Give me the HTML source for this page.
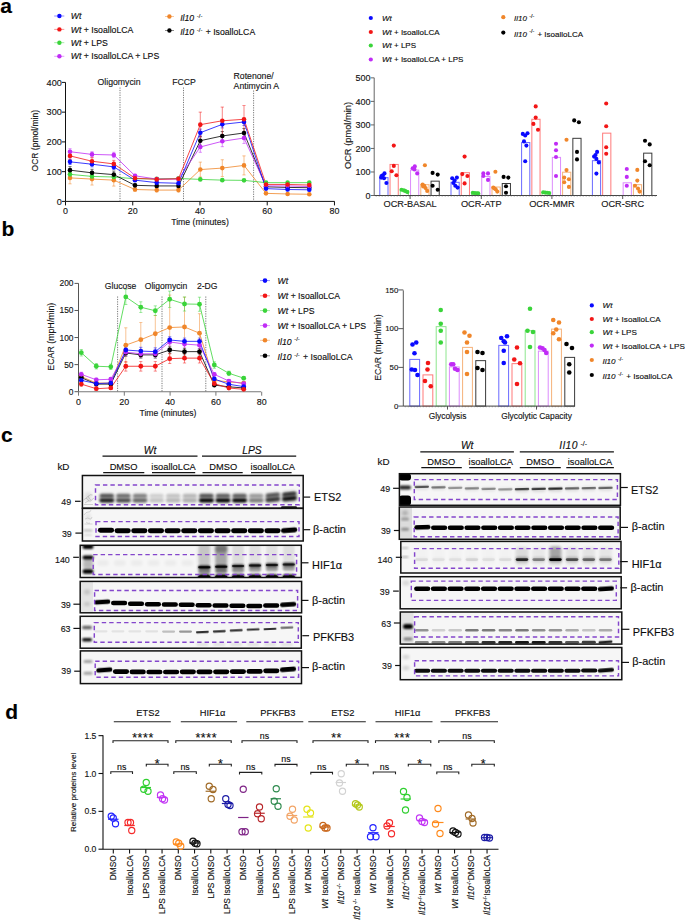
<!DOCTYPE html><html><head><meta charset="utf-8"><style>html,body{margin:0;padding:0;background:#fff;}svg{display:block;}text{font-family:"Liberation Sans",sans-serif;stroke:currentColor;stroke-width:0.13px;}</style></head><body>
<svg width="685" height="921" viewBox="0 0 685 921" font-family="Liberation Sans, sans-serif" fill="#111">
<defs><filter id="b1" x="-20%" y="-50%" width="140%" height="200%"><feGaussianBlur stdDeviation="0.9"/></filter><filter id="b2" x="-20%" y="-50%" width="140%" height="200%"><feGaussianBlur stdDeviation="1.4"/></filter><filter id="b3" x="-20%" y="-50%" width="140%" height="200%"><feGaussianBlur stdDeviation="0.6"/></filter><filter id="b5" x="-20%" y="-50%" width="140%" height="200%"><feGaussianBlur stdDeviation="0.75"/></filter><filter id="b4" x="-30%" y="-30%" width="160%" height="160%"><feGaussianBlur stdDeviation="2.2"/></filter></defs>
<rect x="0" y="0" width="685" height="921" fill="#fff" stroke="none" stroke-width="0"/>
<text x="0.2" y="12.6" font-size="21" font-weight="bold" fill="#000">a</text>
<text x="1.6" y="236.3" font-size="21" font-weight="bold" fill="#000">b</text>
<text x="1" y="442.2" font-size="21" font-weight="bold" fill="#000">c</text>
<text x="5.2" y="718.9" font-size="21" font-weight="bold" fill="#000">d</text>
<line x1="54.2" y1="16" x2="64.3" y2="16" stroke="#0a0aff" stroke-width="1" opacity="0.45"/>
<circle cx="59.4" cy="16" r="2.2" fill="#0a0aff" stroke="none" stroke-width="0"/>
<text x="70.8" y="19.1" font-size="8.7"><tspan font-style="italic">Wt</tspan></text>
<line x1="54.2" y1="29.4" x2="64.3" y2="29.4" stroke="#f21616" stroke-width="1" opacity="0.45"/>
<circle cx="59.4" cy="29.4" r="2.2" fill="#f21616" stroke="none" stroke-width="0"/>
<text x="70.8" y="32.5" font-size="8.7"><tspan font-style="italic">Wt</tspan> + IsoalloLCA</text>
<line x1="54.2" y1="42.7" x2="64.3" y2="42.7" stroke="#3ad43a" stroke-width="1" opacity="0.45"/>
<circle cx="59.4" cy="42.7" r="2.2" fill="#3ad43a" stroke="none" stroke-width="0"/>
<text x="70.8" y="45.8" font-size="8.7"><tspan font-style="italic">Wt</tspan> + LPS</text>
<line x1="54.2" y1="56.3" x2="64.3" y2="56.3" stroke="#c02cf6" stroke-width="1" opacity="0.45"/>
<circle cx="59.4" cy="56.3" r="2.2" fill="#c02cf6" stroke="none" stroke-width="0"/>
<text x="70.8" y="59.4" font-size="8.7"><tspan font-style="italic">Wt</tspan> + IsoalloLCA + LPS</text>
<line x1="165" y1="16.5" x2="174" y2="16.5" stroke="#f0862a" stroke-width="1" opacity="0.45"/>
<circle cx="169.4" cy="16.5" r="2.2" fill="#f0862a" stroke="none" stroke-width="0"/>
<text x="180.2" y="20.9" font-size="8.7"><tspan font-style="italic">Il10</tspan><tspan dx="2.61" dy="-3.3" font-size="5.92">-/-</tspan><tspan dx="0.87" dy="3.3"></tspan></text>
<line x1="165" y1="30.5" x2="174" y2="30.5" stroke="#000000" stroke-width="1" opacity="0.45"/>
<circle cx="169.4" cy="30.5" r="2.2" fill="#000000" stroke="none" stroke-width="0"/>
<text x="180.2" y="34.9" font-size="8.7"><tspan font-style="italic">Il10</tspan><tspan dx="2.61" dy="-3.3" font-size="5.92">-/-</tspan><tspan dx="0.87" dy="3.3"> + IsoalloLCA</tspan></text>
<line x1="65.5" y1="82.4" x2="65.5" y2="201.4" stroke="#111" stroke-width="1"/>
<line x1="65.5" y1="201.4" x2="334.6" y2="201.4" stroke="#111" stroke-width="1"/>
<line x1="61.9" y1="201.4" x2="65.5" y2="201.4" stroke="#111" stroke-width="1"/>
<text x="61.8" y="204.6" font-size="9.1" fill="#222" text-anchor="end">0</text>
<line x1="61.9" y1="171.65" x2="65.5" y2="171.65" stroke="#111" stroke-width="1"/>
<text x="61.8" y="174.85" font-size="9.1" fill="#222" text-anchor="end">100</text>
<line x1="61.9" y1="141.9" x2="65.5" y2="141.9" stroke="#111" stroke-width="1"/>
<text x="61.8" y="145.1" font-size="9.1" fill="#222" text-anchor="end">200</text>
<line x1="61.9" y1="112.15" x2="65.5" y2="112.15" stroke="#111" stroke-width="1"/>
<text x="61.8" y="115.35" font-size="9.1" fill="#222" text-anchor="end">300</text>
<line x1="61.9" y1="82.4" x2="65.5" y2="82.4" stroke="#111" stroke-width="1"/>
<text x="61.8" y="85.6" font-size="9.1" fill="#222" text-anchor="end">400</text>
<line x1="65.5" y1="201.4" x2="65.5" y2="205.4" stroke="#111" stroke-width="1"/>
<text x="65.5" y="213.7" font-size="8.9" fill="#222" text-anchor="middle">0</text>
<line x1="132.74" y1="201.4" x2="132.74" y2="205.4" stroke="#111" stroke-width="1"/>
<text x="132.74" y="213.7" font-size="8.9" fill="#222" text-anchor="middle">20</text>
<line x1="199.98" y1="201.4" x2="199.98" y2="205.4" stroke="#111" stroke-width="1"/>
<text x="199.98" y="213.7" font-size="8.9" fill="#222" text-anchor="middle">40</text>
<line x1="267.22" y1="201.4" x2="267.22" y2="205.4" stroke="#111" stroke-width="1"/>
<text x="267.22" y="213.7" font-size="8.9" fill="#222" text-anchor="middle">60</text>
<line x1="334.46" y1="201.4" x2="334.46" y2="205.4" stroke="#111" stroke-width="1"/>
<text x="334.46" y="213.7" font-size="8.9" fill="#222" text-anchor="middle">80</text>
<text x="200" y="225.1" font-size="8.7" fill="#222" text-anchor="middle">Time (minutes)</text>
<text x="38.4" y="140.7" font-size="8.5" fill="#222" text-anchor="middle" transform="rotate(-90 38.4 140.7)">OCR (pmol/min)</text>
<line x1="120" y1="87.5" x2="120" y2="201.4" stroke="#555" stroke-width="0.8" stroke-dasharray="1.2,1.2"/>
<line x1="183.5" y1="87.5" x2="183.5" y2="201.4" stroke="#555" stroke-width="0.8" stroke-dasharray="1.2,1.2"/>
<line x1="253.6" y1="90.5" x2="253.6" y2="201.4" stroke="#555" stroke-width="0.8" stroke-dasharray="1.2,1.2"/>
<text x="119" y="85.1" font-size="8.7" fill="#222" text-anchor="middle">Oligomycin</text>
<text x="184" y="85.1" font-size="8.7" fill="#222" text-anchor="middle">FCCP</text>
<text x="233.6" y="79.3" font-size="8.7" fill="#222">Rotenone/</text>
<text x="233.6" y="88.8" font-size="8.7" fill="#222">Antimycin A</text>
<line x1="70" y1="183.85" x2="70" y2="171.95" stroke="#f0862a" stroke-width="0.7" opacity="0.75"/>
<line x1="68.4" y1="171.95" x2="71.6" y2="171.95" stroke="#f0862a" stroke-width="0.7" opacity="0.75"/>
<line x1="68.4" y1="183.85" x2="71.6" y2="183.85" stroke="#f0862a" stroke-width="0.7" opacity="0.75"/>
<line x1="92" y1="185.04" x2="92" y2="173.14" stroke="#f0862a" stroke-width="0.7" opacity="0.75"/>
<line x1="90.4" y1="173.14" x2="93.6" y2="173.14" stroke="#f0862a" stroke-width="0.7" opacity="0.75"/>
<line x1="90.4" y1="185.04" x2="93.6" y2="185.04" stroke="#f0862a" stroke-width="0.7" opacity="0.75"/>
<line x1="113.8" y1="186.08" x2="113.8" y2="174.18" stroke="#f0862a" stroke-width="0.7" opacity="0.75"/>
<line x1="112.2" y1="174.18" x2="115.4" y2="174.18" stroke="#f0862a" stroke-width="0.7" opacity="0.75"/>
<line x1="112.2" y1="186.08" x2="115.4" y2="186.08" stroke="#f0862a" stroke-width="0.7" opacity="0.75"/>
<line x1="135" y1="191.28" x2="135" y2="187.72" stroke="#f0862a" stroke-width="0.7" opacity="0.75"/>
<line x1="133.4" y1="187.72" x2="136.6" y2="187.72" stroke="#f0862a" stroke-width="0.7" opacity="0.75"/>
<line x1="133.4" y1="191.28" x2="136.6" y2="191.28" stroke="#f0862a" stroke-width="0.7" opacity="0.75"/>
<line x1="156.7" y1="191.88" x2="156.7" y2="188.31" stroke="#f0862a" stroke-width="0.7" opacity="0.75"/>
<line x1="155.1" y1="188.31" x2="158.3" y2="188.31" stroke="#f0862a" stroke-width="0.7" opacity="0.75"/>
<line x1="155.1" y1="191.88" x2="158.3" y2="191.88" stroke="#f0862a" stroke-width="0.7" opacity="0.75"/>
<line x1="178.5" y1="191.88" x2="178.5" y2="188.31" stroke="#f0862a" stroke-width="0.7" opacity="0.75"/>
<line x1="176.9" y1="188.31" x2="180.1" y2="188.31" stroke="#f0862a" stroke-width="0.7" opacity="0.75"/>
<line x1="176.9" y1="191.88" x2="180.1" y2="191.88" stroke="#f0862a" stroke-width="0.7" opacity="0.75"/>
<line x1="200.3" y1="177" x2="200.3" y2="162.13" stroke="#f0862a" stroke-width="0.7" opacity="0.75"/>
<line x1="198.7" y1="162.13" x2="201.9" y2="162.13" stroke="#f0862a" stroke-width="0.7" opacity="0.75"/>
<line x1="198.7" y1="177" x2="201.9" y2="177" stroke="#f0862a" stroke-width="0.7" opacity="0.75"/>
<line x1="222.3" y1="176.41" x2="222.3" y2="159.75" stroke="#f0862a" stroke-width="0.7" opacity="0.75"/>
<line x1="220.7" y1="159.75" x2="223.9" y2="159.75" stroke="#f0862a" stroke-width="0.7" opacity="0.75"/>
<line x1="220.7" y1="176.41" x2="223.9" y2="176.41" stroke="#f0862a" stroke-width="0.7" opacity="0.75"/>
<line x1="244" y1="174.92" x2="244" y2="155.88" stroke="#f0862a" stroke-width="0.7" opacity="0.75"/>
<line x1="242.4" y1="155.88" x2="245.6" y2="155.88" stroke="#f0862a" stroke-width="0.7" opacity="0.75"/>
<line x1="242.4" y1="174.92" x2="245.6" y2="174.92" stroke="#f0862a" stroke-width="0.7" opacity="0.75"/>
<line x1="266" y1="194.26" x2="266" y2="192.47" stroke="#f0862a" stroke-width="0.7" opacity="0.75"/>
<line x1="264.4" y1="192.47" x2="267.6" y2="192.47" stroke="#f0862a" stroke-width="0.7" opacity="0.75"/>
<line x1="264.4" y1="194.26" x2="267.6" y2="194.26" stroke="#f0862a" stroke-width="0.7" opacity="0.75"/>
<line x1="287.6" y1="194.86" x2="287.6" y2="193.07" stroke="#f0862a" stroke-width="0.7" opacity="0.75"/>
<line x1="286" y1="193.07" x2="289.2" y2="193.07" stroke="#f0862a" stroke-width="0.7" opacity="0.75"/>
<line x1="286" y1="194.86" x2="289.2" y2="194.86" stroke="#f0862a" stroke-width="0.7" opacity="0.75"/>
<line x1="309.3" y1="195.15" x2="309.3" y2="193.37" stroke="#f0862a" stroke-width="0.7" opacity="0.75"/>
<line x1="307.7" y1="193.37" x2="310.9" y2="193.37" stroke="#f0862a" stroke-width="0.7" opacity="0.75"/>
<line x1="307.7" y1="195.15" x2="310.9" y2="195.15" stroke="#f0862a" stroke-width="0.7" opacity="0.75"/>
<line x1="70" y1="176.41" x2="70" y2="172.25" stroke="#3ad43a" stroke-width="0.7" opacity="0.75"/>
<line x1="68.4" y1="172.25" x2="71.6" y2="172.25" stroke="#3ad43a" stroke-width="0.7" opacity="0.75"/>
<line x1="68.4" y1="176.41" x2="71.6" y2="176.41" stroke="#3ad43a" stroke-width="0.7" opacity="0.75"/>
<line x1="92" y1="178.19" x2="92" y2="174.62" stroke="#3ad43a" stroke-width="0.7" opacity="0.75"/>
<line x1="90.4" y1="174.62" x2="93.6" y2="174.62" stroke="#3ad43a" stroke-width="0.7" opacity="0.75"/>
<line x1="90.4" y1="178.19" x2="93.6" y2="178.19" stroke="#3ad43a" stroke-width="0.7" opacity="0.75"/>
<line x1="113.8" y1="178.79" x2="113.8" y2="175.22" stroke="#3ad43a" stroke-width="0.7" opacity="0.75"/>
<line x1="112.2" y1="175.22" x2="115.4" y2="175.22" stroke="#3ad43a" stroke-width="0.7" opacity="0.75"/>
<line x1="112.2" y1="178.79" x2="115.4" y2="178.79" stroke="#3ad43a" stroke-width="0.7" opacity="0.75"/>
<line x1="135" y1="179.68" x2="135" y2="177.9" stroke="#3ad43a" stroke-width="0.7" opacity="0.75"/>
<line x1="133.4" y1="177.9" x2="136.6" y2="177.9" stroke="#3ad43a" stroke-width="0.7" opacity="0.75"/>
<line x1="133.4" y1="179.68" x2="136.6" y2="179.68" stroke="#3ad43a" stroke-width="0.7" opacity="0.75"/>
<line x1="156.7" y1="179.68" x2="156.7" y2="177.9" stroke="#3ad43a" stroke-width="0.7" opacity="0.75"/>
<line x1="155.1" y1="177.9" x2="158.3" y2="177.9" stroke="#3ad43a" stroke-width="0.7" opacity="0.75"/>
<line x1="155.1" y1="179.68" x2="158.3" y2="179.68" stroke="#3ad43a" stroke-width="0.7" opacity="0.75"/>
<line x1="178.5" y1="179.38" x2="178.5" y2="177.6" stroke="#3ad43a" stroke-width="0.7" opacity="0.75"/>
<line x1="176.9" y1="177.6" x2="180.1" y2="177.6" stroke="#3ad43a" stroke-width="0.7" opacity="0.75"/>
<line x1="176.9" y1="179.38" x2="180.1" y2="179.38" stroke="#3ad43a" stroke-width="0.7" opacity="0.75"/>
<line x1="200.3" y1="180.28" x2="200.3" y2="178.49" stroke="#3ad43a" stroke-width="0.7" opacity="0.75"/>
<line x1="198.7" y1="178.49" x2="201.9" y2="178.49" stroke="#3ad43a" stroke-width="0.7" opacity="0.75"/>
<line x1="198.7" y1="180.28" x2="201.9" y2="180.28" stroke="#3ad43a" stroke-width="0.7" opacity="0.75"/>
<line x1="222.3" y1="181.02" x2="222.3" y2="179.24" stroke="#3ad43a" stroke-width="0.7" opacity="0.75"/>
<line x1="220.7" y1="179.24" x2="223.9" y2="179.24" stroke="#3ad43a" stroke-width="0.7" opacity="0.75"/>
<line x1="220.7" y1="181.02" x2="223.9" y2="181.02" stroke="#3ad43a" stroke-width="0.7" opacity="0.75"/>
<line x1="244" y1="181.26" x2="244" y2="179.47" stroke="#3ad43a" stroke-width="0.7" opacity="0.75"/>
<line x1="242.4" y1="179.47" x2="245.6" y2="179.47" stroke="#3ad43a" stroke-width="0.7" opacity="0.75"/>
<line x1="242.4" y1="181.26" x2="245.6" y2="181.26" stroke="#3ad43a" stroke-width="0.7" opacity="0.75"/>
<line x1="266" y1="183.55" x2="266" y2="181.77" stroke="#3ad43a" stroke-width="0.7" opacity="0.75"/>
<line x1="264.4" y1="181.77" x2="267.6" y2="181.77" stroke="#3ad43a" stroke-width="0.7" opacity="0.75"/>
<line x1="264.4" y1="183.55" x2="267.6" y2="183.55" stroke="#3ad43a" stroke-width="0.7" opacity="0.75"/>
<line x1="287.6" y1="183.55" x2="287.6" y2="181.77" stroke="#3ad43a" stroke-width="0.7" opacity="0.75"/>
<line x1="286" y1="181.77" x2="289.2" y2="181.77" stroke="#3ad43a" stroke-width="0.7" opacity="0.75"/>
<line x1="286" y1="183.55" x2="289.2" y2="183.55" stroke="#3ad43a" stroke-width="0.7" opacity="0.75"/>
<line x1="309.3" y1="183.55" x2="309.3" y2="181.77" stroke="#3ad43a" stroke-width="0.7" opacity="0.75"/>
<line x1="307.7" y1="181.77" x2="310.9" y2="181.77" stroke="#3ad43a" stroke-width="0.7" opacity="0.75"/>
<line x1="307.7" y1="183.55" x2="310.9" y2="183.55" stroke="#3ad43a" stroke-width="0.7" opacity="0.75"/>
<line x1="70" y1="173.73" x2="70" y2="166.59" stroke="#000000" stroke-width="0.7" opacity="0.75"/>
<line x1="68.4" y1="166.59" x2="71.6" y2="166.59" stroke="#000000" stroke-width="0.7" opacity="0.75"/>
<line x1="68.4" y1="173.73" x2="71.6" y2="173.73" stroke="#000000" stroke-width="0.7" opacity="0.75"/>
<line x1="92" y1="176.41" x2="92" y2="169.27" stroke="#000000" stroke-width="0.7" opacity="0.75"/>
<line x1="90.4" y1="169.27" x2="93.6" y2="169.27" stroke="#000000" stroke-width="0.7" opacity="0.75"/>
<line x1="90.4" y1="176.41" x2="93.6" y2="176.41" stroke="#000000" stroke-width="0.7" opacity="0.75"/>
<line x1="113.8" y1="178.19" x2="113.8" y2="171.06" stroke="#000000" stroke-width="0.7" opacity="0.75"/>
<line x1="112.2" y1="171.06" x2="115.4" y2="171.06" stroke="#000000" stroke-width="0.7" opacity="0.75"/>
<line x1="112.2" y1="178.19" x2="115.4" y2="178.19" stroke="#000000" stroke-width="0.7" opacity="0.75"/>
<line x1="135" y1="186.82" x2="135" y2="183.85" stroke="#000000" stroke-width="0.7" opacity="0.75"/>
<line x1="133.4" y1="183.85" x2="136.6" y2="183.85" stroke="#000000" stroke-width="0.7" opacity="0.75"/>
<line x1="133.4" y1="186.82" x2="136.6" y2="186.82" stroke="#000000" stroke-width="0.7" opacity="0.75"/>
<line x1="156.7" y1="187.42" x2="156.7" y2="184.44" stroke="#000000" stroke-width="0.7" opacity="0.75"/>
<line x1="155.1" y1="184.44" x2="158.3" y2="184.44" stroke="#000000" stroke-width="0.7" opacity="0.75"/>
<line x1="155.1" y1="187.42" x2="158.3" y2="187.42" stroke="#000000" stroke-width="0.7" opacity="0.75"/>
<line x1="178.5" y1="187.42" x2="178.5" y2="184.44" stroke="#000000" stroke-width="0.7" opacity="0.75"/>
<line x1="176.9" y1="184.44" x2="180.1" y2="184.44" stroke="#000000" stroke-width="0.7" opacity="0.75"/>
<line x1="176.9" y1="187.42" x2="180.1" y2="187.42" stroke="#000000" stroke-width="0.7" opacity="0.75"/>
<line x1="200.3" y1="145.17" x2="200.3" y2="136.25" stroke="#000000" stroke-width="0.7" opacity="0.75"/>
<line x1="198.7" y1="136.25" x2="201.9" y2="136.25" stroke="#000000" stroke-width="0.7" opacity="0.75"/>
<line x1="198.7" y1="145.17" x2="201.9" y2="145.17" stroke="#000000" stroke-width="0.7" opacity="0.75"/>
<line x1="222.3" y1="140.41" x2="222.3" y2="131.49" stroke="#000000" stroke-width="0.7" opacity="0.75"/>
<line x1="220.7" y1="131.49" x2="223.9" y2="131.49" stroke="#000000" stroke-width="0.7" opacity="0.75"/>
<line x1="220.7" y1="140.41" x2="223.9" y2="140.41" stroke="#000000" stroke-width="0.7" opacity="0.75"/>
<line x1="244" y1="137.44" x2="244" y2="128.51" stroke="#000000" stroke-width="0.7" opacity="0.75"/>
<line x1="242.4" y1="128.51" x2="245.6" y2="128.51" stroke="#000000" stroke-width="0.7" opacity="0.75"/>
<line x1="242.4" y1="137.44" x2="245.6" y2="137.44" stroke="#000000" stroke-width="0.7" opacity="0.75"/>
<line x1="266" y1="188.01" x2="266" y2="185.63" stroke="#000000" stroke-width="0.7" opacity="0.75"/>
<line x1="264.4" y1="185.63" x2="267.6" y2="185.63" stroke="#000000" stroke-width="0.7" opacity="0.75"/>
<line x1="264.4" y1="188.01" x2="267.6" y2="188.01" stroke="#000000" stroke-width="0.7" opacity="0.75"/>
<line x1="287.6" y1="188.61" x2="287.6" y2="186.23" stroke="#000000" stroke-width="0.7" opacity="0.75"/>
<line x1="286" y1="186.23" x2="289.2" y2="186.23" stroke="#000000" stroke-width="0.7" opacity="0.75"/>
<line x1="286" y1="188.61" x2="289.2" y2="188.61" stroke="#000000" stroke-width="0.7" opacity="0.75"/>
<line x1="309.3" y1="188.91" x2="309.3" y2="186.53" stroke="#000000" stroke-width="0.7" opacity="0.75"/>
<line x1="307.7" y1="186.53" x2="310.9" y2="186.53" stroke="#000000" stroke-width="0.7" opacity="0.75"/>
<line x1="307.7" y1="188.91" x2="310.9" y2="188.91" stroke="#000000" stroke-width="0.7" opacity="0.75"/>
<line x1="70" y1="154.69" x2="70" y2="148.74" stroke="#c02cf6" stroke-width="0.7" opacity="0.75"/>
<line x1="68.4" y1="148.74" x2="71.6" y2="148.74" stroke="#c02cf6" stroke-width="0.7" opacity="0.75"/>
<line x1="68.4" y1="154.69" x2="71.6" y2="154.69" stroke="#c02cf6" stroke-width="0.7" opacity="0.75"/>
<line x1="92" y1="157.07" x2="92" y2="151.72" stroke="#c02cf6" stroke-width="0.7" opacity="0.75"/>
<line x1="90.4" y1="151.72" x2="93.6" y2="151.72" stroke="#c02cf6" stroke-width="0.7" opacity="0.75"/>
<line x1="90.4" y1="157.07" x2="93.6" y2="157.07" stroke="#c02cf6" stroke-width="0.7" opacity="0.75"/>
<line x1="113.8" y1="157.67" x2="113.8" y2="152.31" stroke="#c02cf6" stroke-width="0.7" opacity="0.75"/>
<line x1="112.2" y1="152.31" x2="115.4" y2="152.31" stroke="#c02cf6" stroke-width="0.7" opacity="0.75"/>
<line x1="112.2" y1="157.67" x2="115.4" y2="157.67" stroke="#c02cf6" stroke-width="0.7" opacity="0.75"/>
<line x1="135" y1="177.3" x2="135" y2="174.33" stroke="#c02cf6" stroke-width="0.7" opacity="0.75"/>
<line x1="133.4" y1="174.33" x2="136.6" y2="174.33" stroke="#c02cf6" stroke-width="0.7" opacity="0.75"/>
<line x1="133.4" y1="177.3" x2="136.6" y2="177.3" stroke="#c02cf6" stroke-width="0.7" opacity="0.75"/>
<line x1="156.7" y1="180.58" x2="156.7" y2="177.6" stroke="#c02cf6" stroke-width="0.7" opacity="0.75"/>
<line x1="155.1" y1="177.6" x2="158.3" y2="177.6" stroke="#c02cf6" stroke-width="0.7" opacity="0.75"/>
<line x1="155.1" y1="180.58" x2="158.3" y2="180.58" stroke="#c02cf6" stroke-width="0.7" opacity="0.75"/>
<line x1="178.5" y1="180.58" x2="178.5" y2="177.6" stroke="#c02cf6" stroke-width="0.7" opacity="0.75"/>
<line x1="176.9" y1="177.6" x2="180.1" y2="177.6" stroke="#c02cf6" stroke-width="0.7" opacity="0.75"/>
<line x1="176.9" y1="180.58" x2="180.1" y2="180.58" stroke="#c02cf6" stroke-width="0.7" opacity="0.75"/>
<line x1="200.3" y1="152.31" x2="200.3" y2="141.6" stroke="#c02cf6" stroke-width="0.7" opacity="0.75"/>
<line x1="198.7" y1="141.6" x2="201.9" y2="141.6" stroke="#c02cf6" stroke-width="0.7" opacity="0.75"/>
<line x1="198.7" y1="152.31" x2="201.9" y2="152.31" stroke="#c02cf6" stroke-width="0.7" opacity="0.75"/>
<line x1="222.3" y1="146.66" x2="222.3" y2="135.95" stroke="#c02cf6" stroke-width="0.7" opacity="0.75"/>
<line x1="220.7" y1="135.95" x2="223.9" y2="135.95" stroke="#c02cf6" stroke-width="0.7" opacity="0.75"/>
<line x1="220.7" y1="146.66" x2="223.9" y2="146.66" stroke="#c02cf6" stroke-width="0.7" opacity="0.75"/>
<line x1="244" y1="143.39" x2="244" y2="132.68" stroke="#c02cf6" stroke-width="0.7" opacity="0.75"/>
<line x1="242.4" y1="132.68" x2="245.6" y2="132.68" stroke="#c02cf6" stroke-width="0.7" opacity="0.75"/>
<line x1="242.4" y1="143.39" x2="245.6" y2="143.39" stroke="#c02cf6" stroke-width="0.7" opacity="0.75"/>
<line x1="266" y1="187.12" x2="266" y2="184.74" stroke="#c02cf6" stroke-width="0.7" opacity="0.75"/>
<line x1="264.4" y1="184.74" x2="267.6" y2="184.74" stroke="#c02cf6" stroke-width="0.7" opacity="0.75"/>
<line x1="264.4" y1="187.12" x2="267.6" y2="187.12" stroke="#c02cf6" stroke-width="0.7" opacity="0.75"/>
<line x1="287.6" y1="187.12" x2="287.6" y2="184.74" stroke="#c02cf6" stroke-width="0.7" opacity="0.75"/>
<line x1="286" y1="184.74" x2="289.2" y2="184.74" stroke="#c02cf6" stroke-width="0.7" opacity="0.75"/>
<line x1="286" y1="187.12" x2="289.2" y2="187.12" stroke="#c02cf6" stroke-width="0.7" opacity="0.75"/>
<line x1="309.3" y1="187.72" x2="309.3" y2="185.34" stroke="#c02cf6" stroke-width="0.7" opacity="0.75"/>
<line x1="307.7" y1="185.34" x2="310.9" y2="185.34" stroke="#c02cf6" stroke-width="0.7" opacity="0.75"/>
<line x1="307.7" y1="187.72" x2="310.9" y2="187.72" stroke="#c02cf6" stroke-width="0.7" opacity="0.75"/>
<line x1="70" y1="164.51" x2="70" y2="159.16" stroke="#0a0aff" stroke-width="0.7" opacity="0.75"/>
<line x1="68.4" y1="159.16" x2="71.6" y2="159.16" stroke="#0a0aff" stroke-width="0.7" opacity="0.75"/>
<line x1="68.4" y1="164.51" x2="71.6" y2="164.51" stroke="#0a0aff" stroke-width="0.7" opacity="0.75"/>
<line x1="92" y1="166.89" x2="92" y2="161.54" stroke="#0a0aff" stroke-width="0.7" opacity="0.75"/>
<line x1="90.4" y1="161.54" x2="93.6" y2="161.54" stroke="#0a0aff" stroke-width="0.7" opacity="0.75"/>
<line x1="90.4" y1="166.89" x2="93.6" y2="166.89" stroke="#0a0aff" stroke-width="0.7" opacity="0.75"/>
<line x1="113.8" y1="169.57" x2="113.8" y2="164.21" stroke="#0a0aff" stroke-width="0.7" opacity="0.75"/>
<line x1="112.2" y1="164.21" x2="115.4" y2="164.21" stroke="#0a0aff" stroke-width="0.7" opacity="0.75"/>
<line x1="112.2" y1="169.57" x2="115.4" y2="169.57" stroke="#0a0aff" stroke-width="0.7" opacity="0.75"/>
<line x1="135" y1="181.62" x2="135" y2="178.64" stroke="#0a0aff" stroke-width="0.7" opacity="0.75"/>
<line x1="133.4" y1="178.64" x2="136.6" y2="178.64" stroke="#0a0aff" stroke-width="0.7" opacity="0.75"/>
<line x1="133.4" y1="181.62" x2="136.6" y2="181.62" stroke="#0a0aff" stroke-width="0.7" opacity="0.75"/>
<line x1="156.7" y1="184.15" x2="156.7" y2="181.17" stroke="#0a0aff" stroke-width="0.7" opacity="0.75"/>
<line x1="155.1" y1="181.17" x2="158.3" y2="181.17" stroke="#0a0aff" stroke-width="0.7" opacity="0.75"/>
<line x1="155.1" y1="184.15" x2="158.3" y2="184.15" stroke="#0a0aff" stroke-width="0.7" opacity="0.75"/>
<line x1="178.5" y1="184.74" x2="178.5" y2="181.77" stroke="#0a0aff" stroke-width="0.7" opacity="0.75"/>
<line x1="176.9" y1="181.77" x2="180.1" y2="181.77" stroke="#0a0aff" stroke-width="0.7" opacity="0.75"/>
<line x1="176.9" y1="184.74" x2="180.1" y2="184.74" stroke="#0a0aff" stroke-width="0.7" opacity="0.75"/>
<line x1="200.3" y1="136.25" x2="200.3" y2="129.11" stroke="#0a0aff" stroke-width="0.7" opacity="0.75"/>
<line x1="198.7" y1="129.11" x2="201.9" y2="129.11" stroke="#0a0aff" stroke-width="0.7" opacity="0.75"/>
<line x1="198.7" y1="136.25" x2="201.9" y2="136.25" stroke="#0a0aff" stroke-width="0.7" opacity="0.75"/>
<line x1="222.3" y1="127.92" x2="222.3" y2="120.78" stroke="#0a0aff" stroke-width="0.7" opacity="0.75"/>
<line x1="220.7" y1="120.78" x2="223.9" y2="120.78" stroke="#0a0aff" stroke-width="0.7" opacity="0.75"/>
<line x1="220.7" y1="127.92" x2="223.9" y2="127.92" stroke="#0a0aff" stroke-width="0.7" opacity="0.75"/>
<line x1="244" y1="125.54" x2="244" y2="118.4" stroke="#0a0aff" stroke-width="0.7" opacity="0.75"/>
<line x1="242.4" y1="118.4" x2="245.6" y2="118.4" stroke="#0a0aff" stroke-width="0.7" opacity="0.75"/>
<line x1="242.4" y1="125.54" x2="245.6" y2="125.54" stroke="#0a0aff" stroke-width="0.7" opacity="0.75"/>
<line x1="266" y1="189.8" x2="266" y2="187.42" stroke="#0a0aff" stroke-width="0.7" opacity="0.75"/>
<line x1="264.4" y1="187.42" x2="267.6" y2="187.42" stroke="#0a0aff" stroke-width="0.7" opacity="0.75"/>
<line x1="264.4" y1="189.8" x2="267.6" y2="189.8" stroke="#0a0aff" stroke-width="0.7" opacity="0.75"/>
<line x1="287.6" y1="190.69" x2="287.6" y2="188.31" stroke="#0a0aff" stroke-width="0.7" opacity="0.75"/>
<line x1="286" y1="188.31" x2="289.2" y2="188.31" stroke="#0a0aff" stroke-width="0.7" opacity="0.75"/>
<line x1="286" y1="190.69" x2="289.2" y2="190.69" stroke="#0a0aff" stroke-width="0.7" opacity="0.75"/>
<line x1="309.3" y1="190.99" x2="309.3" y2="188.61" stroke="#0a0aff" stroke-width="0.7" opacity="0.75"/>
<line x1="307.7" y1="188.61" x2="310.9" y2="188.61" stroke="#0a0aff" stroke-width="0.7" opacity="0.75"/>
<line x1="307.7" y1="190.99" x2="310.9" y2="190.99" stroke="#0a0aff" stroke-width="0.7" opacity="0.75"/>
<line x1="70" y1="159.45" x2="70" y2="152.31" stroke="#f21616" stroke-width="0.7" opacity="0.75"/>
<line x1="68.4" y1="152.31" x2="71.6" y2="152.31" stroke="#f21616" stroke-width="0.7" opacity="0.75"/>
<line x1="68.4" y1="159.45" x2="71.6" y2="159.45" stroke="#f21616" stroke-width="0.7" opacity="0.75"/>
<line x1="92" y1="164.81" x2="92" y2="157.67" stroke="#f21616" stroke-width="0.7" opacity="0.75"/>
<line x1="90.4" y1="157.67" x2="93.6" y2="157.67" stroke="#f21616" stroke-width="0.7" opacity="0.75"/>
<line x1="90.4" y1="164.81" x2="93.6" y2="164.81" stroke="#f21616" stroke-width="0.7" opacity="0.75"/>
<line x1="113.8" y1="167.49" x2="113.8" y2="160.34" stroke="#f21616" stroke-width="0.7" opacity="0.75"/>
<line x1="112.2" y1="160.34" x2="115.4" y2="160.34" stroke="#f21616" stroke-width="0.7" opacity="0.75"/>
<line x1="112.2" y1="167.49" x2="115.4" y2="167.49" stroke="#f21616" stroke-width="0.7" opacity="0.75"/>
<line x1="135" y1="179.98" x2="135" y2="176.41" stroke="#f21616" stroke-width="0.7" opacity="0.75"/>
<line x1="133.4" y1="176.41" x2="136.6" y2="176.41" stroke="#f21616" stroke-width="0.7" opacity="0.75"/>
<line x1="133.4" y1="179.98" x2="136.6" y2="179.98" stroke="#f21616" stroke-width="0.7" opacity="0.75"/>
<line x1="156.7" y1="181.17" x2="156.7" y2="177.6" stroke="#f21616" stroke-width="0.7" opacity="0.75"/>
<line x1="155.1" y1="177.6" x2="158.3" y2="177.6" stroke="#f21616" stroke-width="0.7" opacity="0.75"/>
<line x1="155.1" y1="181.17" x2="158.3" y2="181.17" stroke="#f21616" stroke-width="0.7" opacity="0.75"/>
<line x1="178.5" y1="180.58" x2="178.5" y2="177" stroke="#f21616" stroke-width="0.7" opacity="0.75"/>
<line x1="176.9" y1="177" x2="180.1" y2="177" stroke="#f21616" stroke-width="0.7" opacity="0.75"/>
<line x1="176.9" y1="180.58" x2="180.1" y2="180.58" stroke="#f21616" stroke-width="0.7" opacity="0.75"/>
<line x1="200.3" y1="137.14" x2="200.3" y2="112.15" stroke="#f21616" stroke-width="0.7" opacity="0.75"/>
<line x1="198.7" y1="112.15" x2="201.9" y2="112.15" stroke="#f21616" stroke-width="0.7" opacity="0.75"/>
<line x1="198.7" y1="137.14" x2="201.9" y2="137.14" stroke="#f21616" stroke-width="0.7" opacity="0.75"/>
<line x1="222.3" y1="134.46" x2="222.3" y2="107.09" stroke="#f21616" stroke-width="0.7" opacity="0.75"/>
<line x1="220.7" y1="107.09" x2="223.9" y2="107.09" stroke="#f21616" stroke-width="0.7" opacity="0.75"/>
<line x1="220.7" y1="134.46" x2="223.9" y2="134.46" stroke="#f21616" stroke-width="0.7" opacity="0.75"/>
<line x1="244" y1="132.98" x2="244" y2="105.61" stroke="#f21616" stroke-width="0.7" opacity="0.75"/>
<line x1="242.4" y1="105.61" x2="245.6" y2="105.61" stroke="#f21616" stroke-width="0.7" opacity="0.75"/>
<line x1="242.4" y1="132.98" x2="245.6" y2="132.98" stroke="#f21616" stroke-width="0.7" opacity="0.75"/>
<line x1="266" y1="185.63" x2="266" y2="183.25" stroke="#f21616" stroke-width="0.7" opacity="0.75"/>
<line x1="264.4" y1="183.25" x2="267.6" y2="183.25" stroke="#f21616" stroke-width="0.7" opacity="0.75"/>
<line x1="264.4" y1="185.63" x2="267.6" y2="185.63" stroke="#f21616" stroke-width="0.7" opacity="0.75"/>
<line x1="287.6" y1="185.63" x2="287.6" y2="183.25" stroke="#f21616" stroke-width="0.7" opacity="0.75"/>
<line x1="286" y1="183.25" x2="289.2" y2="183.25" stroke="#f21616" stroke-width="0.7" opacity="0.75"/>
<line x1="286" y1="185.63" x2="289.2" y2="185.63" stroke="#f21616" stroke-width="0.7" opacity="0.75"/>
<line x1="309.3" y1="186.23" x2="309.3" y2="183.85" stroke="#f21616" stroke-width="0.7" opacity="0.75"/>
<line x1="307.7" y1="183.85" x2="310.9" y2="183.85" stroke="#f21616" stroke-width="0.7" opacity="0.75"/>
<line x1="307.7" y1="186.23" x2="310.9" y2="186.23" stroke="#f21616" stroke-width="0.7" opacity="0.75"/>
<polyline points="70,177.9 92,179.09 113.8,180.13 135,189.5 156.7,190.09 178.5,190.09 200.3,169.57 222.3,168.08 244,165.4 266,193.37 287.6,193.96 309.3,194.26" fill="none" stroke="#f0862a" stroke-width="0.8"/>
<polyline points="70,174.33 92,176.41 113.8,177 135,178.79 156.7,178.79 178.5,178.49 200.3,179.38 222.3,180.13 244,180.37 266,182.66 287.6,182.66 309.3,182.66" fill="none" stroke="#3ad43a" stroke-width="0.8"/>
<polyline points="70,170.16 92,172.84 113.8,174.62 135,185.34 156.7,185.93 178.5,185.93 200.3,140.71 222.3,135.95 244,132.98 266,186.82 287.6,187.42 309.3,187.72" fill="none" stroke="#000000" stroke-width="0.8"/>
<polyline points="70,151.72 92,154.4 113.8,154.99 135,175.81 156.7,179.09 178.5,179.09 200.3,146.96 222.3,141.31 244,138.03 266,185.93 287.6,185.93 309.3,186.53" fill="none" stroke="#c02cf6" stroke-width="0.8"/>
<polyline points="70,161.83 92,164.21 113.8,166.89 135,180.13 156.7,182.66 178.5,183.25 200.3,132.68 222.3,124.35 244,121.97 266,188.61 287.6,189.5 309.3,189.8" fill="none" stroke="#0a0aff" stroke-width="0.8"/>
<polyline points="70,155.88 92,161.24 113.8,163.92 135,178.19 156.7,179.38 178.5,178.79 200.3,124.65 222.3,120.78 244,119.29 266,184.44 287.6,184.44 309.3,185.04" fill="none" stroke="#f21616" stroke-width="0.8"/>
<circle cx="70" cy="177.9" r="2.3" fill="#f0862a" stroke="none" stroke-width="0"/>
<circle cx="92" cy="179.09" r="2.3" fill="#f0862a" stroke="none" stroke-width="0"/>
<circle cx="113.8" cy="180.13" r="2.3" fill="#f0862a" stroke="none" stroke-width="0"/>
<circle cx="135" cy="189.5" r="2.3" fill="#f0862a" stroke="none" stroke-width="0"/>
<circle cx="156.7" cy="190.09" r="2.3" fill="#f0862a" stroke="none" stroke-width="0"/>
<circle cx="178.5" cy="190.09" r="2.3" fill="#f0862a" stroke="none" stroke-width="0"/>
<circle cx="200.3" cy="169.57" r="2.3" fill="#f0862a" stroke="none" stroke-width="0"/>
<circle cx="222.3" cy="168.08" r="2.3" fill="#f0862a" stroke="none" stroke-width="0"/>
<circle cx="244" cy="165.4" r="2.3" fill="#f0862a" stroke="none" stroke-width="0"/>
<circle cx="266" cy="193.37" r="2.3" fill="#f0862a" stroke="none" stroke-width="0"/>
<circle cx="287.6" cy="193.96" r="2.3" fill="#f0862a" stroke="none" stroke-width="0"/>
<circle cx="309.3" cy="194.26" r="2.3" fill="#f0862a" stroke="none" stroke-width="0"/>
<circle cx="70" cy="174.33" r="2.3" fill="#3ad43a" stroke="none" stroke-width="0"/>
<circle cx="92" cy="176.41" r="2.3" fill="#3ad43a" stroke="none" stroke-width="0"/>
<circle cx="113.8" cy="177" r="2.3" fill="#3ad43a" stroke="none" stroke-width="0"/>
<circle cx="135" cy="178.79" r="2.3" fill="#3ad43a" stroke="none" stroke-width="0"/>
<circle cx="156.7" cy="178.79" r="2.3" fill="#3ad43a" stroke="none" stroke-width="0"/>
<circle cx="178.5" cy="178.49" r="2.3" fill="#3ad43a" stroke="none" stroke-width="0"/>
<circle cx="200.3" cy="179.38" r="2.3" fill="#3ad43a" stroke="none" stroke-width="0"/>
<circle cx="222.3" cy="180.13" r="2.3" fill="#3ad43a" stroke="none" stroke-width="0"/>
<circle cx="244" cy="180.37" r="2.3" fill="#3ad43a" stroke="none" stroke-width="0"/>
<circle cx="266" cy="182.66" r="2.3" fill="#3ad43a" stroke="none" stroke-width="0"/>
<circle cx="287.6" cy="182.66" r="2.3" fill="#3ad43a" stroke="none" stroke-width="0"/>
<circle cx="309.3" cy="182.66" r="2.3" fill="#3ad43a" stroke="none" stroke-width="0"/>
<circle cx="70" cy="170.16" r="2.3" fill="#000000" stroke="none" stroke-width="0"/>
<circle cx="92" cy="172.84" r="2.3" fill="#000000" stroke="none" stroke-width="0"/>
<circle cx="113.8" cy="174.62" r="2.3" fill="#000000" stroke="none" stroke-width="0"/>
<circle cx="135" cy="185.34" r="2.3" fill="#000000" stroke="none" stroke-width="0"/>
<circle cx="156.7" cy="185.93" r="2.3" fill="#000000" stroke="none" stroke-width="0"/>
<circle cx="178.5" cy="185.93" r="2.3" fill="#000000" stroke="none" stroke-width="0"/>
<circle cx="200.3" cy="140.71" r="2.3" fill="#000000" stroke="none" stroke-width="0"/>
<circle cx="222.3" cy="135.95" r="2.3" fill="#000000" stroke="none" stroke-width="0"/>
<circle cx="244" cy="132.98" r="2.3" fill="#000000" stroke="none" stroke-width="0"/>
<circle cx="266" cy="186.82" r="2.3" fill="#000000" stroke="none" stroke-width="0"/>
<circle cx="287.6" cy="187.42" r="2.3" fill="#000000" stroke="none" stroke-width="0"/>
<circle cx="309.3" cy="187.72" r="2.3" fill="#000000" stroke="none" stroke-width="0"/>
<circle cx="70" cy="151.72" r="2.3" fill="#c02cf6" stroke="none" stroke-width="0"/>
<circle cx="92" cy="154.4" r="2.3" fill="#c02cf6" stroke="none" stroke-width="0"/>
<circle cx="113.8" cy="154.99" r="2.3" fill="#c02cf6" stroke="none" stroke-width="0"/>
<circle cx="135" cy="175.81" r="2.3" fill="#c02cf6" stroke="none" stroke-width="0"/>
<circle cx="156.7" cy="179.09" r="2.3" fill="#c02cf6" stroke="none" stroke-width="0"/>
<circle cx="178.5" cy="179.09" r="2.3" fill="#c02cf6" stroke="none" stroke-width="0"/>
<circle cx="200.3" cy="146.96" r="2.3" fill="#c02cf6" stroke="none" stroke-width="0"/>
<circle cx="222.3" cy="141.31" r="2.3" fill="#c02cf6" stroke="none" stroke-width="0"/>
<circle cx="244" cy="138.03" r="2.3" fill="#c02cf6" stroke="none" stroke-width="0"/>
<circle cx="266" cy="185.93" r="2.3" fill="#c02cf6" stroke="none" stroke-width="0"/>
<circle cx="287.6" cy="185.93" r="2.3" fill="#c02cf6" stroke="none" stroke-width="0"/>
<circle cx="309.3" cy="186.53" r="2.3" fill="#c02cf6" stroke="none" stroke-width="0"/>
<circle cx="70" cy="161.83" r="2.3" fill="#0a0aff" stroke="none" stroke-width="0"/>
<circle cx="92" cy="164.21" r="2.3" fill="#0a0aff" stroke="none" stroke-width="0"/>
<circle cx="113.8" cy="166.89" r="2.3" fill="#0a0aff" stroke="none" stroke-width="0"/>
<circle cx="135" cy="180.13" r="2.3" fill="#0a0aff" stroke="none" stroke-width="0"/>
<circle cx="156.7" cy="182.66" r="2.3" fill="#0a0aff" stroke="none" stroke-width="0"/>
<circle cx="178.5" cy="183.25" r="2.3" fill="#0a0aff" stroke="none" stroke-width="0"/>
<circle cx="200.3" cy="132.68" r="2.3" fill="#0a0aff" stroke="none" stroke-width="0"/>
<circle cx="222.3" cy="124.35" r="2.3" fill="#0a0aff" stroke="none" stroke-width="0"/>
<circle cx="244" cy="121.97" r="2.3" fill="#0a0aff" stroke="none" stroke-width="0"/>
<circle cx="266" cy="188.61" r="2.3" fill="#0a0aff" stroke="none" stroke-width="0"/>
<circle cx="287.6" cy="189.5" r="2.3" fill="#0a0aff" stroke="none" stroke-width="0"/>
<circle cx="309.3" cy="189.8" r="2.3" fill="#0a0aff" stroke="none" stroke-width="0"/>
<circle cx="70" cy="155.88" r="2.3" fill="#f21616" stroke="none" stroke-width="0"/>
<circle cx="92" cy="161.24" r="2.3" fill="#f21616" stroke="none" stroke-width="0"/>
<circle cx="113.8" cy="163.92" r="2.3" fill="#f21616" stroke="none" stroke-width="0"/>
<circle cx="135" cy="178.19" r="2.3" fill="#f21616" stroke="none" stroke-width="0"/>
<circle cx="156.7" cy="179.38" r="2.3" fill="#f21616" stroke="none" stroke-width="0"/>
<circle cx="178.5" cy="178.79" r="2.3" fill="#f21616" stroke="none" stroke-width="0"/>
<circle cx="200.3" cy="124.65" r="2.3" fill="#f21616" stroke="none" stroke-width="0"/>
<circle cx="222.3" cy="120.78" r="2.3" fill="#f21616" stroke="none" stroke-width="0"/>
<circle cx="244" cy="119.29" r="2.3" fill="#f21616" stroke="none" stroke-width="0"/>
<circle cx="266" cy="184.44" r="2.3" fill="#f21616" stroke="none" stroke-width="0"/>
<circle cx="287.6" cy="184.44" r="2.3" fill="#f21616" stroke="none" stroke-width="0"/>
<circle cx="309.3" cy="185.04" r="2.3" fill="#f21616" stroke="none" stroke-width="0"/>
<circle cx="370.8" cy="18" r="2.1" fill="#0a0aff" stroke="none" stroke-width="0"/>
<text x="382" y="20.8" font-size="8"><tspan font-style="italic">Wt</tspan></text>
<circle cx="370.8" cy="32" r="2.1" fill="#f21616" stroke="none" stroke-width="0"/>
<text x="382" y="34.8" font-size="8"><tspan font-style="italic">Wt</tspan> + IsoalloLCA</text>
<circle cx="370.8" cy="45.5" r="2.1" fill="#3ad43a" stroke="none" stroke-width="0"/>
<text x="382" y="48.3" font-size="8"><tspan font-style="italic">Wt</tspan> + LPS</text>
<circle cx="370.8" cy="59.5" r="2.1" fill="#c02cf6" stroke="none" stroke-width="0"/>
<text x="382" y="62.3" font-size="8"><tspan font-style="italic">Wt</tspan> + IsoalloLCA + LPS</text>
<circle cx="503.3" cy="17.2" r="2.1" fill="#f0862a" stroke="none" stroke-width="0"/>
<text x="514" y="21.3" font-size="8"><tspan font-style="italic">Il10</tspan><tspan dx="2.4" dy="-3.3" font-size="5.44">-/-</tspan><tspan dx="0.8" dy="3.3"></tspan></text>
<circle cx="503.3" cy="32.6" r="2.1" fill="#000000" stroke="none" stroke-width="0"/>
<text x="514" y="36.7" font-size="8"><tspan font-style="italic">Il10</tspan><tspan dx="2.4" dy="-3.3" font-size="5.44">-/-</tspan><tspan dx="0.8" dy="3.3"> + IsoalloLCA</tspan></text>
<line x1="374.2" y1="77.8" x2="374.2" y2="195.5" stroke="#555" stroke-width="0.9"/>
<line x1="370.7" y1="195.5" x2="374.2" y2="195.5" stroke="#555" stroke-width="0.9"/>
<text x="370.6" y="198.7" font-size="9" fill="#222" text-anchor="end">0</text>
<line x1="370.7" y1="171.97" x2="374.2" y2="171.97" stroke="#555" stroke-width="0.9"/>
<text x="370.6" y="175.17" font-size="9" fill="#222" text-anchor="end">100</text>
<line x1="370.7" y1="148.44" x2="374.2" y2="148.44" stroke="#555" stroke-width="0.9"/>
<text x="370.6" y="151.64" font-size="9" fill="#222" text-anchor="end">200</text>
<line x1="370.7" y1="124.91" x2="374.2" y2="124.91" stroke="#555" stroke-width="0.9"/>
<text x="370.6" y="128.11" font-size="9" fill="#222" text-anchor="end">300</text>
<line x1="370.7" y1="101.38" x2="374.2" y2="101.38" stroke="#555" stroke-width="0.9"/>
<text x="370.6" y="104.58" font-size="9" fill="#222" text-anchor="end">400</text>
<line x1="370.7" y1="77.85" x2="374.2" y2="77.85" stroke="#555" stroke-width="0.9"/>
<text x="370.6" y="81.05" font-size="9" fill="#222" text-anchor="end">500</text>
<text x="351.3" y="135.5" font-size="9.3" fill="#222" text-anchor="middle" transform="rotate(-90 351.3 135.5)">OCR (pmol/min)</text>
<rect x="379.8" y="177.62" width="8.2" height="17.88" fill="none" stroke="#6a6aff" stroke-width="1"/>
<rect x="390.05" y="164.44" width="8.2" height="31.06" fill="none" stroke="#ff7a7a" stroke-width="1"/>
<rect x="400.3" y="190.56" width="8.2" height="4.94" fill="none" stroke="#8ee68e" stroke-width="1"/>
<rect x="410.55" y="170.09" width="8.2" height="25.41" fill="none" stroke="#dc8cfc" stroke-width="1"/>
<rect x="420.8" y="184.68" width="8.2" height="10.82" fill="none" stroke="#f6b27a" stroke-width="1"/>
<rect x="431.05" y="181.15" width="8.2" height="14.35" fill="none" stroke="#3a3a3a" stroke-width="1"/>
<rect x="451" y="182.32" width="8.2" height="13.18" fill="none" stroke="#6a6aff" stroke-width="1"/>
<rect x="461.25" y="172.68" width="8.2" height="22.82" fill="none" stroke="#ff7a7a" stroke-width="1"/>
<rect x="471.5" y="194.32" width="8.2" height="1.18" fill="none" stroke="#8ee68e" stroke-width="1"/>
<rect x="481.75" y="176.44" width="8.2" height="19.06" fill="none" stroke="#dc8cfc" stroke-width="1"/>
<rect x="492" y="187.03" width="8.2" height="8.47" fill="none" stroke="#f6b27a" stroke-width="1"/>
<rect x="502.25" y="183.5" width="8.2" height="12" fill="none" stroke="#3a3a3a" stroke-width="1"/>
<rect x="521.6" y="142.56" width="8.2" height="52.94" fill="none" stroke="#6a6aff" stroke-width="1"/>
<rect x="531.85" y="119.26" width="8.2" height="76.24" fill="none" stroke="#ff7a7a" stroke-width="1"/>
<rect x="542.1" y="193.15" width="8.2" height="2.35" fill="none" stroke="#8ee68e" stroke-width="1"/>
<rect x="552.35" y="157.38" width="8.2" height="38.12" fill="none" stroke="#dc8cfc" stroke-width="1"/>
<rect x="562.6" y="172.21" width="8.2" height="23.29" fill="none" stroke="#f6b27a" stroke-width="1"/>
<rect x="572.85" y="138.32" width="8.2" height="57.18" fill="none" stroke="#3a3a3a" stroke-width="1"/>
<rect x="592.4" y="160.68" width="8.2" height="34.82" fill="none" stroke="#6a6aff" stroke-width="1"/>
<rect x="602.65" y="133.15" width="8.2" height="62.35" fill="none" stroke="#ff7a7a" stroke-width="1"/>
<rect x="623.15" y="182.79" width="8.2" height="12.71" fill="none" stroke="#dc8cfc" stroke-width="1"/>
<rect x="633.4" y="184.68" width="8.2" height="10.82" fill="none" stroke="#f6b27a" stroke-width="1"/>
<rect x="643.65" y="153.15" width="8.2" height="42.35" fill="none" stroke="#3a3a3a" stroke-width="1"/>
<line x1="374.2" y1="195.5" x2="657" y2="195.5" stroke="#444" stroke-width="1"/>
<line x1="376.2" y1="195.5" x2="376.2" y2="196.7" stroke="#666" stroke-width="0.6"/>
<line x1="379.2" y1="195.5" x2="379.2" y2="196.7" stroke="#666" stroke-width="0.6"/>
<line x1="382.2" y1="195.5" x2="382.2" y2="196.7" stroke="#666" stroke-width="0.6"/>
<line x1="385.2" y1="195.5" x2="385.2" y2="196.7" stroke="#666" stroke-width="0.6"/>
<line x1="388.2" y1="195.5" x2="388.2" y2="196.7" stroke="#666" stroke-width="0.6"/>
<line x1="391.2" y1="195.5" x2="391.2" y2="196.7" stroke="#666" stroke-width="0.6"/>
<line x1="394.2" y1="195.5" x2="394.2" y2="196.7" stroke="#666" stroke-width="0.6"/>
<line x1="397.2" y1="195.5" x2="397.2" y2="196.7" stroke="#666" stroke-width="0.6"/>
<line x1="400.2" y1="195.5" x2="400.2" y2="196.7" stroke="#666" stroke-width="0.6"/>
<line x1="403.2" y1="195.5" x2="403.2" y2="196.7" stroke="#666" stroke-width="0.6"/>
<line x1="406.2" y1="195.5" x2="406.2" y2="196.7" stroke="#666" stroke-width="0.6"/>
<line x1="409.2" y1="195.5" x2="409.2" y2="196.7" stroke="#666" stroke-width="0.6"/>
<line x1="412.2" y1="195.5" x2="412.2" y2="196.7" stroke="#666" stroke-width="0.6"/>
<line x1="415.2" y1="195.5" x2="415.2" y2="196.7" stroke="#666" stroke-width="0.6"/>
<line x1="418.2" y1="195.5" x2="418.2" y2="196.7" stroke="#666" stroke-width="0.6"/>
<line x1="421.2" y1="195.5" x2="421.2" y2="196.7" stroke="#666" stroke-width="0.6"/>
<line x1="424.2" y1="195.5" x2="424.2" y2="196.7" stroke="#666" stroke-width="0.6"/>
<line x1="427.2" y1="195.5" x2="427.2" y2="196.7" stroke="#666" stroke-width="0.6"/>
<line x1="430.2" y1="195.5" x2="430.2" y2="196.7" stroke="#666" stroke-width="0.6"/>
<line x1="433.2" y1="195.5" x2="433.2" y2="196.7" stroke="#666" stroke-width="0.6"/>
<line x1="436.2" y1="195.5" x2="436.2" y2="196.7" stroke="#666" stroke-width="0.6"/>
<line x1="439.2" y1="195.5" x2="439.2" y2="196.7" stroke="#666" stroke-width="0.6"/>
<line x1="442.2" y1="195.5" x2="442.2" y2="196.7" stroke="#666" stroke-width="0.6"/>
<line x1="445.2" y1="195.5" x2="445.2" y2="196.7" stroke="#666" stroke-width="0.6"/>
<line x1="448.2" y1="195.5" x2="448.2" y2="196.7" stroke="#666" stroke-width="0.6"/>
<line x1="451.2" y1="195.5" x2="451.2" y2="196.7" stroke="#666" stroke-width="0.6"/>
<line x1="454.2" y1="195.5" x2="454.2" y2="196.7" stroke="#666" stroke-width="0.6"/>
<line x1="457.2" y1="195.5" x2="457.2" y2="196.7" stroke="#666" stroke-width="0.6"/>
<line x1="460.2" y1="195.5" x2="460.2" y2="196.7" stroke="#666" stroke-width="0.6"/>
<line x1="463.2" y1="195.5" x2="463.2" y2="196.7" stroke="#666" stroke-width="0.6"/>
<line x1="466.2" y1="195.5" x2="466.2" y2="196.7" stroke="#666" stroke-width="0.6"/>
<line x1="469.2" y1="195.5" x2="469.2" y2="196.7" stroke="#666" stroke-width="0.6"/>
<line x1="472.2" y1="195.5" x2="472.2" y2="196.7" stroke="#666" stroke-width="0.6"/>
<line x1="475.2" y1="195.5" x2="475.2" y2="196.7" stroke="#666" stroke-width="0.6"/>
<line x1="478.2" y1="195.5" x2="478.2" y2="196.7" stroke="#666" stroke-width="0.6"/>
<line x1="481.2" y1="195.5" x2="481.2" y2="196.7" stroke="#666" stroke-width="0.6"/>
<line x1="484.2" y1="195.5" x2="484.2" y2="196.7" stroke="#666" stroke-width="0.6"/>
<line x1="487.2" y1="195.5" x2="487.2" y2="196.7" stroke="#666" stroke-width="0.6"/>
<line x1="490.2" y1="195.5" x2="490.2" y2="196.7" stroke="#666" stroke-width="0.6"/>
<line x1="493.2" y1="195.5" x2="493.2" y2="196.7" stroke="#666" stroke-width="0.6"/>
<line x1="496.2" y1="195.5" x2="496.2" y2="196.7" stroke="#666" stroke-width="0.6"/>
<line x1="499.2" y1="195.5" x2="499.2" y2="196.7" stroke="#666" stroke-width="0.6"/>
<line x1="502.2" y1="195.5" x2="502.2" y2="196.7" stroke="#666" stroke-width="0.6"/>
<line x1="505.2" y1="195.5" x2="505.2" y2="196.7" stroke="#666" stroke-width="0.6"/>
<line x1="508.2" y1="195.5" x2="508.2" y2="196.7" stroke="#666" stroke-width="0.6"/>
<line x1="511.2" y1="195.5" x2="511.2" y2="196.7" stroke="#666" stroke-width="0.6"/>
<line x1="514.2" y1="195.5" x2="514.2" y2="196.7" stroke="#666" stroke-width="0.6"/>
<line x1="517.2" y1="195.5" x2="517.2" y2="196.7" stroke="#666" stroke-width="0.6"/>
<line x1="520.2" y1="195.5" x2="520.2" y2="196.7" stroke="#666" stroke-width="0.6"/>
<line x1="523.2" y1="195.5" x2="523.2" y2="196.7" stroke="#666" stroke-width="0.6"/>
<line x1="526.2" y1="195.5" x2="526.2" y2="196.7" stroke="#666" stroke-width="0.6"/>
<line x1="529.2" y1="195.5" x2="529.2" y2="196.7" stroke="#666" stroke-width="0.6"/>
<line x1="532.2" y1="195.5" x2="532.2" y2="196.7" stroke="#666" stroke-width="0.6"/>
<line x1="535.2" y1="195.5" x2="535.2" y2="196.7" stroke="#666" stroke-width="0.6"/>
<line x1="538.2" y1="195.5" x2="538.2" y2="196.7" stroke="#666" stroke-width="0.6"/>
<line x1="541.2" y1="195.5" x2="541.2" y2="196.7" stroke="#666" stroke-width="0.6"/>
<line x1="544.2" y1="195.5" x2="544.2" y2="196.7" stroke="#666" stroke-width="0.6"/>
<line x1="547.2" y1="195.5" x2="547.2" y2="196.7" stroke="#666" stroke-width="0.6"/>
<line x1="550.2" y1="195.5" x2="550.2" y2="196.7" stroke="#666" stroke-width="0.6"/>
<line x1="553.2" y1="195.5" x2="553.2" y2="196.7" stroke="#666" stroke-width="0.6"/>
<line x1="556.2" y1="195.5" x2="556.2" y2="196.7" stroke="#666" stroke-width="0.6"/>
<line x1="559.2" y1="195.5" x2="559.2" y2="196.7" stroke="#666" stroke-width="0.6"/>
<line x1="562.2" y1="195.5" x2="562.2" y2="196.7" stroke="#666" stroke-width="0.6"/>
<line x1="565.2" y1="195.5" x2="565.2" y2="196.7" stroke="#666" stroke-width="0.6"/>
<line x1="568.2" y1="195.5" x2="568.2" y2="196.7" stroke="#666" stroke-width="0.6"/>
<line x1="571.2" y1="195.5" x2="571.2" y2="196.7" stroke="#666" stroke-width="0.6"/>
<line x1="574.2" y1="195.5" x2="574.2" y2="196.7" stroke="#666" stroke-width="0.6"/>
<line x1="577.2" y1="195.5" x2="577.2" y2="196.7" stroke="#666" stroke-width="0.6"/>
<line x1="580.2" y1="195.5" x2="580.2" y2="196.7" stroke="#666" stroke-width="0.6"/>
<line x1="583.2" y1="195.5" x2="583.2" y2="196.7" stroke="#666" stroke-width="0.6"/>
<line x1="586.2" y1="195.5" x2="586.2" y2="196.7" stroke="#666" stroke-width="0.6"/>
<line x1="589.2" y1="195.5" x2="589.2" y2="196.7" stroke="#666" stroke-width="0.6"/>
<line x1="592.2" y1="195.5" x2="592.2" y2="196.7" stroke="#666" stroke-width="0.6"/>
<line x1="595.2" y1="195.5" x2="595.2" y2="196.7" stroke="#666" stroke-width="0.6"/>
<line x1="598.2" y1="195.5" x2="598.2" y2="196.7" stroke="#666" stroke-width="0.6"/>
<line x1="601.2" y1="195.5" x2="601.2" y2="196.7" stroke="#666" stroke-width="0.6"/>
<line x1="604.2" y1="195.5" x2="604.2" y2="196.7" stroke="#666" stroke-width="0.6"/>
<line x1="607.2" y1="195.5" x2="607.2" y2="196.7" stroke="#666" stroke-width="0.6"/>
<line x1="610.2" y1="195.5" x2="610.2" y2="196.7" stroke="#666" stroke-width="0.6"/>
<line x1="613.2" y1="195.5" x2="613.2" y2="196.7" stroke="#666" stroke-width="0.6"/>
<line x1="616.2" y1="195.5" x2="616.2" y2="196.7" stroke="#666" stroke-width="0.6"/>
<line x1="619.2" y1="195.5" x2="619.2" y2="196.7" stroke="#666" stroke-width="0.6"/>
<line x1="622.2" y1="195.5" x2="622.2" y2="196.7" stroke="#666" stroke-width="0.6"/>
<line x1="625.2" y1="195.5" x2="625.2" y2="196.7" stroke="#666" stroke-width="0.6"/>
<line x1="628.2" y1="195.5" x2="628.2" y2="196.7" stroke="#666" stroke-width="0.6"/>
<line x1="631.2" y1="195.5" x2="631.2" y2="196.7" stroke="#666" stroke-width="0.6"/>
<line x1="634.2" y1="195.5" x2="634.2" y2="196.7" stroke="#666" stroke-width="0.6"/>
<line x1="637.2" y1="195.5" x2="637.2" y2="196.7" stroke="#666" stroke-width="0.6"/>
<line x1="640.2" y1="195.5" x2="640.2" y2="196.7" stroke="#666" stroke-width="0.6"/>
<line x1="643.2" y1="195.5" x2="643.2" y2="196.7" stroke="#666" stroke-width="0.6"/>
<line x1="646.2" y1="195.5" x2="646.2" y2="196.7" stroke="#666" stroke-width="0.6"/>
<line x1="649.2" y1="195.5" x2="649.2" y2="196.7" stroke="#666" stroke-width="0.6"/>
<line x1="652.2" y1="195.5" x2="652.2" y2="196.7" stroke="#666" stroke-width="0.6"/>
<line x1="655.2" y1="195.5" x2="655.2" y2="196.7" stroke="#666" stroke-width="0.6"/>
<line x1="410.1" y1="195.5" x2="410.1" y2="199" stroke="#444" stroke-width="0.9"/>
<text x="410.1" y="207.2" font-size="9.2" fill="#222" text-anchor="middle">OCR-BASAL</text>
<line x1="481.3" y1="195.5" x2="481.3" y2="199" stroke="#444" stroke-width="0.9"/>
<text x="481.3" y="207.2" font-size="9.2" fill="#222" text-anchor="middle">OCR-ATP</text>
<line x1="551.9" y1="195.5" x2="551.9" y2="199" stroke="#444" stroke-width="0.9"/>
<text x="551.9" y="207.2" font-size="9.2" fill="#222" text-anchor="middle">OCR-MMR</text>
<line x1="622.7" y1="195.5" x2="622.7" y2="199" stroke="#444" stroke-width="0.9"/>
<text x="622.7" y="207.2" font-size="9.2" fill="#222" text-anchor="middle">OCR-SRC</text>
<circle cx="381.2" cy="177.6" r="2.05" fill="#0a0aff" stroke="none" stroke-width="0"/>
<circle cx="382.8" cy="175.3" r="2.05" fill="#0a0aff" stroke="none" stroke-width="0"/>
<circle cx="384.5" cy="173.4" r="2.05" fill="#0a0aff" stroke="none" stroke-width="0"/>
<circle cx="384" cy="178.3" r="2.05" fill="#0a0aff" stroke="none" stroke-width="0"/>
<circle cx="386.4" cy="183" r="2.05" fill="#0a0aff" stroke="none" stroke-width="0"/>
<circle cx="381.5" cy="176" r="2.05" fill="#0a0aff" stroke="none" stroke-width="0"/>
<circle cx="393.8" cy="145.6" r="2.05" fill="#f21616" stroke="none" stroke-width="0"/>
<circle cx="393.8" cy="165.9" r="2.05" fill="#f21616" stroke="none" stroke-width="0"/>
<circle cx="391.7" cy="171.3" r="2.05" fill="#f21616" stroke="none" stroke-width="0"/>
<circle cx="396.4" cy="175.3" r="2.05" fill="#f21616" stroke="none" stroke-width="0"/>
<circle cx="401.5" cy="189.7" r="2.05" fill="#3ad43a" stroke="none" stroke-width="0"/>
<circle cx="403.9" cy="190.4" r="2.05" fill="#3ad43a" stroke="none" stroke-width="0"/>
<circle cx="405.5" cy="191.1" r="2.05" fill="#3ad43a" stroke="none" stroke-width="0"/>
<circle cx="407.4" cy="192.1" r="2.05" fill="#3ad43a" stroke="none" stroke-width="0"/>
<circle cx="412.7" cy="168.3" r="2.05" fill="#c02cf6" stroke="none" stroke-width="0"/>
<circle cx="414.8" cy="166.4" r="2.05" fill="#c02cf6" stroke="none" stroke-width="0"/>
<circle cx="414.4" cy="169.4" r="2.05" fill="#c02cf6" stroke="none" stroke-width="0"/>
<circle cx="417.2" cy="173.4" r="2.05" fill="#c02cf6" stroke="none" stroke-width="0"/>
<circle cx="424.9" cy="165.2" r="2.05" fill="#f0862a" stroke="none" stroke-width="0"/>
<circle cx="422.6" cy="184.6" r="2.05" fill="#f0862a" stroke="none" stroke-width="0"/>
<circle cx="424.2" cy="185.8" r="2.05" fill="#f0862a" stroke="none" stroke-width="0"/>
<circle cx="425.6" cy="188.1" r="2.05" fill="#f0862a" stroke="none" stroke-width="0"/>
<circle cx="427.2" cy="190.9" r="2.05" fill="#f0862a" stroke="none" stroke-width="0"/>
<circle cx="423.2" cy="186.5" r="2.05" fill="#f0862a" stroke="none" stroke-width="0"/>
<circle cx="432.6" cy="172.9" r="2.05" fill="#000000" stroke="none" stroke-width="0"/>
<circle cx="437.7" cy="174.6" r="2.05" fill="#000000" stroke="none" stroke-width="0"/>
<circle cx="432.6" cy="185.8" r="2.05" fill="#000000" stroke="none" stroke-width="0"/>
<circle cx="437.7" cy="189.7" r="2.05" fill="#000000" stroke="none" stroke-width="0"/>
<circle cx="452.2" cy="178.3" r="2.05" fill="#0a0aff" stroke="none" stroke-width="0"/>
<circle cx="454.6" cy="180.6" r="2.05" fill="#0a0aff" stroke="none" stroke-width="0"/>
<circle cx="456.9" cy="177.6" r="2.05" fill="#0a0aff" stroke="none" stroke-width="0"/>
<circle cx="453.4" cy="183" r="2.05" fill="#0a0aff" stroke="none" stroke-width="0"/>
<circle cx="455.3" cy="185.8" r="2.05" fill="#0a0aff" stroke="none" stroke-width="0"/>
<circle cx="457.6" cy="187.6" r="2.05" fill="#0a0aff" stroke="none" stroke-width="0"/>
<circle cx="464.6" cy="156.6" r="2.05" fill="#f21616" stroke="none" stroke-width="0"/>
<circle cx="462.3" cy="174.1" r="2.05" fill="#f21616" stroke="none" stroke-width="0"/>
<circle cx="467.4" cy="176" r="2.05" fill="#f21616" stroke="none" stroke-width="0"/>
<circle cx="464.6" cy="183.4" r="2.05" fill="#f21616" stroke="none" stroke-width="0"/>
<circle cx="472.8" cy="192.8" r="2.05" fill="#3ad43a" stroke="none" stroke-width="0"/>
<circle cx="474.8" cy="193" r="2.05" fill="#3ad43a" stroke="none" stroke-width="0"/>
<circle cx="476.8" cy="193.2" r="2.05" fill="#3ad43a" stroke="none" stroke-width="0"/>
<circle cx="478.2" cy="193.3" r="2.05" fill="#3ad43a" stroke="none" stroke-width="0"/>
<circle cx="483.3" cy="173.4" r="2.05" fill="#c02cf6" stroke="none" stroke-width="0"/>
<circle cx="488" cy="173.4" r="2.05" fill="#c02cf6" stroke="none" stroke-width="0"/>
<circle cx="483.3" cy="176" r="2.05" fill="#c02cf6" stroke="none" stroke-width="0"/>
<circle cx="488" cy="179.9" r="2.05" fill="#c02cf6" stroke="none" stroke-width="0"/>
<circle cx="495.4" cy="171.8" r="2.05" fill="#f0862a" stroke="none" stroke-width="0"/>
<circle cx="493.3" cy="187.6" r="2.05" fill="#f0862a" stroke="none" stroke-width="0"/>
<circle cx="495.7" cy="189.3" r="2.05" fill="#f0862a" stroke="none" stroke-width="0"/>
<circle cx="497.3" cy="191.6" r="2.05" fill="#f0862a" stroke="none" stroke-width="0"/>
<circle cx="494.5" cy="188.5" r="2.05" fill="#f0862a" stroke="none" stroke-width="0"/>
<circle cx="503.6" cy="176.9" r="2.05" fill="#000000" stroke="none" stroke-width="0"/>
<circle cx="508.3" cy="177.6" r="2.05" fill="#000000" stroke="none" stroke-width="0"/>
<circle cx="506" cy="186.2" r="2.05" fill="#000000" stroke="none" stroke-width="0"/>
<circle cx="506" cy="192.8" r="2.05" fill="#000000" stroke="none" stroke-width="0"/>
<circle cx="522.8" cy="133.9" r="2.05" fill="#0a0aff" stroke="none" stroke-width="0"/>
<circle cx="525.2" cy="135.5" r="2.05" fill="#0a0aff" stroke="none" stroke-width="0"/>
<circle cx="527.5" cy="133.2" r="2.05" fill="#0a0aff" stroke="none" stroke-width="0"/>
<circle cx="524" cy="141.4" r="2.05" fill="#0a0aff" stroke="none" stroke-width="0"/>
<circle cx="526.4" cy="145.6" r="2.05" fill="#0a0aff" stroke="none" stroke-width="0"/>
<circle cx="525.2" cy="161.2" r="2.05" fill="#0a0aff" stroke="none" stroke-width="0"/>
<circle cx="535.7" cy="106.4" r="2.05" fill="#f21616" stroke="none" stroke-width="0"/>
<circle cx="535.7" cy="117.6" r="2.05" fill="#f21616" stroke="none" stroke-width="0"/>
<circle cx="533.4" cy="123.9" r="2.05" fill="#f21616" stroke="none" stroke-width="0"/>
<circle cx="538" cy="129.7" r="2.05" fill="#f21616" stroke="none" stroke-width="0"/>
<circle cx="543.2" cy="192.3" r="2.05" fill="#3ad43a" stroke="none" stroke-width="0"/>
<circle cx="545.2" cy="192.6" r="2.05" fill="#3ad43a" stroke="none" stroke-width="0"/>
<circle cx="547.2" cy="192.8" r="2.05" fill="#3ad43a" stroke="none" stroke-width="0"/>
<circle cx="549.2" cy="193" r="2.05" fill="#3ad43a" stroke="none" stroke-width="0"/>
<circle cx="556" cy="143.7" r="2.05" fill="#c02cf6" stroke="none" stroke-width="0"/>
<circle cx="556" cy="150.3" r="2.05" fill="#c02cf6" stroke="none" stroke-width="0"/>
<circle cx="556" cy="157" r="2.05" fill="#c02cf6" stroke="none" stroke-width="0"/>
<circle cx="556" cy="176" r="2.05" fill="#c02cf6" stroke="none" stroke-width="0"/>
<circle cx="566.5" cy="139.8" r="2.05" fill="#f0862a" stroke="none" stroke-width="0"/>
<circle cx="566.5" cy="170.1" r="2.05" fill="#f0862a" stroke="none" stroke-width="0"/>
<circle cx="564.2" cy="177.6" r="2.05" fill="#f0862a" stroke="none" stroke-width="0"/>
<circle cx="568.9" cy="179.2" r="2.05" fill="#f0862a" stroke="none" stroke-width="0"/>
<circle cx="564.2" cy="182.3" r="2.05" fill="#f0862a" stroke="none" stroke-width="0"/>
<circle cx="568.9" cy="186.9" r="2.05" fill="#f0862a" stroke="none" stroke-width="0"/>
<circle cx="574.2" cy="120.4" r="2.05" fill="#000000" stroke="none" stroke-width="0"/>
<circle cx="578.9" cy="122.2" r="2.05" fill="#000000" stroke="none" stroke-width="0"/>
<circle cx="577" cy="151.9" r="2.05" fill="#000000" stroke="none" stroke-width="0"/>
<circle cx="577" cy="159.4" r="2.05" fill="#000000" stroke="none" stroke-width="0"/>
<circle cx="597.1" cy="151.9" r="2.05" fill="#0a0aff" stroke="none" stroke-width="0"/>
<circle cx="594.1" cy="156.6" r="2.05" fill="#0a0aff" stroke="none" stroke-width="0"/>
<circle cx="596.4" cy="158.9" r="2.05" fill="#0a0aff" stroke="none" stroke-width="0"/>
<circle cx="598.8" cy="162.4" r="2.05" fill="#0a0aff" stroke="none" stroke-width="0"/>
<circle cx="595.5" cy="155" r="2.05" fill="#0a0aff" stroke="none" stroke-width="0"/>
<circle cx="596.4" cy="173.6" r="2.05" fill="#0a0aff" stroke="none" stroke-width="0"/>
<circle cx="606.2" cy="103.5" r="2.05" fill="#f21616" stroke="none" stroke-width="0"/>
<circle cx="606.2" cy="126.2" r="2.05" fill="#f21616" stroke="none" stroke-width="0"/>
<circle cx="606.2" cy="147.2" r="2.05" fill="#f21616" stroke="none" stroke-width="0"/>
<circle cx="606.2" cy="153.8" r="2.05" fill="#f21616" stroke="none" stroke-width="0"/>
<circle cx="626.8" cy="169" r="2.05" fill="#c02cf6" stroke="none" stroke-width="0"/>
<circle cx="626.8" cy="176.9" r="2.05" fill="#c02cf6" stroke="none" stroke-width="0"/>
<circle cx="626.8" cy="185.8" r="2.05" fill="#c02cf6" stroke="none" stroke-width="0"/>
<circle cx="637.3" cy="169.9" r="2.05" fill="#f0862a" stroke="none" stroke-width="0"/>
<circle cx="637.3" cy="180.6" r="2.05" fill="#f0862a" stroke="none" stroke-width="0"/>
<circle cx="635" cy="185.8" r="2.05" fill="#f0862a" stroke="none" stroke-width="0"/>
<circle cx="638" cy="188.6" r="2.05" fill="#f0862a" stroke="none" stroke-width="0"/>
<circle cx="639.6" cy="191.6" r="2.05" fill="#f0862a" stroke="none" stroke-width="0"/>
<circle cx="645" cy="140.7" r="2.05" fill="#000000" stroke="none" stroke-width="0"/>
<circle cx="649.7" cy="144.4" r="2.05" fill="#000000" stroke="none" stroke-width="0"/>
<circle cx="645" cy="161.2" r="2.05" fill="#000000" stroke="none" stroke-width="0"/>
<circle cx="649.7" cy="165.2" r="2.05" fill="#000000" stroke="none" stroke-width="0"/>
<line x1="78.5" y1="283.3" x2="78.5" y2="391.7" stroke="#555" stroke-width="1"/>
<line x1="78.5" y1="391.7" x2="261" y2="391.7" stroke="#777" stroke-width="1.1"/>
<line x1="74.5" y1="391.7" x2="78.5" y2="391.7" stroke="#555" stroke-width="1"/>
<text x="73.5" y="394.7" font-size="8.4" fill="#222" text-anchor="end">0</text>
<line x1="74.5" y1="364.62" x2="78.5" y2="364.62" stroke="#555" stroke-width="1"/>
<text x="73.5" y="367.62" font-size="8.4" fill="#222" text-anchor="end">50</text>
<line x1="74.5" y1="337.55" x2="78.5" y2="337.55" stroke="#555" stroke-width="1"/>
<text x="73.5" y="340.55" font-size="8.4" fill="#222" text-anchor="end">100</text>
<line x1="74.5" y1="310.48" x2="78.5" y2="310.48" stroke="#555" stroke-width="1"/>
<text x="73.5" y="313.48" font-size="8.4" fill="#222" text-anchor="end">150</text>
<line x1="74.5" y1="283.4" x2="78.5" y2="283.4" stroke="#555" stroke-width="1"/>
<text x="73.5" y="286.4" font-size="8.4" fill="#222" text-anchor="end">200</text>
<line x1="78.5" y1="391.7" x2="78.5" y2="395.7" stroke="#777" stroke-width="1"/>
<text x="78.5" y="404.7" font-size="8.9" fill="#222" text-anchor="middle">0</text>
<line x1="124.3" y1="391.7" x2="124.3" y2="395.7" stroke="#777" stroke-width="1"/>
<text x="124.3" y="404.7" font-size="8.9" fill="#222" text-anchor="middle">20</text>
<line x1="170.1" y1="391.7" x2="170.1" y2="395.7" stroke="#777" stroke-width="1"/>
<text x="170.1" y="404.7" font-size="8.9" fill="#222" text-anchor="middle">40</text>
<line x1="215.9" y1="391.7" x2="215.9" y2="395.7" stroke="#777" stroke-width="1"/>
<text x="215.9" y="404.7" font-size="8.9" fill="#222" text-anchor="middle">60</text>
<line x1="261.7" y1="391.7" x2="261.7" y2="395.7" stroke="#777" stroke-width="1"/>
<text x="261.7" y="404.7" font-size="8.9" fill="#222" text-anchor="middle">80</text>
<text x="168" y="416" font-size="8.6" fill="#222" text-anchor="middle">Time (minutes)</text>
<text x="54" y="336.7" font-size="8.8" fill="#222" text-anchor="middle" transform="rotate(-90 54 336.7)">ECAR (mpH/min)</text>
<line x1="117.6" y1="296.5" x2="117.6" y2="391.7" stroke="#555" stroke-width="0.8" stroke-dasharray="1.2,1.2"/>
<line x1="162" y1="296.5" x2="162" y2="391.7" stroke="#555" stroke-width="0.8" stroke-dasharray="1.2,1.2"/>
<line x1="205.8" y1="296.5" x2="205.8" y2="391.7" stroke="#555" stroke-width="0.8" stroke-dasharray="1.2,1.2"/>
<text x="120.6" y="288.6" font-size="8.6" fill="#222" text-anchor="middle">Glucose</text>
<text x="166" y="288.6" font-size="8.6" fill="#222" text-anchor="middle">Oligomycin</text>
<text x="207.2" y="288.6" font-size="8.6" fill="#222" text-anchor="middle">2-DG</text>
<line x1="81.3" y1="379.79" x2="81.3" y2="373.29" stroke="#f0862a" stroke-width="0.7" opacity="0.7"/>
<line x1="79.7" y1="373.29" x2="82.9" y2="373.29" stroke="#f0862a" stroke-width="0.7" opacity="0.7"/>
<line x1="79.7" y1="379.79" x2="82.9" y2="379.79" stroke="#f0862a" stroke-width="0.7" opacity="0.7"/>
<line x1="96.3" y1="385.2" x2="96.3" y2="380.87" stroke="#f0862a" stroke-width="0.7" opacity="0.7"/>
<line x1="94.7" y1="380.87" x2="97.9" y2="380.87" stroke="#f0862a" stroke-width="0.7" opacity="0.7"/>
<line x1="94.7" y1="385.2" x2="97.9" y2="385.2" stroke="#f0862a" stroke-width="0.7" opacity="0.7"/>
<line x1="110.8" y1="385.2" x2="110.8" y2="380.87" stroke="#f0862a" stroke-width="0.7" opacity="0.7"/>
<line x1="109.2" y1="380.87" x2="112.4" y2="380.87" stroke="#f0862a" stroke-width="0.7" opacity="0.7"/>
<line x1="109.2" y1="385.2" x2="112.4" y2="385.2" stroke="#f0862a" stroke-width="0.7" opacity="0.7"/>
<line x1="125.8" y1="362.46" x2="125.8" y2="327.8" stroke="#f0862a" stroke-width="0.7" opacity="0.7"/>
<line x1="124.2" y1="327.8" x2="127.4" y2="327.8" stroke="#f0862a" stroke-width="0.7" opacity="0.7"/>
<line x1="124.2" y1="362.46" x2="127.4" y2="362.46" stroke="#f0862a" stroke-width="0.7" opacity="0.7"/>
<line x1="140.8" y1="357.04" x2="140.8" y2="322.39" stroke="#f0862a" stroke-width="0.7" opacity="0.7"/>
<line x1="139.2" y1="322.39" x2="142.4" y2="322.39" stroke="#f0862a" stroke-width="0.7" opacity="0.7"/>
<line x1="139.2" y1="357.04" x2="142.4" y2="357.04" stroke="#f0862a" stroke-width="0.7" opacity="0.7"/>
<line x1="155.3" y1="352.17" x2="155.3" y2="315.35" stroke="#f0862a" stroke-width="0.7" opacity="0.7"/>
<line x1="153.7" y1="315.35" x2="156.9" y2="315.35" stroke="#f0862a" stroke-width="0.7" opacity="0.7"/>
<line x1="153.7" y1="352.17" x2="156.9" y2="352.17" stroke="#f0862a" stroke-width="0.7" opacity="0.7"/>
<line x1="169.7" y1="360.02" x2="169.7" y2="295.04" stroke="#f0862a" stroke-width="0.7" opacity="0.7"/>
<line x1="168.1" y1="295.04" x2="171.3" y2="295.04" stroke="#f0862a" stroke-width="0.7" opacity="0.7"/>
<line x1="168.1" y1="360.02" x2="171.3" y2="360.02" stroke="#f0862a" stroke-width="0.7" opacity="0.7"/>
<line x1="184.5" y1="356.77" x2="184.5" y2="297.21" stroke="#f0862a" stroke-width="0.7" opacity="0.7"/>
<line x1="182.9" y1="297.21" x2="186.1" y2="297.21" stroke="#f0862a" stroke-width="0.7" opacity="0.7"/>
<line x1="182.9" y1="356.77" x2="186.1" y2="356.77" stroke="#f0862a" stroke-width="0.7" opacity="0.7"/>
<line x1="199.5" y1="352.71" x2="199.5" y2="313.72" stroke="#f0862a" stroke-width="0.7" opacity="0.7"/>
<line x1="197.9" y1="313.72" x2="201.1" y2="313.72" stroke="#f0862a" stroke-width="0.7" opacity="0.7"/>
<line x1="197.9" y1="352.71" x2="201.1" y2="352.71" stroke="#f0862a" stroke-width="0.7" opacity="0.7"/>
<line x1="214.3" y1="382.49" x2="214.3" y2="378.16" stroke="#f0862a" stroke-width="0.7" opacity="0.7"/>
<line x1="212.7" y1="378.16" x2="215.9" y2="378.16" stroke="#f0862a" stroke-width="0.7" opacity="0.7"/>
<line x1="212.7" y1="382.49" x2="215.9" y2="382.49" stroke="#f0862a" stroke-width="0.7" opacity="0.7"/>
<line x1="228.9" y1="383.58" x2="228.9" y2="380.33" stroke="#f0862a" stroke-width="0.7" opacity="0.7"/>
<line x1="227.3" y1="380.33" x2="230.5" y2="380.33" stroke="#f0862a" stroke-width="0.7" opacity="0.7"/>
<line x1="227.3" y1="383.58" x2="230.5" y2="383.58" stroke="#f0862a" stroke-width="0.7" opacity="0.7"/>
<line x1="243.7" y1="384.66" x2="243.7" y2="381.41" stroke="#f0862a" stroke-width="0.7" opacity="0.7"/>
<line x1="242.1" y1="381.41" x2="245.3" y2="381.41" stroke="#f0862a" stroke-width="0.7" opacity="0.7"/>
<line x1="242.1" y1="384.66" x2="245.3" y2="384.66" stroke="#f0862a" stroke-width="0.7" opacity="0.7"/>
<line x1="81.3" y1="355.96" x2="81.3" y2="349.46" stroke="#3ad43a" stroke-width="0.7" opacity="0.7"/>
<line x1="79.7" y1="349.46" x2="82.9" y2="349.46" stroke="#3ad43a" stroke-width="0.7" opacity="0.7"/>
<line x1="79.7" y1="355.96" x2="82.9" y2="355.96" stroke="#3ad43a" stroke-width="0.7" opacity="0.7"/>
<line x1="96.3" y1="368.96" x2="96.3" y2="363.54" stroke="#3ad43a" stroke-width="0.7" opacity="0.7"/>
<line x1="94.7" y1="363.54" x2="97.9" y2="363.54" stroke="#3ad43a" stroke-width="0.7" opacity="0.7"/>
<line x1="94.7" y1="368.96" x2="97.9" y2="368.96" stroke="#3ad43a" stroke-width="0.7" opacity="0.7"/>
<line x1="110.8" y1="369.5" x2="110.8" y2="364.08" stroke="#3ad43a" stroke-width="0.7" opacity="0.7"/>
<line x1="109.2" y1="364.08" x2="112.4" y2="364.08" stroke="#3ad43a" stroke-width="0.7" opacity="0.7"/>
<line x1="109.2" y1="369.5" x2="112.4" y2="369.5" stroke="#3ad43a" stroke-width="0.7" opacity="0.7"/>
<line x1="125.8" y1="304.52" x2="125.8" y2="289.36" stroke="#3ad43a" stroke-width="0.7" opacity="0.7"/>
<line x1="124.2" y1="289.36" x2="127.4" y2="289.36" stroke="#3ad43a" stroke-width="0.7" opacity="0.7"/>
<line x1="124.2" y1="304.52" x2="127.4" y2="304.52" stroke="#3ad43a" stroke-width="0.7" opacity="0.7"/>
<line x1="140.8" y1="312.64" x2="140.8" y2="301.81" stroke="#3ad43a" stroke-width="0.7" opacity="0.7"/>
<line x1="139.2" y1="301.81" x2="142.4" y2="301.81" stroke="#3ad43a" stroke-width="0.7" opacity="0.7"/>
<line x1="139.2" y1="312.64" x2="142.4" y2="312.64" stroke="#3ad43a" stroke-width="0.7" opacity="0.7"/>
<line x1="155.3" y1="315.62" x2="155.3" y2="305.87" stroke="#3ad43a" stroke-width="0.7" opacity="0.7"/>
<line x1="153.7" y1="305.87" x2="156.9" y2="305.87" stroke="#3ad43a" stroke-width="0.7" opacity="0.7"/>
<line x1="153.7" y1="315.62" x2="156.9" y2="315.62" stroke="#3ad43a" stroke-width="0.7" opacity="0.7"/>
<line x1="169.7" y1="307.39" x2="169.7" y2="291.14" stroke="#3ad43a" stroke-width="0.7" opacity="0.7"/>
<line x1="168.1" y1="291.14" x2="171.3" y2="291.14" stroke="#3ad43a" stroke-width="0.7" opacity="0.7"/>
<line x1="168.1" y1="307.39" x2="171.3" y2="307.39" stroke="#3ad43a" stroke-width="0.7" opacity="0.7"/>
<line x1="184.5" y1="311.02" x2="184.5" y2="296.94" stroke="#3ad43a" stroke-width="0.7" opacity="0.7"/>
<line x1="182.9" y1="296.94" x2="186.1" y2="296.94" stroke="#3ad43a" stroke-width="0.7" opacity="0.7"/>
<line x1="182.9" y1="311.02" x2="186.1" y2="311.02" stroke="#3ad43a" stroke-width="0.7" opacity="0.7"/>
<line x1="199.5" y1="311.29" x2="199.5" y2="297.21" stroke="#3ad43a" stroke-width="0.7" opacity="0.7"/>
<line x1="197.9" y1="297.21" x2="201.1" y2="297.21" stroke="#3ad43a" stroke-width="0.7" opacity="0.7"/>
<line x1="197.9" y1="311.29" x2="201.1" y2="311.29" stroke="#3ad43a" stroke-width="0.7" opacity="0.7"/>
<line x1="214.3" y1="368.25" x2="214.3" y2="361.76" stroke="#3ad43a" stroke-width="0.7" opacity="0.7"/>
<line x1="212.7" y1="361.76" x2="215.9" y2="361.76" stroke="#3ad43a" stroke-width="0.7" opacity="0.7"/>
<line x1="212.7" y1="368.25" x2="215.9" y2="368.25" stroke="#3ad43a" stroke-width="0.7" opacity="0.7"/>
<line x1="228.9" y1="375.45" x2="228.9" y2="371.12" stroke="#3ad43a" stroke-width="0.7" opacity="0.7"/>
<line x1="227.3" y1="371.12" x2="230.5" y2="371.12" stroke="#3ad43a" stroke-width="0.7" opacity="0.7"/>
<line x1="227.3" y1="375.45" x2="230.5" y2="375.45" stroke="#3ad43a" stroke-width="0.7" opacity="0.7"/>
<line x1="243.7" y1="379.79" x2="243.7" y2="376.54" stroke="#3ad43a" stroke-width="0.7" opacity="0.7"/>
<line x1="242.1" y1="376.54" x2="245.3" y2="376.54" stroke="#3ad43a" stroke-width="0.7" opacity="0.7"/>
<line x1="242.1" y1="379.79" x2="245.3" y2="379.79" stroke="#3ad43a" stroke-width="0.7" opacity="0.7"/>
<line x1="81.3" y1="379.79" x2="81.3" y2="375.45" stroke="#000000" stroke-width="0.7" opacity="0.7"/>
<line x1="79.7" y1="375.45" x2="82.9" y2="375.45" stroke="#000000" stroke-width="0.7" opacity="0.7"/>
<line x1="79.7" y1="379.79" x2="82.9" y2="379.79" stroke="#000000" stroke-width="0.7" opacity="0.7"/>
<line x1="96.3" y1="385.74" x2="96.3" y2="382.49" stroke="#000000" stroke-width="0.7" opacity="0.7"/>
<line x1="94.7" y1="382.49" x2="97.9" y2="382.49" stroke="#000000" stroke-width="0.7" opacity="0.7"/>
<line x1="94.7" y1="385.74" x2="97.9" y2="385.74" stroke="#000000" stroke-width="0.7" opacity="0.7"/>
<line x1="110.8" y1="385.74" x2="110.8" y2="382.49" stroke="#000000" stroke-width="0.7" opacity="0.7"/>
<line x1="109.2" y1="382.49" x2="112.4" y2="382.49" stroke="#000000" stroke-width="0.7" opacity="0.7"/>
<line x1="109.2" y1="385.74" x2="112.4" y2="385.74" stroke="#000000" stroke-width="0.7" opacity="0.7"/>
<line x1="125.8" y1="356.23" x2="125.8" y2="349.73" stroke="#000000" stroke-width="0.7" opacity="0.7"/>
<line x1="124.2" y1="349.73" x2="127.4" y2="349.73" stroke="#000000" stroke-width="0.7" opacity="0.7"/>
<line x1="124.2" y1="356.23" x2="127.4" y2="356.23" stroke="#000000" stroke-width="0.7" opacity="0.7"/>
<line x1="140.8" y1="358.13" x2="140.8" y2="351.63" stroke="#000000" stroke-width="0.7" opacity="0.7"/>
<line x1="139.2" y1="351.63" x2="142.4" y2="351.63" stroke="#000000" stroke-width="0.7" opacity="0.7"/>
<line x1="139.2" y1="358.13" x2="142.4" y2="358.13" stroke="#000000" stroke-width="0.7" opacity="0.7"/>
<line x1="155.3" y1="358.13" x2="155.3" y2="351.63" stroke="#000000" stroke-width="0.7" opacity="0.7"/>
<line x1="153.7" y1="351.63" x2="156.9" y2="351.63" stroke="#000000" stroke-width="0.7" opacity="0.7"/>
<line x1="153.7" y1="358.13" x2="156.9" y2="358.13" stroke="#000000" stroke-width="0.7" opacity="0.7"/>
<line x1="169.7" y1="353.25" x2="169.7" y2="346.76" stroke="#000000" stroke-width="0.7" opacity="0.7"/>
<line x1="168.1" y1="346.76" x2="171.3" y2="346.76" stroke="#000000" stroke-width="0.7" opacity="0.7"/>
<line x1="168.1" y1="353.25" x2="171.3" y2="353.25" stroke="#000000" stroke-width="0.7" opacity="0.7"/>
<line x1="184.5" y1="354.88" x2="184.5" y2="348.38" stroke="#000000" stroke-width="0.7" opacity="0.7"/>
<line x1="182.9" y1="348.38" x2="186.1" y2="348.38" stroke="#000000" stroke-width="0.7" opacity="0.7"/>
<line x1="182.9" y1="354.88" x2="186.1" y2="354.88" stroke="#000000" stroke-width="0.7" opacity="0.7"/>
<line x1="199.5" y1="354.88" x2="199.5" y2="348.38" stroke="#000000" stroke-width="0.7" opacity="0.7"/>
<line x1="197.9" y1="348.38" x2="201.1" y2="348.38" stroke="#000000" stroke-width="0.7" opacity="0.7"/>
<line x1="197.9" y1="354.88" x2="201.1" y2="354.88" stroke="#000000" stroke-width="0.7" opacity="0.7"/>
<line x1="214.3" y1="386.72" x2="214.3" y2="383.47" stroke="#000000" stroke-width="0.7" opacity="0.7"/>
<line x1="212.7" y1="383.47" x2="215.9" y2="383.47" stroke="#000000" stroke-width="0.7" opacity="0.7"/>
<line x1="212.7" y1="386.72" x2="215.9" y2="386.72" stroke="#000000" stroke-width="0.7" opacity="0.7"/>
<line x1="228.9" y1="387.91" x2="228.9" y2="385.74" stroke="#000000" stroke-width="0.7" opacity="0.7"/>
<line x1="227.3" y1="385.74" x2="230.5" y2="385.74" stroke="#000000" stroke-width="0.7" opacity="0.7"/>
<line x1="227.3" y1="387.91" x2="230.5" y2="387.91" stroke="#000000" stroke-width="0.7" opacity="0.7"/>
<line x1="243.7" y1="388.99" x2="243.7" y2="386.83" stroke="#000000" stroke-width="0.7" opacity="0.7"/>
<line x1="242.1" y1="386.83" x2="245.3" y2="386.83" stroke="#000000" stroke-width="0.7" opacity="0.7"/>
<line x1="242.1" y1="388.99" x2="245.3" y2="388.99" stroke="#000000" stroke-width="0.7" opacity="0.7"/>
<line x1="81.3" y1="376.54" x2="81.3" y2="372.21" stroke="#c02cf6" stroke-width="0.7" opacity="0.7"/>
<line x1="79.7" y1="372.21" x2="82.9" y2="372.21" stroke="#c02cf6" stroke-width="0.7" opacity="0.7"/>
<line x1="79.7" y1="376.54" x2="82.9" y2="376.54" stroke="#c02cf6" stroke-width="0.7" opacity="0.7"/>
<line x1="96.3" y1="381.41" x2="96.3" y2="378.16" stroke="#c02cf6" stroke-width="0.7" opacity="0.7"/>
<line x1="94.7" y1="378.16" x2="97.9" y2="378.16" stroke="#c02cf6" stroke-width="0.7" opacity="0.7"/>
<line x1="94.7" y1="381.41" x2="97.9" y2="381.41" stroke="#c02cf6" stroke-width="0.7" opacity="0.7"/>
<line x1="110.8" y1="380.87" x2="110.8" y2="377.62" stroke="#c02cf6" stroke-width="0.7" opacity="0.7"/>
<line x1="109.2" y1="377.62" x2="112.4" y2="377.62" stroke="#c02cf6" stroke-width="0.7" opacity="0.7"/>
<line x1="109.2" y1="380.87" x2="112.4" y2="380.87" stroke="#c02cf6" stroke-width="0.7" opacity="0.7"/>
<line x1="125.8" y1="355.42" x2="125.8" y2="348.92" stroke="#c02cf6" stroke-width="0.7" opacity="0.7"/>
<line x1="124.2" y1="348.92" x2="127.4" y2="348.92" stroke="#c02cf6" stroke-width="0.7" opacity="0.7"/>
<line x1="124.2" y1="355.42" x2="127.4" y2="355.42" stroke="#c02cf6" stroke-width="0.7" opacity="0.7"/>
<line x1="140.8" y1="357.04" x2="140.8" y2="350.55" stroke="#c02cf6" stroke-width="0.7" opacity="0.7"/>
<line x1="139.2" y1="350.55" x2="142.4" y2="350.55" stroke="#c02cf6" stroke-width="0.7" opacity="0.7"/>
<line x1="139.2" y1="357.04" x2="142.4" y2="357.04" stroke="#c02cf6" stroke-width="0.7" opacity="0.7"/>
<line x1="155.3" y1="357.04" x2="155.3" y2="350.55" stroke="#c02cf6" stroke-width="0.7" opacity="0.7"/>
<line x1="153.7" y1="350.55" x2="156.9" y2="350.55" stroke="#c02cf6" stroke-width="0.7" opacity="0.7"/>
<line x1="153.7" y1="357.04" x2="156.9" y2="357.04" stroke="#c02cf6" stroke-width="0.7" opacity="0.7"/>
<line x1="169.7" y1="345.13" x2="169.7" y2="338.63" stroke="#c02cf6" stroke-width="0.7" opacity="0.7"/>
<line x1="168.1" y1="338.63" x2="171.3" y2="338.63" stroke="#c02cf6" stroke-width="0.7" opacity="0.7"/>
<line x1="168.1" y1="345.13" x2="171.3" y2="345.13" stroke="#c02cf6" stroke-width="0.7" opacity="0.7"/>
<line x1="184.5" y1="347.3" x2="184.5" y2="340.8" stroke="#c02cf6" stroke-width="0.7" opacity="0.7"/>
<line x1="182.9" y1="340.8" x2="186.1" y2="340.8" stroke="#c02cf6" stroke-width="0.7" opacity="0.7"/>
<line x1="182.9" y1="347.3" x2="186.1" y2="347.3" stroke="#c02cf6" stroke-width="0.7" opacity="0.7"/>
<line x1="199.5" y1="348.38" x2="199.5" y2="341.88" stroke="#c02cf6" stroke-width="0.7" opacity="0.7"/>
<line x1="197.9" y1="341.88" x2="201.1" y2="341.88" stroke="#c02cf6" stroke-width="0.7" opacity="0.7"/>
<line x1="197.9" y1="348.38" x2="201.1" y2="348.38" stroke="#c02cf6" stroke-width="0.7" opacity="0.7"/>
<line x1="214.3" y1="376" x2="214.3" y2="372.75" stroke="#c02cf6" stroke-width="0.7" opacity="0.7"/>
<line x1="212.7" y1="372.75" x2="215.9" y2="372.75" stroke="#c02cf6" stroke-width="0.7" opacity="0.7"/>
<line x1="212.7" y1="376" x2="215.9" y2="376" stroke="#c02cf6" stroke-width="0.7" opacity="0.7"/>
<line x1="228.9" y1="382.66" x2="228.9" y2="379.41" stroke="#c02cf6" stroke-width="0.7" opacity="0.7"/>
<line x1="227.3" y1="379.41" x2="230.5" y2="379.41" stroke="#c02cf6" stroke-width="0.7" opacity="0.7"/>
<line x1="227.3" y1="382.66" x2="230.5" y2="382.66" stroke="#c02cf6" stroke-width="0.7" opacity="0.7"/>
<line x1="243.7" y1="384.77" x2="243.7" y2="382.6" stroke="#c02cf6" stroke-width="0.7" opacity="0.7"/>
<line x1="242.1" y1="382.6" x2="245.3" y2="382.6" stroke="#c02cf6" stroke-width="0.7" opacity="0.7"/>
<line x1="242.1" y1="384.77" x2="245.3" y2="384.77" stroke="#c02cf6" stroke-width="0.7" opacity="0.7"/>
<line x1="81.3" y1="382.49" x2="81.3" y2="378.16" stroke="#0a0aff" stroke-width="0.7" opacity="0.7"/>
<line x1="79.7" y1="378.16" x2="82.9" y2="378.16" stroke="#0a0aff" stroke-width="0.7" opacity="0.7"/>
<line x1="79.7" y1="382.49" x2="82.9" y2="382.49" stroke="#0a0aff" stroke-width="0.7" opacity="0.7"/>
<line x1="96.3" y1="385.2" x2="96.3" y2="381.95" stroke="#0a0aff" stroke-width="0.7" opacity="0.7"/>
<line x1="94.7" y1="381.95" x2="97.9" y2="381.95" stroke="#0a0aff" stroke-width="0.7" opacity="0.7"/>
<line x1="94.7" y1="385.2" x2="97.9" y2="385.2" stroke="#0a0aff" stroke-width="0.7" opacity="0.7"/>
<line x1="110.8" y1="384.66" x2="110.8" y2="381.41" stroke="#0a0aff" stroke-width="0.7" opacity="0.7"/>
<line x1="109.2" y1="381.41" x2="112.4" y2="381.41" stroke="#0a0aff" stroke-width="0.7" opacity="0.7"/>
<line x1="109.2" y1="384.66" x2="112.4" y2="384.66" stroke="#0a0aff" stroke-width="0.7" opacity="0.7"/>
<line x1="125.8" y1="353.25" x2="125.8" y2="346.76" stroke="#0a0aff" stroke-width="0.7" opacity="0.7"/>
<line x1="124.2" y1="346.76" x2="127.4" y2="346.76" stroke="#0a0aff" stroke-width="0.7" opacity="0.7"/>
<line x1="124.2" y1="353.25" x2="127.4" y2="353.25" stroke="#0a0aff" stroke-width="0.7" opacity="0.7"/>
<line x1="140.8" y1="354.88" x2="140.8" y2="347.3" stroke="#0a0aff" stroke-width="0.7" opacity="0.7"/>
<line x1="139.2" y1="347.3" x2="142.4" y2="347.3" stroke="#0a0aff" stroke-width="0.7" opacity="0.7"/>
<line x1="139.2" y1="354.88" x2="142.4" y2="354.88" stroke="#0a0aff" stroke-width="0.7" opacity="0.7"/>
<line x1="155.3" y1="355.42" x2="155.3" y2="347.84" stroke="#0a0aff" stroke-width="0.7" opacity="0.7"/>
<line x1="153.7" y1="347.84" x2="156.9" y2="347.84" stroke="#0a0aff" stroke-width="0.7" opacity="0.7"/>
<line x1="153.7" y1="355.42" x2="156.9" y2="355.42" stroke="#0a0aff" stroke-width="0.7" opacity="0.7"/>
<line x1="169.7" y1="343.24" x2="169.7" y2="336.74" stroke="#0a0aff" stroke-width="0.7" opacity="0.7"/>
<line x1="168.1" y1="336.74" x2="171.3" y2="336.74" stroke="#0a0aff" stroke-width="0.7" opacity="0.7"/>
<line x1="168.1" y1="343.24" x2="171.3" y2="343.24" stroke="#0a0aff" stroke-width="0.7" opacity="0.7"/>
<line x1="184.5" y1="344.59" x2="184.5" y2="338.09" stroke="#0a0aff" stroke-width="0.7" opacity="0.7"/>
<line x1="182.9" y1="338.09" x2="186.1" y2="338.09" stroke="#0a0aff" stroke-width="0.7" opacity="0.7"/>
<line x1="182.9" y1="344.59" x2="186.1" y2="344.59" stroke="#0a0aff" stroke-width="0.7" opacity="0.7"/>
<line x1="199.5" y1="344.59" x2="199.5" y2="338.09" stroke="#0a0aff" stroke-width="0.7" opacity="0.7"/>
<line x1="197.9" y1="338.09" x2="201.1" y2="338.09" stroke="#0a0aff" stroke-width="0.7" opacity="0.7"/>
<line x1="197.9" y1="344.59" x2="201.1" y2="344.59" stroke="#0a0aff" stroke-width="0.7" opacity="0.7"/>
<line x1="214.3" y1="380.6" x2="214.3" y2="377.35" stroke="#0a0aff" stroke-width="0.7" opacity="0.7"/>
<line x1="212.7" y1="377.35" x2="215.9" y2="377.35" stroke="#0a0aff" stroke-width="0.7" opacity="0.7"/>
<line x1="212.7" y1="380.6" x2="215.9" y2="380.6" stroke="#0a0aff" stroke-width="0.7" opacity="0.7"/>
<line x1="228.9" y1="385.91" x2="228.9" y2="382.66" stroke="#0a0aff" stroke-width="0.7" opacity="0.7"/>
<line x1="227.3" y1="382.66" x2="230.5" y2="382.66" stroke="#0a0aff" stroke-width="0.7" opacity="0.7"/>
<line x1="227.3" y1="385.91" x2="230.5" y2="385.91" stroke="#0a0aff" stroke-width="0.7" opacity="0.7"/>
<line x1="243.7" y1="387.69" x2="243.7" y2="385.53" stroke="#0a0aff" stroke-width="0.7" opacity="0.7"/>
<line x1="242.1" y1="385.53" x2="245.3" y2="385.53" stroke="#0a0aff" stroke-width="0.7" opacity="0.7"/>
<line x1="242.1" y1="387.69" x2="245.3" y2="387.69" stroke="#0a0aff" stroke-width="0.7" opacity="0.7"/>
<line x1="81.3" y1="386.28" x2="81.3" y2="381.95" stroke="#f21616" stroke-width="0.7" opacity="0.7"/>
<line x1="79.7" y1="381.95" x2="82.9" y2="381.95" stroke="#f21616" stroke-width="0.7" opacity="0.7"/>
<line x1="79.7" y1="386.28" x2="82.9" y2="386.28" stroke="#f21616" stroke-width="0.7" opacity="0.7"/>
<line x1="96.3" y1="390.35" x2="96.3" y2="387.1" stroke="#f21616" stroke-width="0.7" opacity="0.7"/>
<line x1="94.7" y1="387.1" x2="97.9" y2="387.1" stroke="#f21616" stroke-width="0.7" opacity="0.7"/>
<line x1="94.7" y1="390.35" x2="97.9" y2="390.35" stroke="#f21616" stroke-width="0.7" opacity="0.7"/>
<line x1="110.8" y1="389.53" x2="110.8" y2="386.28" stroke="#f21616" stroke-width="0.7" opacity="0.7"/>
<line x1="109.2" y1="386.28" x2="112.4" y2="386.28" stroke="#f21616" stroke-width="0.7" opacity="0.7"/>
<line x1="109.2" y1="389.53" x2="112.4" y2="389.53" stroke="#f21616" stroke-width="0.7" opacity="0.7"/>
<line x1="125.8" y1="371.12" x2="125.8" y2="361.38" stroke="#f21616" stroke-width="0.7" opacity="0.7"/>
<line x1="124.2" y1="361.38" x2="127.4" y2="361.38" stroke="#f21616" stroke-width="0.7" opacity="0.7"/>
<line x1="124.2" y1="371.12" x2="127.4" y2="371.12" stroke="#f21616" stroke-width="0.7" opacity="0.7"/>
<line x1="140.8" y1="371.12" x2="140.8" y2="361.38" stroke="#f21616" stroke-width="0.7" opacity="0.7"/>
<line x1="139.2" y1="361.38" x2="142.4" y2="361.38" stroke="#f21616" stroke-width="0.7" opacity="0.7"/>
<line x1="139.2" y1="371.12" x2="142.4" y2="371.12" stroke="#f21616" stroke-width="0.7" opacity="0.7"/>
<line x1="155.3" y1="371.12" x2="155.3" y2="361.38" stroke="#f21616" stroke-width="0.7" opacity="0.7"/>
<line x1="153.7" y1="361.38" x2="156.9" y2="361.38" stroke="#f21616" stroke-width="0.7" opacity="0.7"/>
<line x1="153.7" y1="371.12" x2="156.9" y2="371.12" stroke="#f21616" stroke-width="0.7" opacity="0.7"/>
<line x1="169.7" y1="363.54" x2="169.7" y2="353.79" stroke="#f21616" stroke-width="0.7" opacity="0.7"/>
<line x1="168.1" y1="353.79" x2="171.3" y2="353.79" stroke="#f21616" stroke-width="0.7" opacity="0.7"/>
<line x1="168.1" y1="363.54" x2="171.3" y2="363.54" stroke="#f21616" stroke-width="0.7" opacity="0.7"/>
<line x1="184.5" y1="363" x2="184.5" y2="353.25" stroke="#f21616" stroke-width="0.7" opacity="0.7"/>
<line x1="182.9" y1="353.25" x2="186.1" y2="353.25" stroke="#f21616" stroke-width="0.7" opacity="0.7"/>
<line x1="182.9" y1="363" x2="186.1" y2="363" stroke="#f21616" stroke-width="0.7" opacity="0.7"/>
<line x1="199.5" y1="363" x2="199.5" y2="353.25" stroke="#f21616" stroke-width="0.7" opacity="0.7"/>
<line x1="197.9" y1="353.25" x2="201.1" y2="353.25" stroke="#f21616" stroke-width="0.7" opacity="0.7"/>
<line x1="197.9" y1="363" x2="201.1" y2="363" stroke="#f21616" stroke-width="0.7" opacity="0.7"/>
<line x1="214.3" y1="385.31" x2="214.3" y2="382.06" stroke="#f21616" stroke-width="0.7" opacity="0.7"/>
<line x1="212.7" y1="382.06" x2="215.9" y2="382.06" stroke="#f21616" stroke-width="0.7" opacity="0.7"/>
<line x1="212.7" y1="385.31" x2="215.9" y2="385.31" stroke="#f21616" stroke-width="0.7" opacity="0.7"/>
<line x1="228.9" y1="389.1" x2="228.9" y2="386.93" stroke="#f21616" stroke-width="0.7" opacity="0.7"/>
<line x1="227.3" y1="386.93" x2="230.5" y2="386.93" stroke="#f21616" stroke-width="0.7" opacity="0.7"/>
<line x1="227.3" y1="389.1" x2="230.5" y2="389.1" stroke="#f21616" stroke-width="0.7" opacity="0.7"/>
<line x1="243.7" y1="390.4" x2="243.7" y2="388.23" stroke="#f21616" stroke-width="0.7" opacity="0.7"/>
<line x1="242.1" y1="388.23" x2="245.3" y2="388.23" stroke="#f21616" stroke-width="0.7" opacity="0.7"/>
<line x1="242.1" y1="390.4" x2="245.3" y2="390.4" stroke="#f21616" stroke-width="0.7" opacity="0.7"/>
<polyline points="81.3,376.54 96.3,383.04 110.8,383.04 125.8,345.13 140.8,339.72 155.3,333.76 169.7,327.53 184.5,326.99 199.5,333.22 214.3,380.33 228.9,381.95 243.7,383.04" fill="none" stroke="#f0862a" stroke-width="0.8"/>
<polyline points="81.3,352.71 96.3,366.25 110.8,366.79 125.8,296.94 140.8,307.23 155.3,310.75 169.7,299.27 184.5,303.98 199.5,304.25 214.3,365 228.9,373.29 243.7,378.16" fill="none" stroke="#3ad43a" stroke-width="0.8"/>
<polyline points="81.3,377.62 96.3,384.12 110.8,384.12 125.8,352.98 140.8,354.88 155.3,354.88 169.7,350 184.5,351.63 199.5,351.63 214.3,385.09 228.9,386.83 243.7,387.91" fill="none" stroke="#000000" stroke-width="0.8"/>
<polyline points="81.3,374.37 96.3,379.79 110.8,379.25 125.8,352.17 140.8,353.79 155.3,353.79 169.7,341.88 184.5,344.05 199.5,345.13 214.3,374.37 228.9,381.03 243.7,383.69" fill="none" stroke="#c02cf6" stroke-width="0.8"/>
<polyline points="81.3,380.33 96.3,383.58 110.8,383.04 125.8,350 140.8,351.09 155.3,351.63 169.7,339.99 184.5,341.34 199.5,341.34 214.3,378.97 228.9,384.28 243.7,386.61" fill="none" stroke="#0a0aff" stroke-width="0.8"/>
<polyline points="81.3,384.12 96.3,388.72 110.8,387.91 125.8,366.25 140.8,366.25 155.3,366.25 169.7,358.67 184.5,358.13 199.5,358.13 214.3,383.69 228.9,388.02 243.7,389.32" fill="none" stroke="#f21616" stroke-width="0.8"/>
<circle cx="81.3" cy="376.54" r="2.4" fill="#f0862a" stroke="none" stroke-width="0"/>
<circle cx="96.3" cy="383.04" r="2.4" fill="#f0862a" stroke="none" stroke-width="0"/>
<circle cx="110.8" cy="383.04" r="2.4" fill="#f0862a" stroke="none" stroke-width="0"/>
<circle cx="125.8" cy="345.13" r="2.4" fill="#f0862a" stroke="none" stroke-width="0"/>
<circle cx="140.8" cy="339.72" r="2.4" fill="#f0862a" stroke="none" stroke-width="0"/>
<circle cx="155.3" cy="333.76" r="2.4" fill="#f0862a" stroke="none" stroke-width="0"/>
<circle cx="169.7" cy="327.53" r="2.4" fill="#f0862a" stroke="none" stroke-width="0"/>
<circle cx="184.5" cy="326.99" r="2.4" fill="#f0862a" stroke="none" stroke-width="0"/>
<circle cx="199.5" cy="333.22" r="2.4" fill="#f0862a" stroke="none" stroke-width="0"/>
<circle cx="214.3" cy="380.33" r="2.4" fill="#f0862a" stroke="none" stroke-width="0"/>
<circle cx="228.9" cy="381.95" r="2.4" fill="#f0862a" stroke="none" stroke-width="0"/>
<circle cx="243.7" cy="383.04" r="2.4" fill="#f0862a" stroke="none" stroke-width="0"/>
<circle cx="81.3" cy="352.71" r="2.4" fill="#3ad43a" stroke="none" stroke-width="0"/>
<circle cx="96.3" cy="366.25" r="2.4" fill="#3ad43a" stroke="none" stroke-width="0"/>
<circle cx="110.8" cy="366.79" r="2.4" fill="#3ad43a" stroke="none" stroke-width="0"/>
<circle cx="125.8" cy="296.94" r="2.4" fill="#3ad43a" stroke="none" stroke-width="0"/>
<circle cx="140.8" cy="307.23" r="2.4" fill="#3ad43a" stroke="none" stroke-width="0"/>
<circle cx="155.3" cy="310.75" r="2.4" fill="#3ad43a" stroke="none" stroke-width="0"/>
<circle cx="169.7" cy="299.27" r="2.4" fill="#3ad43a" stroke="none" stroke-width="0"/>
<circle cx="184.5" cy="303.98" r="2.4" fill="#3ad43a" stroke="none" stroke-width="0"/>
<circle cx="199.5" cy="304.25" r="2.4" fill="#3ad43a" stroke="none" stroke-width="0"/>
<circle cx="214.3" cy="365" r="2.4" fill="#3ad43a" stroke="none" stroke-width="0"/>
<circle cx="228.9" cy="373.29" r="2.4" fill="#3ad43a" stroke="none" stroke-width="0"/>
<circle cx="243.7" cy="378.16" r="2.4" fill="#3ad43a" stroke="none" stroke-width="0"/>
<circle cx="81.3" cy="377.62" r="2.4" fill="#000000" stroke="none" stroke-width="0"/>
<circle cx="96.3" cy="384.12" r="2.4" fill="#000000" stroke="none" stroke-width="0"/>
<circle cx="110.8" cy="384.12" r="2.4" fill="#000000" stroke="none" stroke-width="0"/>
<circle cx="125.8" cy="352.98" r="2.4" fill="#000000" stroke="none" stroke-width="0"/>
<circle cx="140.8" cy="354.88" r="2.4" fill="#000000" stroke="none" stroke-width="0"/>
<circle cx="155.3" cy="354.88" r="2.4" fill="#000000" stroke="none" stroke-width="0"/>
<circle cx="169.7" cy="350" r="2.4" fill="#000000" stroke="none" stroke-width="0"/>
<circle cx="184.5" cy="351.63" r="2.4" fill="#000000" stroke="none" stroke-width="0"/>
<circle cx="199.5" cy="351.63" r="2.4" fill="#000000" stroke="none" stroke-width="0"/>
<circle cx="214.3" cy="385.09" r="2.4" fill="#000000" stroke="none" stroke-width="0"/>
<circle cx="228.9" cy="386.83" r="2.4" fill="#000000" stroke="none" stroke-width="0"/>
<circle cx="243.7" cy="387.91" r="2.4" fill="#000000" stroke="none" stroke-width="0"/>
<circle cx="81.3" cy="374.37" r="2.4" fill="#c02cf6" stroke="none" stroke-width="0"/>
<circle cx="96.3" cy="379.79" r="2.4" fill="#c02cf6" stroke="none" stroke-width="0"/>
<circle cx="110.8" cy="379.25" r="2.4" fill="#c02cf6" stroke="none" stroke-width="0"/>
<circle cx="125.8" cy="352.17" r="2.4" fill="#c02cf6" stroke="none" stroke-width="0"/>
<circle cx="140.8" cy="353.79" r="2.4" fill="#c02cf6" stroke="none" stroke-width="0"/>
<circle cx="155.3" cy="353.79" r="2.4" fill="#c02cf6" stroke="none" stroke-width="0"/>
<circle cx="169.7" cy="341.88" r="2.4" fill="#c02cf6" stroke="none" stroke-width="0"/>
<circle cx="184.5" cy="344.05" r="2.4" fill="#c02cf6" stroke="none" stroke-width="0"/>
<circle cx="199.5" cy="345.13" r="2.4" fill="#c02cf6" stroke="none" stroke-width="0"/>
<circle cx="214.3" cy="374.37" r="2.4" fill="#c02cf6" stroke="none" stroke-width="0"/>
<circle cx="228.9" cy="381.03" r="2.4" fill="#c02cf6" stroke="none" stroke-width="0"/>
<circle cx="243.7" cy="383.69" r="2.4" fill="#c02cf6" stroke="none" stroke-width="0"/>
<circle cx="81.3" cy="380.33" r="2.4" fill="#0a0aff" stroke="none" stroke-width="0"/>
<circle cx="96.3" cy="383.58" r="2.4" fill="#0a0aff" stroke="none" stroke-width="0"/>
<circle cx="110.8" cy="383.04" r="2.4" fill="#0a0aff" stroke="none" stroke-width="0"/>
<circle cx="125.8" cy="350" r="2.4" fill="#0a0aff" stroke="none" stroke-width="0"/>
<circle cx="140.8" cy="351.09" r="2.4" fill="#0a0aff" stroke="none" stroke-width="0"/>
<circle cx="155.3" cy="351.63" r="2.4" fill="#0a0aff" stroke="none" stroke-width="0"/>
<circle cx="169.7" cy="339.99" r="2.4" fill="#0a0aff" stroke="none" stroke-width="0"/>
<circle cx="184.5" cy="341.34" r="2.4" fill="#0a0aff" stroke="none" stroke-width="0"/>
<circle cx="199.5" cy="341.34" r="2.4" fill="#0a0aff" stroke="none" stroke-width="0"/>
<circle cx="214.3" cy="378.97" r="2.4" fill="#0a0aff" stroke="none" stroke-width="0"/>
<circle cx="228.9" cy="384.28" r="2.4" fill="#0a0aff" stroke="none" stroke-width="0"/>
<circle cx="243.7" cy="386.61" r="2.4" fill="#0a0aff" stroke="none" stroke-width="0"/>
<circle cx="81.3" cy="384.12" r="2.4" fill="#f21616" stroke="none" stroke-width="0"/>
<circle cx="96.3" cy="388.72" r="2.4" fill="#f21616" stroke="none" stroke-width="0"/>
<circle cx="110.8" cy="387.91" r="2.4" fill="#f21616" stroke="none" stroke-width="0"/>
<circle cx="125.8" cy="366.25" r="2.4" fill="#f21616" stroke="none" stroke-width="0"/>
<circle cx="140.8" cy="366.25" r="2.4" fill="#f21616" stroke="none" stroke-width="0"/>
<circle cx="155.3" cy="366.25" r="2.4" fill="#f21616" stroke="none" stroke-width="0"/>
<circle cx="169.7" cy="358.67" r="2.4" fill="#f21616" stroke="none" stroke-width="0"/>
<circle cx="184.5" cy="358.13" r="2.4" fill="#f21616" stroke="none" stroke-width="0"/>
<circle cx="199.5" cy="358.13" r="2.4" fill="#f21616" stroke="none" stroke-width="0"/>
<circle cx="214.3" cy="383.69" r="2.4" fill="#f21616" stroke="none" stroke-width="0"/>
<circle cx="228.9" cy="388.02" r="2.4" fill="#f21616" stroke="none" stroke-width="0"/>
<circle cx="243.7" cy="389.32" r="2.4" fill="#f21616" stroke="none" stroke-width="0"/>
<line x1="260" y1="280.6" x2="270" y2="280.6" stroke="#0a0aff" stroke-width="1" opacity="0.45"/>
<circle cx="265" cy="280.6" r="2.3" fill="#0a0aff" stroke="none" stroke-width="0"/>
<text x="277.6" y="283.7" font-size="8.7"><tspan font-style="italic">Wt</tspan></text>
<line x1="260" y1="295.8" x2="270" y2="295.8" stroke="#f21616" stroke-width="1" opacity="0.45"/>
<circle cx="265" cy="295.8" r="2.3" fill="#f21616" stroke="none" stroke-width="0"/>
<text x="277.6" y="298.9" font-size="8.7"><tspan font-style="italic">Wt</tspan> + IsoalloLCA</text>
<line x1="260" y1="310.6" x2="270" y2="310.6" stroke="#3ad43a" stroke-width="1" opacity="0.45"/>
<circle cx="265" cy="310.6" r="2.3" fill="#3ad43a" stroke="none" stroke-width="0"/>
<text x="277.6" y="313.7" font-size="8.7"><tspan font-style="italic">Wt</tspan> + LPS</text>
<line x1="260" y1="325.6" x2="270" y2="325.6" stroke="#c02cf6" stroke-width="1" opacity="0.45"/>
<circle cx="265" cy="325.6" r="2.3" fill="#c02cf6" stroke="none" stroke-width="0"/>
<text x="277.6" y="328.7" font-size="8.7"><tspan font-style="italic">Wt</tspan> + IsoalloLCA + LPS</text>
<line x1="260" y1="340.3" x2="270" y2="340.3" stroke="#f0862a" stroke-width="1" opacity="0.45"/>
<circle cx="265" cy="340.3" r="2.3" fill="#f0862a" stroke="none" stroke-width="0"/>
<text x="277.6" y="344.7" font-size="8.7"><tspan font-style="italic">Il10</tspan><tspan dx="2.61" dy="-3.3" font-size="5.92">-/-</tspan><tspan dx="0.87" dy="3.3"></tspan></text>
<line x1="260" y1="355.8" x2="270" y2="355.8" stroke="#000000" stroke-width="1" opacity="0.45"/>
<circle cx="265" cy="355.8" r="2.3" fill="#000000" stroke="none" stroke-width="0"/>
<text x="277.6" y="360.2" font-size="8.7"><tspan font-style="italic">Il10</tspan><tspan dx="2.61" dy="-3.3" font-size="5.92">-/-</tspan><tspan dx="0.87" dy="3.3"> + IsoalloLCA</tspan></text>
<line x1="403.3" y1="290.4" x2="403.3" y2="406.1" stroke="#444" stroke-width="0.9"/>
<line x1="398.3" y1="406.1" x2="403.3" y2="406.1" stroke="#444" stroke-width="0.9"/>
<text x="398.3" y="408.9" font-size="7.8" fill="#222" text-anchor="end">0</text>
<line x1="398.3" y1="367.38" x2="403.3" y2="367.38" stroke="#444" stroke-width="0.9"/>
<text x="398.3" y="370.18" font-size="7.8" fill="#222" text-anchor="end">50</text>
<line x1="398.3" y1="328.65" x2="403.3" y2="328.65" stroke="#444" stroke-width="0.9"/>
<text x="398.3" y="331.45" font-size="7.8" fill="#222" text-anchor="end">100</text>
<line x1="398.3" y1="289.93" x2="403.3" y2="289.93" stroke="#444" stroke-width="0.9"/>
<text x="398.3" y="292.73" font-size="7.8" fill="#222" text-anchor="end">150</text>
<text x="381.4" y="347.6" font-size="8.6" fill="#222" text-anchor="middle" transform="rotate(-90 381.4 347.6)">ECAR (mpH/min)</text>
<rect x="409.8" y="359.4" width="9.8" height="46.7" fill="none" stroke="#6a6aff" stroke-width="1"/>
<rect x="423" y="374.89" width="9.8" height="31.21" fill="none" stroke="#ff7a7a" stroke-width="1"/>
<rect x="436.2" y="326.64" width="9.8" height="79.46" fill="none" stroke="#8ee68e" stroke-width="1"/>
<rect x="449.4" y="366.91" width="9.8" height="39.19" fill="none" stroke="#dc8cfc" stroke-width="1"/>
<rect x="462.6" y="347.39" width="9.8" height="58.71" fill="none" stroke="#f6b27a" stroke-width="1"/>
<rect x="475.8" y="360.64" width="9.8" height="45.46" fill="none" stroke="#3a3a3a" stroke-width="1"/>
<rect x="498.8" y="345.38" width="9.8" height="60.72" fill="none" stroke="#6a6aff" stroke-width="1"/>
<rect x="512" y="363.66" width="9.8" height="42.44" fill="none" stroke="#ff7a7a" stroke-width="1"/>
<rect x="525.2" y="330.66" width="9.8" height="75.44" fill="none" stroke="#8ee68e" stroke-width="1"/>
<rect x="538.4" y="351.11" width="9.8" height="54.99" fill="none" stroke="#dc8cfc" stroke-width="1"/>
<rect x="551.6" y="329.11" width="9.8" height="76.99" fill="none" stroke="#f6b27a" stroke-width="1"/>
<rect x="564.8" y="357.38" width="9.8" height="48.72" fill="none" stroke="#3a3a3a" stroke-width="1"/>
<line x1="403.3" y1="406.1" x2="575" y2="406.1" stroke="#444" stroke-width="1"/>
<line x1="405.3" y1="406.1" x2="405.3" y2="407.3" stroke="#666" stroke-width="0.6"/>
<line x1="408.3" y1="406.1" x2="408.3" y2="407.3" stroke="#666" stroke-width="0.6"/>
<line x1="411.3" y1="406.1" x2="411.3" y2="407.3" stroke="#666" stroke-width="0.6"/>
<line x1="414.3" y1="406.1" x2="414.3" y2="407.3" stroke="#666" stroke-width="0.6"/>
<line x1="417.3" y1="406.1" x2="417.3" y2="407.3" stroke="#666" stroke-width="0.6"/>
<line x1="420.3" y1="406.1" x2="420.3" y2="407.3" stroke="#666" stroke-width="0.6"/>
<line x1="423.3" y1="406.1" x2="423.3" y2="407.3" stroke="#666" stroke-width="0.6"/>
<line x1="426.3" y1="406.1" x2="426.3" y2="407.3" stroke="#666" stroke-width="0.6"/>
<line x1="429.3" y1="406.1" x2="429.3" y2="407.3" stroke="#666" stroke-width="0.6"/>
<line x1="432.3" y1="406.1" x2="432.3" y2="407.3" stroke="#666" stroke-width="0.6"/>
<line x1="435.3" y1="406.1" x2="435.3" y2="407.3" stroke="#666" stroke-width="0.6"/>
<line x1="438.3" y1="406.1" x2="438.3" y2="407.3" stroke="#666" stroke-width="0.6"/>
<line x1="441.3" y1="406.1" x2="441.3" y2="407.3" stroke="#666" stroke-width="0.6"/>
<line x1="444.3" y1="406.1" x2="444.3" y2="407.3" stroke="#666" stroke-width="0.6"/>
<line x1="447.3" y1="406.1" x2="447.3" y2="407.3" stroke="#666" stroke-width="0.6"/>
<line x1="450.3" y1="406.1" x2="450.3" y2="407.3" stroke="#666" stroke-width="0.6"/>
<line x1="453.3" y1="406.1" x2="453.3" y2="407.3" stroke="#666" stroke-width="0.6"/>
<line x1="456.3" y1="406.1" x2="456.3" y2="407.3" stroke="#666" stroke-width="0.6"/>
<line x1="459.3" y1="406.1" x2="459.3" y2="407.3" stroke="#666" stroke-width="0.6"/>
<line x1="462.3" y1="406.1" x2="462.3" y2="407.3" stroke="#666" stroke-width="0.6"/>
<line x1="465.3" y1="406.1" x2="465.3" y2="407.3" stroke="#666" stroke-width="0.6"/>
<line x1="468.3" y1="406.1" x2="468.3" y2="407.3" stroke="#666" stroke-width="0.6"/>
<line x1="471.3" y1="406.1" x2="471.3" y2="407.3" stroke="#666" stroke-width="0.6"/>
<line x1="474.3" y1="406.1" x2="474.3" y2="407.3" stroke="#666" stroke-width="0.6"/>
<line x1="477.3" y1="406.1" x2="477.3" y2="407.3" stroke="#666" stroke-width="0.6"/>
<line x1="480.3" y1="406.1" x2="480.3" y2="407.3" stroke="#666" stroke-width="0.6"/>
<line x1="483.3" y1="406.1" x2="483.3" y2="407.3" stroke="#666" stroke-width="0.6"/>
<line x1="486.3" y1="406.1" x2="486.3" y2="407.3" stroke="#666" stroke-width="0.6"/>
<line x1="489.3" y1="406.1" x2="489.3" y2="407.3" stroke="#666" stroke-width="0.6"/>
<line x1="492.3" y1="406.1" x2="492.3" y2="407.3" stroke="#666" stroke-width="0.6"/>
<line x1="495.3" y1="406.1" x2="495.3" y2="407.3" stroke="#666" stroke-width="0.6"/>
<line x1="498.3" y1="406.1" x2="498.3" y2="407.3" stroke="#666" stroke-width="0.6"/>
<line x1="501.3" y1="406.1" x2="501.3" y2="407.3" stroke="#666" stroke-width="0.6"/>
<line x1="504.3" y1="406.1" x2="504.3" y2="407.3" stroke="#666" stroke-width="0.6"/>
<line x1="507.3" y1="406.1" x2="507.3" y2="407.3" stroke="#666" stroke-width="0.6"/>
<line x1="510.3" y1="406.1" x2="510.3" y2="407.3" stroke="#666" stroke-width="0.6"/>
<line x1="513.3" y1="406.1" x2="513.3" y2="407.3" stroke="#666" stroke-width="0.6"/>
<line x1="516.3" y1="406.1" x2="516.3" y2="407.3" stroke="#666" stroke-width="0.6"/>
<line x1="519.3" y1="406.1" x2="519.3" y2="407.3" stroke="#666" stroke-width="0.6"/>
<line x1="522.3" y1="406.1" x2="522.3" y2="407.3" stroke="#666" stroke-width="0.6"/>
<line x1="525.3" y1="406.1" x2="525.3" y2="407.3" stroke="#666" stroke-width="0.6"/>
<line x1="528.3" y1="406.1" x2="528.3" y2="407.3" stroke="#666" stroke-width="0.6"/>
<line x1="531.3" y1="406.1" x2="531.3" y2="407.3" stroke="#666" stroke-width="0.6"/>
<line x1="534.3" y1="406.1" x2="534.3" y2="407.3" stroke="#666" stroke-width="0.6"/>
<line x1="537.3" y1="406.1" x2="537.3" y2="407.3" stroke="#666" stroke-width="0.6"/>
<line x1="540.3" y1="406.1" x2="540.3" y2="407.3" stroke="#666" stroke-width="0.6"/>
<line x1="543.3" y1="406.1" x2="543.3" y2="407.3" stroke="#666" stroke-width="0.6"/>
<line x1="546.3" y1="406.1" x2="546.3" y2="407.3" stroke="#666" stroke-width="0.6"/>
<line x1="549.3" y1="406.1" x2="549.3" y2="407.3" stroke="#666" stroke-width="0.6"/>
<line x1="552.3" y1="406.1" x2="552.3" y2="407.3" stroke="#666" stroke-width="0.6"/>
<line x1="555.3" y1="406.1" x2="555.3" y2="407.3" stroke="#666" stroke-width="0.6"/>
<line x1="558.3" y1="406.1" x2="558.3" y2="407.3" stroke="#666" stroke-width="0.6"/>
<line x1="561.3" y1="406.1" x2="561.3" y2="407.3" stroke="#666" stroke-width="0.6"/>
<line x1="564.3" y1="406.1" x2="564.3" y2="407.3" stroke="#666" stroke-width="0.6"/>
<line x1="567.3" y1="406.1" x2="567.3" y2="407.3" stroke="#666" stroke-width="0.6"/>
<line x1="570.3" y1="406.1" x2="570.3" y2="407.3" stroke="#666" stroke-width="0.6"/>
<line x1="573.3" y1="406.1" x2="573.3" y2="407.3" stroke="#666" stroke-width="0.6"/>
<line x1="447.5" y1="406.1" x2="447.5" y2="409.6" stroke="#444" stroke-width="0.9"/>
<text x="447.5" y="419.3" font-size="8.4" fill="#222" text-anchor="middle">Glycolysis</text>
<line x1="536.5" y1="406.1" x2="536.5" y2="409.6" stroke="#444" stroke-width="0.9"/>
<text x="536.5" y="419.3" font-size="8.4" fill="#222" text-anchor="middle">Glycolytic Capacity</text>
<circle cx="412.5" cy="344.5" r="2.3" fill="#0a0aff" stroke="none" stroke-width="0"/>
<circle cx="416.25" cy="342.5" r="2.3" fill="#0a0aff" stroke="none" stroke-width="0"/>
<circle cx="414.5" cy="353.25" r="2.3" fill="#0a0aff" stroke="none" stroke-width="0"/>
<circle cx="411.75" cy="369.5" r="2.3" fill="#0a0aff" stroke="none" stroke-width="0"/>
<circle cx="415" cy="370" r="2.3" fill="#0a0aff" stroke="none" stroke-width="0"/>
<circle cx="417.5" cy="375" r="2.3" fill="#0a0aff" stroke="none" stroke-width="0"/>
<circle cx="428" cy="363" r="2.3" fill="#f21616" stroke="none" stroke-width="0"/>
<circle cx="427.5" cy="369.5" r="2.3" fill="#f21616" stroke="none" stroke-width="0"/>
<circle cx="425" cy="381" r="2.3" fill="#f21616" stroke="none" stroke-width="0"/>
<circle cx="430.75" cy="386.25" r="2.3" fill="#f21616" stroke="none" stroke-width="0"/>
<circle cx="440.75" cy="310" r="2.3" fill="#3ad43a" stroke="none" stroke-width="0"/>
<circle cx="440.75" cy="323.75" r="2.3" fill="#3ad43a" stroke="none" stroke-width="0"/>
<circle cx="440.75" cy="330.75" r="2.3" fill="#3ad43a" stroke="none" stroke-width="0"/>
<circle cx="440.75" cy="342.5" r="2.3" fill="#3ad43a" stroke="none" stroke-width="0"/>
<circle cx="451.25" cy="364.25" r="2.3" fill="#c02cf6" stroke="none" stroke-width="0"/>
<circle cx="453.25" cy="364.25" r="2.3" fill="#c02cf6" stroke="none" stroke-width="0"/>
<circle cx="455" cy="368.75" r="2.3" fill="#c02cf6" stroke="none" stroke-width="0"/>
<circle cx="457.5" cy="370" r="2.3" fill="#c02cf6" stroke="none" stroke-width="0"/>
<circle cx="464.5" cy="332.5" r="2.3" fill="#f0862a" stroke="none" stroke-width="0"/>
<circle cx="469.5" cy="335.75" r="2.3" fill="#f0862a" stroke="none" stroke-width="0"/>
<circle cx="467" cy="342.5" r="2.3" fill="#f0862a" stroke="none" stroke-width="0"/>
<circle cx="467" cy="352" r="2.3" fill="#f0862a" stroke="none" stroke-width="0"/>
<circle cx="467" cy="374" r="2.3" fill="#f0862a" stroke="none" stroke-width="0"/>
<circle cx="477.5" cy="352" r="2.3" fill="#000000" stroke="none" stroke-width="0"/>
<circle cx="482.5" cy="353" r="2.3" fill="#000000" stroke="none" stroke-width="0"/>
<circle cx="477.5" cy="368" r="2.3" fill="#000000" stroke="none" stroke-width="0"/>
<circle cx="482.5" cy="370" r="2.3" fill="#000000" stroke="none" stroke-width="0"/>
<circle cx="501.25" cy="338" r="2.3" fill="#0a0aff" stroke="none" stroke-width="0"/>
<circle cx="507" cy="336.25" r="2.3" fill="#0a0aff" stroke="none" stroke-width="0"/>
<circle cx="503.75" cy="341.25" r="2.3" fill="#0a0aff" stroke="none" stroke-width="0"/>
<circle cx="505" cy="342.5" r="2.3" fill="#0a0aff" stroke="none" stroke-width="0"/>
<circle cx="503.75" cy="350.75" r="2.3" fill="#0a0aff" stroke="none" stroke-width="0"/>
<circle cx="503.75" cy="363" r="2.3" fill="#0a0aff" stroke="none" stroke-width="0"/>
<circle cx="517" cy="347.5" r="2.3" fill="#f21616" stroke="none" stroke-width="0"/>
<circle cx="514.25" cy="359.5" r="2.3" fill="#f21616" stroke="none" stroke-width="0"/>
<circle cx="520" cy="363.25" r="2.3" fill="#f21616" stroke="none" stroke-width="0"/>
<circle cx="517" cy="384" r="2.3" fill="#f21616" stroke="none" stroke-width="0"/>
<circle cx="530" cy="308.75" r="2.3" fill="#3ad43a" stroke="none" stroke-width="0"/>
<circle cx="527.5" cy="330.75" r="2.3" fill="#3ad43a" stroke="none" stroke-width="0"/>
<circle cx="533" cy="332" r="2.3" fill="#3ad43a" stroke="none" stroke-width="0"/>
<circle cx="530" cy="347" r="2.3" fill="#3ad43a" stroke="none" stroke-width="0"/>
<circle cx="540" cy="347.5" r="2.3" fill="#c02cf6" stroke="none" stroke-width="0"/>
<circle cx="542.5" cy="348.25" r="2.3" fill="#c02cf6" stroke="none" stroke-width="0"/>
<circle cx="544.5" cy="350" r="2.3" fill="#c02cf6" stroke="none" stroke-width="0"/>
<circle cx="546.25" cy="353" r="2.3" fill="#c02cf6" stroke="none" stroke-width="0"/>
<circle cx="553.25" cy="320" r="2.3" fill="#f0862a" stroke="none" stroke-width="0"/>
<circle cx="559" cy="322.5" r="2.3" fill="#f0862a" stroke="none" stroke-width="0"/>
<circle cx="556.25" cy="329.5" r="2.3" fill="#f0862a" stroke="none" stroke-width="0"/>
<circle cx="553.25" cy="333.25" r="2.3" fill="#f0862a" stroke="none" stroke-width="0"/>
<circle cx="559" cy="339.25" r="2.3" fill="#f0862a" stroke="none" stroke-width="0"/>
<circle cx="566.5" cy="344" r="2.3" fill="#000000" stroke="none" stroke-width="0"/>
<circle cx="572" cy="348" r="2.3" fill="#000000" stroke="none" stroke-width="0"/>
<circle cx="569.25" cy="364.25" r="2.3" fill="#000000" stroke="none" stroke-width="0"/>
<circle cx="569.25" cy="372.5" r="2.3" fill="#000000" stroke="none" stroke-width="0"/>
<circle cx="591.8" cy="305.4" r="2.1" fill="#0a0aff" stroke="none" stroke-width="0"/>
<text x="602.5" y="308.3" font-size="8.1"><tspan font-style="italic">Wt</tspan></text>
<circle cx="591.8" cy="319" r="2.1" fill="#f21616" stroke="none" stroke-width="0"/>
<text x="602.5" y="321.9" font-size="8.1"><tspan font-style="italic">Wt</tspan> + IsoalloLCA</text>
<circle cx="591.8" cy="332.2" r="2.1" fill="#3ad43a" stroke="none" stroke-width="0"/>
<text x="602.5" y="335.1" font-size="8.1"><tspan font-style="italic">Wt</tspan> + LPS</text>
<circle cx="591.8" cy="345.6" r="2.1" fill="#c02cf6" stroke="none" stroke-width="0"/>
<text x="602.5" y="348.5" font-size="8.1"><tspan font-style="italic">Wt</tspan> + IsoalloLCA + LPS</text>
<circle cx="591.8" cy="360" r="2.1" fill="#f0862a" stroke="none" stroke-width="0"/>
<text x="602.5" y="364.2" font-size="8.1"><tspan font-style="italic">Il10</tspan><tspan dx="2.43" dy="-3.3" font-size="5.51">-/-</tspan><tspan dx="0.81" dy="3.3"></tspan></text>
<circle cx="591.8" cy="375" r="2.1" fill="#000000" stroke="none" stroke-width="0"/>
<text x="602.5" y="379.2" font-size="8.1"><tspan font-style="italic">Il10</tspan><tspan dx="2.43" dy="-3.3" font-size="5.51">-/-</tspan><tspan dx="0.81" dy="3.3"> + IsoalloLCA</tspan></text>
<text x="150" y="454.2" font-size="10.3" font-style="italic" text-anchor="middle">Wt</text>
<text x="252" y="454.2" font-size="10.3" font-style="italic" text-anchor="middle">LPS</text>
<line x1="102.5" y1="456.2" x2="197.5" y2="456.2" stroke="#111" stroke-width="1.3"/>
<line x1="202" y1="456.2" x2="296.2" y2="456.2" stroke="#111" stroke-width="1.3"/>
<text x="123.6" y="470.1" font-size="9.3" text-anchor="middle">DMSO</text>
<text x="173.6" y="470.1" font-size="9.3" text-anchor="middle">isoalloLCA</text>
<text x="223.2" y="470.1" font-size="9.3" text-anchor="middle">DMSO</text>
<text x="272.8" y="470.1" font-size="9.3" text-anchor="middle">isoalloLCA</text>
<line x1="103.2" y1="472.6" x2="144.3" y2="472.6" stroke="#111" stroke-width="1.3"/>
<line x1="152" y1="472.6" x2="195.2" y2="472.6" stroke="#111" stroke-width="1.3"/>
<line x1="202.5" y1="472.6" x2="242.7" y2="472.6" stroke="#111" stroke-width="1.3"/>
<line x1="251" y1="472.6" x2="291.6" y2="472.6" stroke="#111" stroke-width="1.3"/>
<text x="57.4" y="470.3" font-size="9.8">kD</text>
<text x="467.2" y="449.1" font-size="10.3" font-style="italic" text-anchor="middle">Wt</text>
<text x="559.2" y="449.1" font-size="10.3"><tspan font-style="italic" letter-spacing="0.6">Il10</tspan><tspan dx="2.2" dy="-3.6" font-size="7">-/-</tspan></text>
<line x1="420.3" y1="451.8" x2="513.9" y2="451.8" stroke="#111" stroke-width="1.3"/>
<line x1="519.8" y1="451.8" x2="613.9" y2="451.8" stroke="#111" stroke-width="1.3"/>
<text x="441.3" y="464.9" font-size="9.3" text-anchor="middle">DMSO</text>
<text x="490.8" y="464.9" font-size="9.3" text-anchor="middle">isoalloLCA</text>
<text x="540.3" y="464.9" font-size="9.3" text-anchor="middle">DMSO</text>
<text x="590" y="464.9" font-size="9.3" text-anchor="middle">isoalloLCA</text>
<line x1="421.3" y1="467.7" x2="461.8" y2="467.7" stroke="#111" stroke-width="1.3"/>
<line x1="469.2" y1="467.7" x2="510.7" y2="467.7" stroke="#111" stroke-width="1.3"/>
<line x1="519.8" y1="467.7" x2="560.8" y2="467.7" stroke="#111" stroke-width="1.3"/>
<line x1="566.3" y1="467.7" x2="613.9" y2="467.7" stroke="#111" stroke-width="1.3"/>
<text x="377.6" y="465.1" font-size="9.8">kD</text>
<clipPath id="cl1"><rect x="82.4" y="475.5" width="220.8" height="32.7"/></clipPath>
<rect x="82.4" y="475.5" width="220.8" height="32.7" fill="#f6f6f6" stroke="none" stroke-width="0"/>
<g clip-path="url(#cl1)">
<rect x="84.5" y="492" width="7" height="10" rx="3" fill="#000" opacity="0.08" filter="url(#b2)"/>
<path d="M83.5,500 q3,-2 5,-4 q2,-2 4,-1 M85,503 q3,-3 6,-2 q1,-2 3,-3 M84,504.5 h9 M86,498 q2,1 3,3 M88,496 q1,3 3,4" fill="none" stroke="#888" stroke-width="0.5" opacity="0.7"/>
<rect x="99.55" y="493.2" width="14.5" height="10" rx="3" fill="#000" opacity="0.27" filter="url(#b2)"/>
<rect x="99.55" y="498.4" width="14.5" height="3.8" rx="1.9" fill="#000" opacity="0.85" filter="url(#b1)"/>
<rect x="99.8" y="494.3" width="14" height="3" rx="1.5" fill="#000" opacity="0.6" filter="url(#b1)"/>
<rect x="116.15" y="493.2" width="14.5" height="10" rx="3" fill="#000" opacity="0.22" filter="url(#b2)"/>
<rect x="116.15" y="498.4" width="14.5" height="3.8" rx="1.9" fill="#000" opacity="0.62" filter="url(#b1)"/>
<rect x="116.4" y="494.3" width="14" height="3" rx="1.5" fill="#000" opacity="0.48" filter="url(#b1)"/>
<rect x="132.75" y="493.2" width="14.5" height="10" rx="3" fill="#000" opacity="0.18" filter="url(#b2)"/>
<rect x="132.75" y="498.4" width="14.5" height="3.8" rx="1.9" fill="#000" opacity="0.5" filter="url(#b1)"/>
<rect x="133" y="494.3" width="14" height="3" rx="1.5" fill="#000" opacity="0.4" filter="url(#b1)"/>
<rect x="149.35" y="493.2" width="14.5" height="10" rx="3" fill="#000" opacity="0.05" filter="url(#b2)"/>
<rect x="149.35" y="498.4" width="14.5" height="3.8" rx="1.9" fill="#000" opacity="0.16" filter="url(#b1)"/>
<rect x="149.6" y="494.3" width="14" height="3" rx="1.5" fill="#000" opacity="0.12" filter="url(#b1)"/>
<rect x="165.95" y="493.2" width="14.5" height="10" rx="3" fill="#000" opacity="0.07" filter="url(#b2)"/>
<rect x="165.95" y="498.4" width="14.5" height="3.8" rx="1.9" fill="#000" opacity="0.2" filter="url(#b1)"/>
<rect x="166.2" y="494.3" width="14" height="3" rx="1.5" fill="#000" opacity="0.16" filter="url(#b1)"/>
<rect x="182.55" y="493.2" width="14.5" height="10" rx="3" fill="#000" opacity="0.09" filter="url(#b2)"/>
<rect x="182.55" y="498.4" width="14.5" height="3.8" rx="1.9" fill="#000" opacity="0.22" filter="url(#b1)"/>
<rect x="182.8" y="494.3" width="14" height="3" rx="1.5" fill="#000" opacity="0.2" filter="url(#b1)"/>
<rect x="199.15" y="493.2" width="14.5" height="10" rx="3" fill="#000" opacity="0.27" filter="url(#b2)"/>
<rect x="199.15" y="498.4" width="14.5" height="3.8" rx="1.9" fill="#000" opacity="1" filter="url(#b1)"/>
<rect x="199.4" y="494.3" width="14" height="3" rx="1.5" fill="#000" opacity="0.6" filter="url(#b1)"/>
<rect x="215.75" y="493.2" width="14.5" height="10" rx="3" fill="#000" opacity="0.25" filter="url(#b2)"/>
<rect x="215.75" y="498.4" width="14.5" height="3.8" rx="1.9" fill="#000" opacity="1" filter="url(#b1)"/>
<rect x="216" y="494.3" width="14" height="3" rx="1.5" fill="#000" opacity="0.55" filter="url(#b1)"/>
<rect x="232.35" y="493.2" width="14.5" height="10" rx="3" fill="#000" opacity="0.25" filter="url(#b2)"/>
<rect x="232.35" y="498.4" width="14.5" height="3.8" rx="1.9" fill="#000" opacity="1" filter="url(#b1)"/>
<rect x="232.6" y="494.3" width="14" height="3" rx="1.5" fill="#000" opacity="0.55" filter="url(#b1)"/>
<rect x="248.95" y="493.2" width="14.5" height="10" rx="3" fill="#000" opacity="0.14" filter="url(#b2)"/>
<rect x="248.95" y="498.4" width="14.5" height="3.8" rx="1.9" fill="#000" opacity="0.42" filter="url(#b1)"/>
<rect x="249.2" y="494.3" width="14" height="3" rx="1.5" fill="#000" opacity="0.3" filter="url(#b1)"/>
<rect x="265.55" y="492.4" width="14.5" height="10" rx="3" fill="#000" opacity="0.28" filter="url(#b2)" transform="rotate(-5.91 272.8 497.4)"/>
<rect x="265.55" y="497.6" width="14.5" height="3.8" rx="1.9" fill="#000" opacity="0.72" filter="url(#b1)" transform="rotate(-5.91 272.8 499.5)"/>
<rect x="265.8" y="493.5" width="14" height="3" rx="1.5" fill="#000" opacity="0.62" filter="url(#b1)" transform="rotate(-6.12 272.8 495)"/>
<rect x="282.15" y="491.4" width="14.5" height="10" rx="3" fill="#000" opacity="0.36" filter="url(#b2)" transform="rotate(-5.91 289.4 496.4)"/>
<rect x="282.15" y="496.6" width="14.5" height="3.8" rx="1.9" fill="#000" opacity="0.92" filter="url(#b1)" transform="rotate(-5.91 289.4 498.5)"/>
<rect x="282.4" y="492.5" width="14" height="3" rx="1.5" fill="#000" opacity="0.8" filter="url(#b1)" transform="rotate(-6.12 289.4 494)"/>
<rect x="281" y="506.25" width="16" height="2.5" rx="1.25" fill="#000" opacity="0.9" filter="url(#b3)"/>
</g>
<rect x="82.4" y="475.5" width="220.8" height="32.7" fill="none" stroke="#111" stroke-width="1.5"/>
<rect x="95.5" y="484.9" width="203.8" height="19.9" fill="none" stroke="#8446cc" stroke-width="1.45" stroke-dasharray="4.4,3.05"/>
<text x="71.1" y="505.05" font-size="8.9" fill="#222" text-anchor="end">49</text>
<line x1="75" y1="501.3" x2="80.6" y2="501.3" stroke="#111" stroke-width="1.2"/>
<line x1="303.4" y1="497.1" x2="310.2" y2="497.1" stroke="#111" stroke-width="1.2"/>
<text x="314.1" y="501" font-size="10.9">ETS2</text>
<clipPath id="cl2"><rect x="82.4" y="508.4" width="220.8" height="32.6"/></clipPath>
<rect x="82.4" y="508.4" width="220.8" height="32.6" fill="#f6f6f6" stroke="none" stroke-width="0"/>
<g clip-path="url(#cl2)">
<rect x="85" y="513" width="6" height="8" rx="3" fill="#000" opacity="0.06" filter="url(#b2)"/>
<rect x="83.5" y="529.5" width="9" height="2" rx="1" fill="#000" opacity="0.25" filter="url(#b1)"/>
<rect x="84" y="534.25" width="8" height="1.5" rx="0.75" fill="#000" opacity="0.15" filter="url(#b1)"/>
<path d="M84,515 q2,-3 4,-3 q2,1 3,-2 M85,519 q3,-2 5,0 q1,1 2,-2 M86,522 q2,2 4,1 M84.5,524 h8" fill="none" stroke="#999" stroke-width="0.5" opacity="0.7"/>
<rect x="97.9" y="527.75" width="16.2" height="4.9" rx="2.45" fill="#000" opacity="1" filter="url(#b5)"/>
<rect x="114.55" y="528.35" width="16.2" height="4.9" rx="2.45" fill="#000" opacity="1" filter="url(#b5)"/>
<rect x="131.2" y="528.35" width="16.2" height="4.9" rx="2.45" fill="#000" opacity="1" filter="url(#b5)"/>
<rect x="147.85" y="528.35" width="16.2" height="4.9" rx="2.45" fill="#000" opacity="1" filter="url(#b5)"/>
<rect x="164.5" y="528.35" width="16.2" height="4.9" rx="2.45" fill="#000" opacity="1" filter="url(#b5)"/>
<rect x="181.15" y="528.35" width="16.2" height="4.9" rx="2.45" fill="#000" opacity="1" filter="url(#b5)"/>
<rect x="197.8" y="528.35" width="16.2" height="4.9" rx="2.45" fill="#000" opacity="1" filter="url(#b5)"/>
<rect x="214.45" y="528.35" width="16.2" height="4.9" rx="2.45" fill="#000" opacity="1" filter="url(#b5)"/>
<rect x="231.1" y="528.35" width="16.2" height="4.9" rx="2.45" fill="#000" opacity="1" filter="url(#b5)"/>
<rect x="247.75" y="528.35" width="16.2" height="4.9" rx="2.45" fill="#000" opacity="1" filter="url(#b5)"/>
<rect x="264.4" y="528.35" width="16.2" height="4.9" rx="2.45" fill="#000" opacity="1" filter="url(#b5)"/>
<rect x="281.05" y="527.75" width="16.2" height="4.9" rx="2.45" fill="#000" opacity="1" filter="url(#b5)" transform="rotate(-4.24 289.15 530.2)"/>
</g>
<rect x="82.4" y="508.4" width="220.8" height="32.6" fill="none" stroke="#111" stroke-width="1.5"/>
<rect x="96" y="521.6" width="203" height="14.9" fill="none" stroke="#8446cc" stroke-width="1.45" stroke-dasharray="4.4,3.05"/>
<text x="71.8" y="536.85" font-size="8.9" fill="#222" text-anchor="end">39</text>
<line x1="75.4" y1="533.1" x2="81.9" y2="533.1" stroke="#111" stroke-width="1.2"/>
<line x1="303.4" y1="529.7" x2="310.2" y2="529.7" stroke="#111" stroke-width="1.2"/>
<text x="313" y="533.2" font-size="10.9">&#946;-actin</text>
<clipPath id="cl3"><rect x="80.2" y="545.3" width="221.1" height="32.2"/></clipPath>
<rect x="80.2" y="545.3" width="221.1" height="32.2" fill="#f6f6f6" stroke="none" stroke-width="0"/>
<g clip-path="url(#cl3)">
<rect x="82.5" y="544.55" width="11" height="4.5" rx="2.25" fill="#000" opacity="1" filter="url(#b1)"/>
<rect x="82.5" y="555.6" width="11" height="4" rx="2" fill="#000" opacity="1" filter="url(#b1)"/>
<rect x="82.5" y="569.15" width="11" height="4.5" rx="2.25" fill="#000" opacity="1" filter="url(#b1)"/>
<rect x="83" y="559" width="10" height="10" rx="3" fill="#000" opacity="0.25" filter="url(#b2)"/>
<rect x="196.8" y="545" width="15" height="33" fill="#fdfdfd" stroke="none" stroke-width="0"/>
<rect x="213.7" y="545" width="15" height="33" fill="#fdfdfd" stroke="none" stroke-width="0"/>
<rect x="230.6" y="545" width="15" height="33" fill="#fdfdfd" stroke="none" stroke-width="0"/>
<rect x="247.5" y="545" width="15" height="33" fill="#fdfdfd" stroke="none" stroke-width="0"/>
<rect x="264.4" y="545" width="15" height="33" fill="#fdfdfd" stroke="none" stroke-width="0"/>
<rect x="281.3" y="545" width="15" height="33" fill="#fdfdfd" stroke="none" stroke-width="0"/>
<rect x="198.1" y="544" width="12.4" height="22" rx="3" fill="#000" opacity="0.22" filter="url(#b2)"/>
<rect x="198.1" y="568.5" width="12.4" height="5" rx="2.5" fill="#000" opacity="0.5" filter="url(#b1)"/>
<rect x="198" y="565.5" width="12.6" height="3.4" rx="1.7" fill="#000" opacity="1" filter="url(#b1)"/>
<rect x="198.2" y="566.2" width="12.2" height="2" rx="1" fill="#000" opacity="0.8" filter="url(#b3)"/>
<rect x="198" y="574.3" width="12.6" height="5" rx="2.5" fill="#000" opacity="1" filter="url(#b1)"/>
<rect x="198.2" y="575.5" width="12.2" height="3" rx="1.5" fill="#000" opacity="1" filter="url(#b3)"/>
<rect x="215" y="544" width="12.4" height="22" rx="3" fill="#000" opacity="0.34" filter="url(#b2)"/>
<rect x="215" y="545.5" width="12.4" height="7" rx="3" fill="#000" opacity="0.3" filter="url(#b2)"/>
<rect x="215" y="567.95" width="12.4" height="5" rx="2.5" fill="#000" opacity="0.55" filter="url(#b1)"/>
<rect x="214.9" y="564.95" width="12.6" height="3.4" rx="1.7" fill="#000" opacity="1" filter="url(#b1)"/>
<rect x="215.1" y="565.65" width="12.2" height="2" rx="1" fill="#000" opacity="0.8" filter="url(#b3)"/>
<rect x="214.9" y="574.3" width="12.6" height="5" rx="2.5" fill="#000" opacity="1" filter="url(#b1)"/>
<rect x="215.1" y="575.5" width="12.2" height="3" rx="1.5" fill="#000" opacity="1" filter="url(#b3)"/>
<rect x="231.9" y="544" width="12.4" height="22" rx="3" fill="#000" opacity="0.13" filter="url(#b2)"/>
<rect x="231.9" y="567.4" width="12.4" height="5" rx="2.5" fill="#000" opacity="0.45" filter="url(#b1)"/>
<rect x="231.8" y="564.4" width="12.6" height="3.4" rx="1.7" fill="#000" opacity="0.85" filter="url(#b1)"/>
<rect x="232" y="565.1" width="12.2" height="2" rx="1" fill="#000" opacity="0.68" filter="url(#b3)"/>
<rect x="231.8" y="574.3" width="12.6" height="5" rx="2.5" fill="#000" opacity="0.95" filter="url(#b1)"/>
<rect x="232" y="575.5" width="12.2" height="3" rx="1.5" fill="#000" opacity="0.95" filter="url(#b3)"/>
<rect x="248.8" y="544" width="12.4" height="22" rx="3" fill="#000" opacity="0.11" filter="url(#b2)"/>
<rect x="248.8" y="566.85" width="12.4" height="5" rx="2.5" fill="#000" opacity="0.4" filter="url(#b1)"/>
<rect x="248.7" y="563.85" width="12.6" height="3.4" rx="1.7" fill="#000" opacity="0.85" filter="url(#b1)"/>
<rect x="248.9" y="564.55" width="12.2" height="2" rx="1" fill="#000" opacity="0.68" filter="url(#b3)"/>
<rect x="248.7" y="574.3" width="12.6" height="5" rx="2.5" fill="#000" opacity="0.95" filter="url(#b1)"/>
<rect x="248.9" y="575.5" width="12.2" height="3" rx="1.5" fill="#000" opacity="0.95" filter="url(#b3)"/>
<rect x="265.7" y="544" width="12.4" height="22" rx="3" fill="#000" opacity="0.11" filter="url(#b2)"/>
<rect x="265.7" y="566.3" width="12.4" height="5" rx="2.5" fill="#000" opacity="0.4" filter="url(#b1)"/>
<rect x="265.6" y="563.3" width="12.6" height="3.4" rx="1.7" fill="#000" opacity="0.85" filter="url(#b1)"/>
<rect x="265.8" y="564" width="12.2" height="2" rx="1" fill="#000" opacity="0.68" filter="url(#b3)"/>
<rect x="265.6" y="574.3" width="12.6" height="5" rx="2.5" fill="#000" opacity="0.95" filter="url(#b1)"/>
<rect x="265.8" y="575.5" width="12.2" height="3" rx="1.5" fill="#000" opacity="0.95" filter="url(#b3)"/>
<rect x="282.6" y="544" width="12.4" height="22" rx="3" fill="#000" opacity="0.12" filter="url(#b2)"/>
<rect x="282.6" y="565.75" width="12.4" height="5" rx="2.5" fill="#000" opacity="0.38" filter="url(#b1)"/>
<rect x="282.5" y="562.75" width="12.6" height="3.4" rx="1.7" fill="#000" opacity="0.8" filter="url(#b1)"/>
<rect x="282.7" y="563.45" width="12.2" height="2" rx="1" fill="#000" opacity="0.64" filter="url(#b3)"/>
<rect x="282.5" y="574.3" width="12.6" height="5" rx="2.5" fill="#000" opacity="0.9" filter="url(#b1)"/>
<rect x="282.7" y="575.5" width="12.2" height="3" rx="1.5" fill="#000" opacity="0.9" filter="url(#b3)"/>
<rect x="96.9" y="560" width="12" height="6" rx="3" fill="#000" opacity="0.04" filter="url(#b2)"/>
<rect x="113.8" y="560" width="12" height="6" rx="3" fill="#000" opacity="0.04" filter="url(#b2)"/>
<rect x="130.7" y="560" width="12" height="6" rx="3" fill="#000" opacity="0.04" filter="url(#b2)"/>
<rect x="147.6" y="560" width="12" height="6" rx="3" fill="#000" opacity="0.04" filter="url(#b2)"/>
<rect x="164.5" y="560" width="12" height="6" rx="3" fill="#000" opacity="0.04" filter="url(#b2)"/>
<rect x="181.4" y="560" width="12" height="6" rx="3" fill="#000" opacity="0.04" filter="url(#b2)"/>
</g>
<rect x="80.2" y="545.3" width="221.1" height="32.2" fill="none" stroke="#111" stroke-width="1.5"/>
<rect x="93.2" y="554.6" width="203.4" height="19.9" fill="none" stroke="#8446cc" stroke-width="1.45" stroke-dasharray="4.4,3.05"/>
<text x="69.8" y="562.75" font-size="8.9" fill="#222" text-anchor="end">140</text>
<line x1="73.2" y1="557.3" x2="78.9" y2="557.3" stroke="#111" stroke-width="1.2"/>
<line x1="301.6" y1="562.8" x2="308.5" y2="562.8" stroke="#111" stroke-width="1.2"/>
<text x="312.1" y="569.4" font-size="10.9">HIF1&#945;</text>
<clipPath id="cl4"><rect x="80.2" y="581.4" width="221.4" height="31.4"/></clipPath>
<rect x="80.2" y="581.4" width="221.4" height="31.4" fill="#f6f6f6" stroke="none" stroke-width="0"/>
<g clip-path="url(#cl4)">
<rect x="81" y="581.4" width="12" height="31.4" fill="#e4e4e4" stroke="none" stroke-width="0"/>
<rect x="84" y="589.5" width="6" height="5" rx="2.5" fill="#000" opacity="0.15" filter="url(#b2)"/>
<rect x="84" y="602" width="6" height="4" rx="2" fill="#000" opacity="0.15" filter="url(#b2)"/>
<rect x="94.1" y="599.75" width="16.2" height="4.5" rx="2.25" fill="#000" opacity="1" filter="url(#b5)" transform="rotate(-3.53 102.2 602)"/>
<rect x="111" y="600.75" width="16.2" height="4.5" rx="2.25" fill="#000" opacity="1" filter="url(#b5)"/>
<rect x="127.9" y="601.55" width="16.2" height="4.5" rx="2.25" fill="#000" opacity="1" filter="url(#b5)"/>
<rect x="144.8" y="601.95" width="16.2" height="4.5" rx="2.25" fill="#000" opacity="1" filter="url(#b5)"/>
<rect x="161.7" y="602.25" width="16.2" height="4.5" rx="2.25" fill="#000" opacity="1" filter="url(#b5)"/>
<rect x="178.6" y="602.55" width="16.2" height="4.5" rx="2.25" fill="#000" opacity="1" filter="url(#b5)"/>
<rect x="195.5" y="602.95" width="16.2" height="4.5" rx="2.25" fill="#000" opacity="1" filter="url(#b5)"/>
<rect x="212.4" y="603.35" width="16.2" height="4.5" rx="2.25" fill="#000" opacity="1" filter="url(#b5)"/>
<rect x="229.3" y="603.45" width="16.2" height="4.5" rx="2.25" fill="#000" opacity="1" filter="url(#b5)"/>
<rect x="246.2" y="603.75" width="16.2" height="4.5" rx="2.25" fill="#000" opacity="1" filter="url(#b5)"/>
<rect x="263.1" y="603.35" width="16.2" height="4.5" rx="2.25" fill="#000" opacity="1" filter="url(#b5)"/>
<rect x="280" y="602.35" width="16.2" height="4.5" rx="2.25" fill="#000" opacity="1" filter="url(#b5)" transform="rotate(-3.53 288.1 604.6)"/>
</g>
<rect x="80.2" y="581.4" width="221.4" height="31.4" fill="none" stroke="#111" stroke-width="1.5"/>
<rect x="94.6" y="590.5" width="203" height="19.9" fill="none" stroke="#8446cc" stroke-width="1.45" stroke-dasharray="4.4,3.05"/>
<text x="70.8" y="607.55" font-size="8.9" fill="#222" text-anchor="end">39</text>
<line x1="73.4" y1="604.2" x2="80.1" y2="604.2" stroke="#111" stroke-width="1.2"/>
<line x1="302" y1="600.4" x2="308.5" y2="600.4" stroke="#111" stroke-width="1.2"/>
<text x="312.1" y="603.8" font-size="10.9">&#946;-actin</text>
<clipPath id="cl5"><rect x="80.2" y="616.3" width="221.1" height="31.9"/></clipPath>
<rect x="80.2" y="616.3" width="221.1" height="31.9" fill="#f6f6f6" stroke="none" stroke-width="0"/>
<g clip-path="url(#cl5)">
<rect x="82" y="625.85" width="10" height="3.5" rx="1.75" fill="#000" opacity="0.6" filter="url(#b1)"/>
<rect x="82" y="638.05" width="10" height="3.5" rx="1.75" fill="#000" opacity="0.95" filter="url(#b1)"/>
<rect x="94.5" y="630.2" width="13" height="2.2" rx="1.1" fill="#000" opacity="0.07" filter="url(#b3)"/>
<rect x="111.4" y="630.2" width="13" height="2.2" rx="1.1" fill="#000" opacity="0.07" filter="url(#b3)"/>
<rect x="128.3" y="630.2" width="13" height="2.2" rx="1.1" fill="#000" opacity="0.07" filter="url(#b3)"/>
<rect x="145.2" y="630.2" width="13" height="2.2" rx="1.1" fill="#000" opacity="0.08" filter="url(#b3)"/>
<rect x="162.1" y="630.5" width="13" height="2.2" rx="1.1" fill="#000" opacity="0.22" filter="url(#b3)"/>
<rect x="179" y="630.5" width="13" height="2.2" rx="1.1" fill="#000" opacity="0.38" filter="url(#b3)"/>
<rect x="195.9" y="631" width="13" height="2.2" rx="1.1" fill="#000" opacity="0.8" filter="url(#b3)" transform="rotate(-2.64 202.4 632.1)"/>
<rect x="196.4" y="643.5" width="12" height="2" rx="1" fill="#000" opacity="0.12" filter="url(#b1)"/>
<rect x="212.8" y="630.2" width="13" height="2.2" rx="1.1" fill="#000" opacity="0.8" filter="url(#b3)" transform="rotate(-2.64 219.3 631.3)"/>
<rect x="213.3" y="643.5" width="12" height="2" rx="1" fill="#000" opacity="0.12" filter="url(#b1)"/>
<rect x="229.7" y="629.3" width="13" height="2.2" rx="1.1" fill="#000" opacity="0.78" filter="url(#b3)" transform="rotate(-2.64 236.2 630.4)"/>
<rect x="230.2" y="643.5" width="12" height="2" rx="1" fill="#000" opacity="0.12" filter="url(#b1)"/>
<rect x="246.6" y="628.4" width="13" height="2.2" rx="1.1" fill="#000" opacity="0.8" filter="url(#b3)" transform="rotate(-2.64 253.1 629.5)"/>
<rect x="247.1" y="643.5" width="12" height="2" rx="1" fill="#000" opacity="0.12" filter="url(#b1)"/>
<rect x="263.5" y="627.9" width="13" height="2.2" rx="1.1" fill="#000" opacity="0.8" filter="url(#b3)" transform="rotate(-2.64 270 629)"/>
<rect x="264" y="643.5" width="12" height="2" rx="1" fill="#000" opacity="0.12" filter="url(#b1)"/>
<rect x="280.4" y="626.5" width="13" height="2.2" rx="1.1" fill="#000" opacity="0.55" filter="url(#b3)" transform="rotate(-2.64 286.9 627.6)"/>
<rect x="280.9" y="643.5" width="12" height="2" rx="1" fill="#000" opacity="0.12" filter="url(#b1)"/>
</g>
<rect x="80.2" y="616.3" width="221.1" height="31.9" fill="none" stroke="#111" stroke-width="1.5"/>
<rect x="94.3" y="622.6" width="204" height="19.6" fill="none" stroke="#8446cc" stroke-width="1.45" stroke-dasharray="4.4,3.05"/>
<text x="70.5" y="631.75" font-size="8.9" fill="#222" text-anchor="end">63</text>
<line x1="73.4" y1="628.4" x2="80.1" y2="628.4" stroke="#111" stroke-width="1.2"/>
<line x1="302.3" y1="635.7" x2="309.1" y2="635.7" stroke="#111" stroke-width="1.2"/>
<text x="313" y="641.2" font-size="10.9">PFKFB3</text>
<clipPath id="cl6"><rect x="80.4" y="650.9" width="221.1" height="32.7"/></clipPath>
<rect x="80.4" y="650.9" width="221.1" height="32.7" fill="#f6f6f6" stroke="none" stroke-width="0"/>
<g clip-path="url(#cl6)">
<rect x="83.5" y="660" width="9" height="3" rx="1.5" fill="#000" opacity="0.35" filter="url(#b1)"/>
<rect x="83.5" y="671.7" width="9" height="3" rx="1.5" fill="#000" opacity="0.35" filter="url(#b1)"/>
<rect x="96.2" y="667.65" width="16.2" height="4.7" rx="2.35" fill="#000" opacity="1" filter="url(#b5)" transform="rotate(-4.24 104.3 670)"/>
<rect x="112.9" y="669.25" width="16.2" height="4.7" rx="2.35" fill="#000" opacity="1" filter="url(#b5)"/>
<rect x="129.6" y="669.55" width="16.2" height="4.7" rx="2.35" fill="#000" opacity="1" filter="url(#b5)"/>
<rect x="146.3" y="669.65" width="16.2" height="4.7" rx="2.35" fill="#000" opacity="1" filter="url(#b5)"/>
<rect x="163" y="669.65" width="16.2" height="4.7" rx="2.35" fill="#000" opacity="1" filter="url(#b5)"/>
<rect x="179.7" y="669.45" width="16.2" height="4.7" rx="2.35" fill="#000" opacity="1" filter="url(#b5)"/>
<rect x="196.4" y="669.45" width="16.2" height="4.7" rx="2.35" fill="#000" opacity="1" filter="url(#b5)"/>
<rect x="213.1" y="669.45" width="16.2" height="4.7" rx="2.35" fill="#000" opacity="1" filter="url(#b5)"/>
<rect x="229.8" y="669.25" width="16.2" height="4.7" rx="2.35" fill="#000" opacity="1" filter="url(#b5)"/>
<rect x="246.5" y="669.05" width="16.2" height="4.7" rx="2.35" fill="#000" opacity="1" filter="url(#b5)"/>
<rect x="263.2" y="668.45" width="16.2" height="4.7" rx="2.35" fill="#000" opacity="1" filter="url(#b5)"/>
<rect x="279.9" y="667.05" width="16.2" height="4.7" rx="2.35" fill="#000" opacity="1" filter="url(#b5)" transform="rotate(-4.24 288 669.4)"/>
</g>
<rect x="80.4" y="650.9" width="221.1" height="32.7" fill="none" stroke="#111" stroke-width="1.5"/>
<rect x="95.2" y="661.2" width="203.4" height="16" fill="none" stroke="#8446cc" stroke-width="1.45" stroke-dasharray="4.4,3.05"/>
<text x="71.1" y="674.45" font-size="8.9" fill="#222" text-anchor="end">39</text>
<line x1="74.2" y1="671.2" x2="80" y2="671.2" stroke="#111" stroke-width="1.2"/>
<line x1="302" y1="667.6" x2="309" y2="667.6" stroke="#111" stroke-width="1.2"/>
<text x="312.1" y="670.4" font-size="10.9">&#946;-actin</text>
<clipPath id="cl7"><rect x="399.4" y="473.7" width="221" height="31.6"/></clipPath>
<rect x="399.4" y="473.7" width="221" height="31.6" fill="#f6f6f6" stroke="none" stroke-width="0"/>
<g clip-path="url(#cl7)">
<rect x="399" y="473.5" width="12" height="7" rx="3" fill="#000" opacity="1" filter="url(#b3)"/>
<rect x="399" y="485.5" width="12" height="4" rx="2" fill="#000" opacity="0.85" filter="url(#b1)"/>
<rect x="399" y="495.5" width="12" height="10" rx="3" fill="#000" opacity="1" filter="url(#b3)"/>
<rect x="414.55" y="485.65" width="14.5" height="2.3" rx="1.15" fill="#000" opacity="0.62" filter="url(#b3)" transform="rotate(-1.58 421.8 486.8)"/>
<rect x="414.8" y="485.05" width="14" height="4.5" rx="2.25" fill="#000" opacity="0.11" filter="url(#b2)"/>
<rect x="431.25" y="486.15" width="14.5" height="2.3" rx="1.15" fill="#000" opacity="0.48" filter="url(#b3)" transform="rotate(-1.58 438.5 487.3)"/>
<rect x="431.5" y="485.55" width="14" height="4.5" rx="2.25" fill="#000" opacity="0.09" filter="url(#b2)"/>
<rect x="447.95" y="486.65" width="14.5" height="2.3" rx="1.15" fill="#000" opacity="0.36" filter="url(#b3)" transform="rotate(-1.58 455.2 487.8)"/>
<rect x="448.2" y="486.05" width="14" height="4.5" rx="2.25" fill="#000" opacity="0.06" filter="url(#b2)"/>
<rect x="464.65" y="487.15" width="14.5" height="2.3" rx="1.15" fill="#000" opacity="0.42" filter="url(#b3)" transform="rotate(-1.58 471.9 488.3)"/>
<rect x="464.9" y="486.55" width="14" height="4.5" rx="2.25" fill="#000" opacity="0.08" filter="url(#b2)"/>
<rect x="481.35" y="487.65" width="14.5" height="2.3" rx="1.15" fill="#000" opacity="0.4" filter="url(#b3)" transform="rotate(-1.58 488.6 488.8)"/>
<rect x="481.6" y="487.05" width="14" height="4.5" rx="2.25" fill="#000" opacity="0.07" filter="url(#b2)"/>
<rect x="498.05" y="488.15" width="14.5" height="2.3" rx="1.15" fill="#000" opacity="0.36" filter="url(#b3)" transform="rotate(-1.58 505.3 489.3)"/>
<rect x="498.3" y="487.55" width="14" height="4.5" rx="2.25" fill="#000" opacity="0.06" filter="url(#b2)"/>
<rect x="514.75" y="488.05" width="14.5" height="2.3" rx="1.15" fill="#000" opacity="0.7" filter="url(#b3)" transform="rotate(-1.58 522 489.2)"/>
<rect x="515" y="487.45" width="14" height="4.5" rx="2.25" fill="#000" opacity="0.13" filter="url(#b2)"/>
<rect x="531.45" y="487.8" width="14.5" height="2.3" rx="1.15" fill="#000" opacity="0.72" filter="url(#b3)" transform="rotate(-1.58 538.7 488.95)"/>
<rect x="531.7" y="487.2" width="14" height="4.5" rx="2.25" fill="#000" opacity="0.13" filter="url(#b2)"/>
<rect x="548.15" y="487.55" width="14.5" height="2.3" rx="1.15" fill="#000" opacity="0.8" filter="url(#b3)" transform="rotate(-1.58 555.4 488.7)"/>
<rect x="548.4" y="486.95" width="14" height="4.5" rx="2.25" fill="#000" opacity="0.14" filter="url(#b2)"/>
<rect x="564.85" y="487.3" width="14.5" height="2.3" rx="1.15" fill="#000" opacity="0.55" filter="url(#b3)" transform="rotate(-1.58 572.1 488.45)"/>
<rect x="565.1" y="486.7" width="14" height="4.5" rx="2.25" fill="#000" opacity="0.1" filter="url(#b2)"/>
<rect x="581.55" y="487.05" width="14.5" height="2.3" rx="1.15" fill="#000" opacity="0.52" filter="url(#b3)" transform="rotate(-1.58 588.8 488.2)"/>
<rect x="581.8" y="486.45" width="14" height="4.5" rx="2.25" fill="#000" opacity="0.09" filter="url(#b2)"/>
<rect x="598.25" y="486.8" width="14.5" height="2.3" rx="1.15" fill="#000" opacity="0.55" filter="url(#b3)" transform="rotate(-1.58 605.5 487.95)"/>
<rect x="598.5" y="486.2" width="14" height="4.5" rx="2.25" fill="#000" opacity="0.1" filter="url(#b2)"/>
</g>
<rect x="399.4" y="473.7" width="221" height="31.6" fill="none" stroke="#111" stroke-width="1.5"/>
<rect x="414.3" y="479.6" width="203.1" height="19.8" fill="none" stroke="#8446cc" stroke-width="1.45" stroke-dasharray="4.4,3.05"/>
<text x="390.1" y="491.95" font-size="8.9" fill="#222" text-anchor="end">49</text>
<line x1="393.1" y1="488.3" x2="399.2" y2="488.3" stroke="#111" stroke-width="1.2"/>
<line x1="620.3" y1="487.5" x2="627.8" y2="487.5" stroke="#111" stroke-width="1.2"/>
<text x="631" y="493.7" font-size="10.9">ETS2</text>
<clipPath id="cl8"><rect x="399.3" y="507" width="220.9" height="32.3"/></clipPath>
<rect x="399.3" y="507" width="220.9" height="32.3" fill="#f6f6f6" stroke="none" stroke-width="0"/>
<g clip-path="url(#cl8)">
<rect x="400" y="507" width="12" height="32.3" fill="#dcdcdc" stroke="none" stroke-width="0"/>
<rect x="401" y="517.5" width="8" height="3" rx="1.5" fill="#000" opacity="0.3" filter="url(#b1)"/>
<rect x="401" y="527.8" width="8" height="3" rx="1.5" fill="#000" opacity="0.35" filter="url(#b1)"/>
<rect x="402" y="510.5" width="6" height="5" rx="2.5" fill="#000" opacity="0.2" filter="url(#b2)"/>
<rect x="414.3" y="524.9" width="16.2" height="4.6" rx="2.3" fill="#000" opacity="1" filter="url(#b5)" transform="rotate(-1.77 422.4 527.2)"/>
<rect x="431" y="525.5" width="16.2" height="4.6" rx="2.3" fill="#000" opacity="1" filter="url(#b5)"/>
<rect x="447.7" y="525.5" width="16.2" height="4.6" rx="2.3" fill="#000" opacity="1" filter="url(#b5)"/>
<rect x="464.4" y="525.5" width="16.2" height="4.6" rx="2.3" fill="#000" opacity="1" filter="url(#b5)"/>
<rect x="481.1" y="525.5" width="16.2" height="4.6" rx="2.3" fill="#000" opacity="1" filter="url(#b5)"/>
<rect x="497.8" y="525.5" width="16.2" height="4.6" rx="2.3" fill="#000" opacity="1" filter="url(#b5)"/>
<rect x="514.5" y="525.5" width="16.2" height="4.6" rx="2.3" fill="#000" opacity="1" filter="url(#b5)"/>
<rect x="531.2" y="525.5" width="16.2" height="4.6" rx="2.3" fill="#000" opacity="1" filter="url(#b5)"/>
<rect x="547.9" y="525.5" width="16.2" height="4.6" rx="2.3" fill="#000" opacity="1" filter="url(#b5)"/>
<rect x="564.6" y="525.5" width="16.2" height="4.6" rx="2.3" fill="#000" opacity="1" filter="url(#b5)"/>
<rect x="581.3" y="525.5" width="16.2" height="4.6" rx="2.3" fill="#000" opacity="1" filter="url(#b5)"/>
<rect x="598" y="525.5" width="16.2" height="4.6" rx="2.3" fill="#000" opacity="1" filter="url(#b5)"/>
</g>
<rect x="399.3" y="507" width="220.9" height="32.3" fill="none" stroke="#111" stroke-width="1.5"/>
<rect x="414.2" y="517" width="203.9" height="19.8" fill="none" stroke="#8446cc" stroke-width="1.45" stroke-dasharray="4.4,3.05"/>
<text x="390.8" y="533.85" font-size="8.9" fill="#222" text-anchor="end">39</text>
<line x1="393.9" y1="530.5" x2="399.2" y2="530.5" stroke="#111" stroke-width="1.2"/>
<line x1="621" y1="527.4" x2="628" y2="527.4" stroke="#111" stroke-width="1.2"/>
<text x="631.7" y="530.2" font-size="10.9">&#946;-actin</text>
<clipPath id="cl9"><rect x="400.8" y="541.4" width="220.2" height="31.6"/></clipPath>
<rect x="400.8" y="541.4" width="220.2" height="31.6" fill="#f6f6f6" stroke="none" stroke-width="0"/>
<g clip-path="url(#cl9)">
<rect x="401.5" y="547" width="7" height="2" rx="1" fill="#000" opacity="0.2" filter="url(#b1)"/>
<rect x="401.5" y="556" width="7" height="2" rx="1" fill="#000" opacity="0.25" filter="url(#b1)"/>
<rect x="415.3" y="547" width="13" height="18" rx="3" fill="#000" opacity="0.01" filter="url(#b2)"/>
<rect x="415.3" y="556.7" width="13" height="5" rx="2.5" fill="#000" opacity="0.02" filter="url(#b1)"/>
<rect x="415.55" y="558.2" width="12.5" height="2.8" rx="1.4" fill="#000" opacity="0.07" filter="url(#b3)"/>
<rect x="432" y="547" width="13" height="18" rx="3" fill="#000" opacity="0.01" filter="url(#b2)"/>
<rect x="432" y="556.7" width="13" height="5" rx="2.5" fill="#000" opacity="0.02" filter="url(#b1)"/>
<rect x="432.25" y="558.2" width="12.5" height="2.8" rx="1.4" fill="#000" opacity="0.05" filter="url(#b3)"/>
<rect x="448.7" y="547" width="13" height="18" rx="3" fill="#000" opacity="0.01" filter="url(#b2)"/>
<rect x="448.7" y="556.7" width="13" height="5" rx="2.5" fill="#000" opacity="0.02" filter="url(#b1)"/>
<rect x="448.95" y="558.2" width="12.5" height="2.8" rx="1.4" fill="#000" opacity="0.05" filter="url(#b3)"/>
<rect x="465.4" y="547" width="13" height="18" rx="3" fill="#000" opacity="0.01" filter="url(#b2)"/>
<rect x="465.4" y="556.7" width="13" height="5" rx="2.5" fill="#000" opacity="0.03" filter="url(#b1)"/>
<rect x="465.65" y="558.2" width="12.5" height="2.8" rx="1.4" fill="#000" opacity="0.09" filter="url(#b3)"/>
<rect x="482.1" y="547" width="13" height="18" rx="3" fill="#000" opacity="0.01" filter="url(#b2)"/>
<rect x="482.1" y="556.7" width="13" height="5" rx="2.5" fill="#000" opacity="0.02" filter="url(#b1)"/>
<rect x="482.35" y="558.2" width="12.5" height="2.8" rx="1.4" fill="#000" opacity="0.06" filter="url(#b3)"/>
<rect x="498.8" y="547" width="13" height="18" rx="3" fill="#000" opacity="0.01" filter="url(#b2)"/>
<rect x="498.8" y="556.7" width="13" height="5" rx="2.5" fill="#000" opacity="0.02" filter="url(#b1)"/>
<rect x="499.05" y="558.2" width="12.5" height="2.8" rx="1.4" fill="#000" opacity="0.07" filter="url(#b3)"/>
<rect x="515.5" y="547" width="13" height="18" rx="3" fill="#000" opacity="0.11" filter="url(#b2)"/>
<rect x="515.5" y="556.7" width="13" height="5" rx="2.5" fill="#000" opacity="0.27" filter="url(#b1)"/>
<rect x="515.75" y="558.2" width="12.5" height="2.8" rx="1.4" fill="#000" opacity="0.78" filter="url(#b3)"/>
<rect x="532.2" y="547" width="13" height="18" rx="3" fill="#000" opacity="0.05" filter="url(#b2)"/>
<rect x="532.2" y="556.7" width="13" height="5" rx="2.5" fill="#000" opacity="0.13" filter="url(#b1)"/>
<rect x="532.45" y="558.2" width="12.5" height="2.8" rx="1.4" fill="#000" opacity="0.38" filter="url(#b3)"/>
<rect x="548.9" y="547" width="13" height="18" rx="3" fill="#000" opacity="0.14" filter="url(#b2)"/>
<rect x="548.9" y="556.7" width="13" height="5" rx="2.5" fill="#000" opacity="0.35" filter="url(#b1)"/>
<rect x="549.15" y="558.2" width="12.5" height="2.8" rx="1.4" fill="#000" opacity="1" filter="url(#b3)"/>
<rect x="565.6" y="547" width="13" height="18" rx="3" fill="#000" opacity="0.08" filter="url(#b2)"/>
<rect x="565.6" y="556.7" width="13" height="5" rx="2.5" fill="#000" opacity="0.2" filter="url(#b1)"/>
<rect x="565.85" y="558.2" width="12.5" height="2.8" rx="1.4" fill="#000" opacity="0.58" filter="url(#b3)"/>
<rect x="582.3" y="547" width="13" height="18" rx="3" fill="#000" opacity="0.07" filter="url(#b2)"/>
<rect x="582.3" y="556.7" width="13" height="5" rx="2.5" fill="#000" opacity="0.17" filter="url(#b1)"/>
<rect x="582.55" y="558.2" width="12.5" height="2.8" rx="1.4" fill="#000" opacity="0.48" filter="url(#b3)"/>
<rect x="599" y="547" width="13" height="18" rx="3" fill="#000" opacity="0.06" filter="url(#b2)"/>
<rect x="599" y="556.7" width="13" height="5" rx="2.5" fill="#000" opacity="0.14" filter="url(#b1)"/>
<rect x="599.25" y="558.2" width="12.5" height="2.8" rx="1.4" fill="#000" opacity="0.4" filter="url(#b3)"/>
<rect x="549.9" y="546" width="11" height="12" rx="3" fill="#000" opacity="0.22" filter="url(#b2)"/>
</g>
<rect x="400.8" y="541.4" width="220.2" height="31.6" fill="none" stroke="#111" stroke-width="1.5"/>
<rect x="414.6" y="548.6" width="204.2" height="19.6" fill="none" stroke="#8446cc" stroke-width="1.45" stroke-dasharray="4.4,3.05"/>
<text x="392.4" y="562.85" font-size="8.9" fill="#222" text-anchor="end">140</text>
<line x1="395.8" y1="557.3" x2="401.9" y2="557.3" stroke="#111" stroke-width="1.2"/>
<line x1="620.3" y1="561.6" x2="627.8" y2="561.6" stroke="#111" stroke-width="1.2"/>
<text x="631.7" y="567.8" font-size="10.9">HIF1&#945;</text>
<clipPath id="cl10"><rect x="400.2" y="576.7" width="221" height="32.1"/></clipPath>
<rect x="400.2" y="576.7" width="221" height="32.1" fill="#f6f6f6" stroke="none" stroke-width="0"/>
<g clip-path="url(#cl10)">
<rect x="402.5" y="580.5" width="7" height="5" rx="2.5" fill="#000" opacity="0.12" filter="url(#b2)"/>
<rect x="414.1" y="586.4" width="16.2" height="4.6" rx="2.3" fill="#000" opacity="1" filter="url(#b5)"/>
<rect x="430.8" y="586.4" width="16.2" height="4.6" rx="2.3" fill="#000" opacity="1" filter="url(#b5)"/>
<rect x="447.5" y="586.4" width="16.2" height="4.6" rx="2.3" fill="#000" opacity="1" filter="url(#b5)"/>
<rect x="464.2" y="586.4" width="16.2" height="4.6" rx="2.3" fill="#000" opacity="1" filter="url(#b5)"/>
<rect x="480.9" y="586.4" width="16.2" height="4.6" rx="2.3" fill="#000" opacity="1" filter="url(#b5)"/>
<rect x="497.6" y="586.4" width="16.2" height="4.6" rx="2.3" fill="#000" opacity="1" filter="url(#b5)"/>
<rect x="514.3" y="586.4" width="16.2" height="4.6" rx="2.3" fill="#000" opacity="1" filter="url(#b5)"/>
<rect x="531" y="586.4" width="16.2" height="4.6" rx="2.3" fill="#000" opacity="1" filter="url(#b5)"/>
<rect x="547.7" y="586.4" width="16.2" height="4.6" rx="2.3" fill="#000" opacity="1" filter="url(#b5)"/>
<rect x="564.4" y="586.4" width="16.2" height="4.6" rx="2.3" fill="#000" opacity="1" filter="url(#b5)"/>
<rect x="581.1" y="586.4" width="16.2" height="4.6" rx="2.3" fill="#000" opacity="1" filter="url(#b5)"/>
<rect x="597.8" y="586.4" width="16.2" height="4.6" rx="2.3" fill="#000" opacity="1" filter="url(#b5)" transform="rotate(-3.53 605.9 588.7)"/>
</g>
<rect x="400.2" y="576.7" width="221" height="32.1" fill="none" stroke="#111" stroke-width="1.5"/>
<rect x="411.3" y="581.1" width="205" height="19.3" fill="none" stroke="#8446cc" stroke-width="1.45" stroke-dasharray="4.4,3.05"/>
<text x="389.7" y="594.85" font-size="8.9" fill="#222" text-anchor="end">39</text>
<line x1="393.1" y1="591.1" x2="398.8" y2="591.1" stroke="#111" stroke-width="1.2"/>
<line x1="620.3" y1="587.8" x2="627.1" y2="587.8" stroke="#111" stroke-width="1.2"/>
<text x="630.5" y="591" font-size="10.9">&#946;-actin</text>
<clipPath id="cl11"><rect x="400.3" y="612" width="221.5" height="32.1"/></clipPath>
<rect x="400.3" y="612" width="221.5" height="32.1" fill="#f6f6f6" stroke="none" stroke-width="0"/>
<g clip-path="url(#cl11)">
<rect x="401" y="612" width="12.5" height="32" fill="#e2e2e2" stroke="none" stroke-width="0"/>
<rect x="403" y="624" width="10" height="5" rx="2.5" fill="#000" opacity="1" filter="url(#b1)"/>
<rect x="403.5" y="637.5" width="9" height="3" rx="1.5" fill="#000" opacity="0.45" filter="url(#b1)"/>
<rect x="415.05" y="628.9" width="13.5" height="2.6" rx="1.3" fill="#000" opacity="0.4" filter="url(#b3)"/>
<rect x="414.8" y="641" width="14" height="2.8" rx="1.4" fill="#000" opacity="0.45" filter="url(#b3)"/>
<rect x="431.75" y="628.9" width="13.5" height="2.6" rx="1.3" fill="#000" opacity="0.15" filter="url(#b3)"/>
<rect x="431.5" y="641" width="14" height="2.8" rx="1.4" fill="#000" opacity="0.45" filter="url(#b3)"/>
<rect x="448.45" y="628.9" width="13.5" height="2.6" rx="1.3" fill="#000" opacity="0.18" filter="url(#b3)"/>
<rect x="448.2" y="641" width="14" height="2.8" rx="1.4" fill="#000" opacity="0.5" filter="url(#b3)"/>
<rect x="465.15" y="628.9" width="13.5" height="2.6" rx="1.3" fill="#000" opacity="0.5" filter="url(#b3)"/>
<rect x="464.9" y="641" width="14" height="2.8" rx="1.4" fill="#000" opacity="0.6" filter="url(#b3)"/>
<rect x="481.85" y="628.9" width="13.5" height="2.6" rx="1.3" fill="#000" opacity="0.5" filter="url(#b3)"/>
<rect x="481.6" y="641" width="14" height="2.8" rx="1.4" fill="#000" opacity="0.8" filter="url(#b3)"/>
<rect x="498.55" y="628.9" width="13.5" height="2.6" rx="1.3" fill="#000" opacity="0.45" filter="url(#b3)"/>
<rect x="498.3" y="641" width="14" height="2.8" rx="1.4" fill="#000" opacity="0.85" filter="url(#b3)"/>
<rect x="515.25" y="628.9" width="13.5" height="2.6" rx="1.3" fill="#000" opacity="0.5" filter="url(#b3)"/>
<rect x="515" y="641" width="14" height="2.8" rx="1.4" fill="#000" opacity="0.9" filter="url(#b3)"/>
<rect x="531.95" y="628.9" width="13.5" height="2.6" rx="1.3" fill="#000" opacity="0.42" filter="url(#b3)"/>
<rect x="531.7" y="641" width="14" height="2.8" rx="1.4" fill="#000" opacity="0.9" filter="url(#b3)"/>
<rect x="548.65" y="628.9" width="13.5" height="2.6" rx="1.3" fill="#000" opacity="0.4" filter="url(#b3)"/>
<rect x="548.4" y="641" width="14" height="2.8" rx="1.4" fill="#000" opacity="0.8" filter="url(#b3)"/>
<rect x="565.35" y="628.9" width="13.5" height="2.6" rx="1.3" fill="#000" opacity="0.3" filter="url(#b3)"/>
<rect x="565.1" y="640.88" width="14" height="2.8" rx="1.4" fill="#000" opacity="0.65" filter="url(#b3)"/>
<rect x="582.05" y="628.9" width="13.5" height="2.6" rx="1.3" fill="#000" opacity="0.2" filter="url(#b3)"/>
<rect x="581.8" y="640.76" width="14" height="2.8" rx="1.4" fill="#000" opacity="0.75" filter="url(#b3)"/>
<rect x="598.75" y="628.9" width="13.5" height="2.6" rx="1.3" fill="#000" opacity="0.3" filter="url(#b3)"/>
<rect x="598.5" y="640.64" width="14" height="2.8" rx="1.4" fill="#000" opacity="0.85" filter="url(#b3)" transform="rotate(-4.09 605.5 642.04)"/>
</g>
<rect x="400.3" y="612" width="221.5" height="32.1" fill="none" stroke="#111" stroke-width="1.5"/>
<rect x="414.6" y="616.7" width="203.9" height="20.3" fill="none" stroke="#8446cc" stroke-width="1.45" stroke-dasharray="4.4,3.05"/>
<text x="391.1" y="626.75" font-size="8.9" fill="#222" text-anchor="end">63</text>
<line x1="393.9" y1="623" x2="400.4" y2="623" stroke="#111" stroke-width="1.2"/>
<line x1="621" y1="629.3" x2="629.4" y2="629.3" stroke="#111" stroke-width="1.2"/>
<text x="632.8" y="635.7" font-size="10.9">PFKFB3</text>
<clipPath id="cl12"><rect x="400.3" y="647.5" width="221.5" height="32.2"/></clipPath>
<rect x="400.3" y="647.5" width="221.5" height="32.2" fill="#f6f6f6" stroke="none" stroke-width="0"/>
<g clip-path="url(#cl12)">
<rect x="402.5" y="655" width="7" height="4" rx="2" fill="#000" opacity="0.15" filter="url(#b2)"/>
<rect x="402.5" y="666" width="7" height="4" rx="2" fill="#000" opacity="0.15" filter="url(#b2)"/>
<rect x="414.1" y="668.8" width="16.2" height="4" rx="2" fill="#000" opacity="0.95" filter="url(#b5)"/>
<rect x="430.8" y="668.8" width="16.2" height="4" rx="2" fill="#000" opacity="0.95" filter="url(#b5)"/>
<rect x="447.5" y="668.8" width="16.2" height="4" rx="2" fill="#000" opacity="0.95" filter="url(#b5)"/>
<rect x="464.2" y="668.8" width="16.2" height="4" rx="2" fill="#000" opacity="0.95" filter="url(#b5)"/>
<rect x="480.9" y="668.8" width="16.2" height="4" rx="2" fill="#000" opacity="0.95" filter="url(#b5)"/>
<rect x="497.6" y="668.8" width="16.2" height="4" rx="2" fill="#000" opacity="0.95" filter="url(#b5)"/>
<rect x="514.3" y="668.8" width="16.2" height="4" rx="2" fill="#000" opacity="0.95" filter="url(#b5)"/>
<rect x="531" y="668.8" width="16.2" height="4" rx="2" fill="#000" opacity="0.95" filter="url(#b5)"/>
<rect x="547.7" y="668.8" width="16.2" height="4" rx="2" fill="#000" opacity="0.95" filter="url(#b5)"/>
<rect x="564.4" y="668.8" width="16.2" height="4" rx="2" fill="#000" opacity="0.95" filter="url(#b5)"/>
<rect x="581.1" y="668.5" width="16.2" height="4" rx="2" fill="#000" opacity="0.95" filter="url(#b5)"/>
<rect x="597.8" y="668.2" width="16.2" height="4" rx="2" fill="#000" opacity="0.95" filter="url(#b5)" transform="rotate(-4.24 605.9 670.2)"/>
</g>
<rect x="400.3" y="647.5" width="221.5" height="32.2" fill="none" stroke="#111" stroke-width="1.5"/>
<rect x="414.6" y="660.8" width="203.9" height="15.1" fill="none" stroke="#8446cc" stroke-width="1.45" stroke-dasharray="4.4,3.05"/>
<text x="391.9" y="669.05" font-size="8.9" fill="#222" text-anchor="end">39</text>
<line x1="395.1" y1="665.5" x2="400.4" y2="665.5" stroke="#111" stroke-width="1.2"/>
<line x1="621" y1="662.4" x2="629" y2="662.4" stroke="#111" stroke-width="1.2"/>
<text x="632.3" y="665.4" font-size="10.9">&#946;-actin</text>
<line x1="103" y1="735.2" x2="103" y2="849.2" stroke="#111" stroke-width="1.1"/>
<line x1="103" y1="849.2" x2="498.5" y2="849.2" stroke="#111" stroke-width="1.1"/>
<line x1="98.5" y1="849.2" x2="103" y2="849.2" stroke="#111" stroke-width="1.1"/>
<text x="96.4" y="852.3" font-size="8.6" fill="#222" text-anchor="end">0.0</text>
<line x1="98.5" y1="811.35" x2="103" y2="811.35" stroke="#111" stroke-width="1.1"/>
<text x="96.4" y="814.45" font-size="8.6" fill="#222" text-anchor="end">0.5</text>
<line x1="98.5" y1="773.5" x2="103" y2="773.5" stroke="#111" stroke-width="1.1"/>
<text x="96.4" y="776.6" font-size="8.6" fill="#222" text-anchor="end">1.0</text>
<line x1="98.5" y1="735.65" x2="103" y2="735.65" stroke="#111" stroke-width="1.1"/>
<text x="96.4" y="738.75" font-size="8.6" fill="#222" text-anchor="end">1.5</text>
<text x="75.6" y="792.4" font-size="8.1" fill="#222" text-anchor="middle" transform="rotate(-90 75.6 792.4)">Relative proteins level</text>
<line x1="113.3" y1="849.2" x2="113.3" y2="853.5" stroke="#111" stroke-width="1.1"/>
<line x1="129.55" y1="849.2" x2="129.55" y2="853.5" stroke="#111" stroke-width="1.1"/>
<line x1="145.8" y1="849.2" x2="145.8" y2="853.5" stroke="#111" stroke-width="1.1"/>
<line x1="162.05" y1="849.2" x2="162.05" y2="853.5" stroke="#111" stroke-width="1.1"/>
<line x1="178.3" y1="849.2" x2="178.3" y2="853.5" stroke="#111" stroke-width="1.1"/>
<line x1="194.55" y1="849.2" x2="194.55" y2="853.5" stroke="#111" stroke-width="1.1"/>
<line x1="210.8" y1="849.2" x2="210.8" y2="853.5" stroke="#111" stroke-width="1.1"/>
<line x1="227.05" y1="849.2" x2="227.05" y2="853.5" stroke="#111" stroke-width="1.1"/>
<line x1="243.3" y1="849.2" x2="243.3" y2="853.5" stroke="#111" stroke-width="1.1"/>
<line x1="259.55" y1="849.2" x2="259.55" y2="853.5" stroke="#111" stroke-width="1.1"/>
<line x1="275.8" y1="849.2" x2="275.8" y2="853.5" stroke="#111" stroke-width="1.1"/>
<line x1="292.05" y1="849.2" x2="292.05" y2="853.5" stroke="#111" stroke-width="1.1"/>
<line x1="308.3" y1="849.2" x2="308.3" y2="853.5" stroke="#111" stroke-width="1.1"/>
<line x1="324.55" y1="849.2" x2="324.55" y2="853.5" stroke="#111" stroke-width="1.1"/>
<line x1="340.8" y1="849.2" x2="340.8" y2="853.5" stroke="#111" stroke-width="1.1"/>
<line x1="357.05" y1="849.2" x2="357.05" y2="853.5" stroke="#111" stroke-width="1.1"/>
<line x1="373.3" y1="849.2" x2="373.3" y2="853.5" stroke="#111" stroke-width="1.1"/>
<line x1="389.55" y1="849.2" x2="389.55" y2="853.5" stroke="#111" stroke-width="1.1"/>
<line x1="405.8" y1="849.2" x2="405.8" y2="853.5" stroke="#111" stroke-width="1.1"/>
<line x1="422.05" y1="849.2" x2="422.05" y2="853.5" stroke="#111" stroke-width="1.1"/>
<line x1="438.3" y1="849.2" x2="438.3" y2="853.5" stroke="#111" stroke-width="1.1"/>
<line x1="454.55" y1="849.2" x2="454.55" y2="853.5" stroke="#111" stroke-width="1.1"/>
<line x1="470.8" y1="849.2" x2="470.8" y2="853.5" stroke="#111" stroke-width="1.1"/>
<line x1="487.05" y1="849.2" x2="487.05" y2="853.5" stroke="#111" stroke-width="1.1"/>
<text x="116.3" y="855.2" font-size="8.4" text-anchor="end" transform="rotate(-90 116.3 855.2)">DMSO</text>
<text x="132.55" y="855.2" font-size="8.4" text-anchor="end" transform="rotate(-90 132.55 855.2)">IsoalloLCA</text>
<text x="148.8" y="855.2" font-size="8.4" text-anchor="end" transform="rotate(-90 148.8 855.2)">LPS DMSO</text>
<text x="165.05" y="855.2" font-size="8.4" text-anchor="end" transform="rotate(-90 165.05 855.2)">LPS IsoalloLCA</text>
<text x="181.3" y="855.2" font-size="8.4" text-anchor="end" transform="rotate(-90 181.3 855.2)">DMSO</text>
<text x="197.55" y="855.2" font-size="8.4" text-anchor="end" transform="rotate(-90 197.55 855.2)">IsoalloLCA</text>
<text x="213.8" y="855.2" font-size="8.4" text-anchor="end" transform="rotate(-90 213.8 855.2)">LPS DMSO</text>
<text x="230.05" y="855.2" font-size="8.4" text-anchor="end" transform="rotate(-90 230.05 855.2)">LPS IsoalloLCA</text>
<text x="246.3" y="855.2" font-size="8.4" text-anchor="end" transform="rotate(-90 246.3 855.2)">DMSO</text>
<text x="262.55" y="855.2" font-size="8.4" text-anchor="end" transform="rotate(-90 262.55 855.2)">IsoalloLCA</text>
<text x="278.8" y="855.2" font-size="8.4" text-anchor="end" transform="rotate(-90 278.8 855.2)">LPS DMSO</text>
<text x="295.05" y="855.2" font-size="8.4" text-anchor="end" transform="rotate(-90 295.05 855.2)">LPS IsoalloLCA</text>
<text x="311.3" y="855.2" font-size="8.4" text-anchor="end" fill="#111" transform="rotate(-90 311.3 855.2)"><tspan font-style="italic">Wt</tspan><tspan dx="0.8"> DMSO</tspan></text>
<text x="327.55" y="855.2" font-size="8.4" text-anchor="end" fill="#111" transform="rotate(-90 327.55 855.2)"><tspan font-style="italic">Wt</tspan><tspan dx="0.8"> IsoalloLCA</tspan></text>
<text x="343.8" y="855.2" font-size="8.4" text-anchor="end" fill="#111" transform="rotate(-90 343.8 855.2)"><tspan font-style="italic">Il10</tspan><tspan dx="1.8" dy="-3" font-size="5.8">-/-</tspan><tspan dx="0.8" dy="3"> DMSO</tspan></text>
<text x="360.05" y="855.2" font-size="8.4" text-anchor="end" fill="#111" transform="rotate(-90 360.05 855.2)"><tspan font-style="italic">Il10</tspan><tspan dx="1.8" dy="-3" font-size="5.8">-/-</tspan><tspan dx="0.8" dy="3"> IsoalloLCA</tspan></text>
<text x="376.3" y="855.2" font-size="8.4" text-anchor="end" fill="#111" transform="rotate(-90 376.3 855.2)"><tspan font-style="italic">Wt</tspan><tspan dx="0.8"> DMSO</tspan></text>
<text x="392.55" y="855.2" font-size="8.4" text-anchor="end" fill="#111" transform="rotate(-90 392.55 855.2)"><tspan font-style="italic">Wt</tspan><tspan dx="0.8"> IsoalloLCA</tspan></text>
<text x="408.8" y="855.2" font-size="8.4" text-anchor="end" fill="#111" transform="rotate(-90 408.8 855.2)"><tspan font-style="italic">Il10</tspan><tspan dx="0.3" dy="-3" font-size="5.8">-/-</tspan><tspan dy="3">DMSO</tspan></text>
<text x="425.05" y="855.2" font-size="8.4" text-anchor="end" fill="#111" transform="rotate(-90 425.05 855.2)"><tspan font-style="italic">Il10</tspan><tspan dx="0.3" dy="-3" font-size="5.8">-/-</tspan><tspan dy="3">IsoalloLCA</tspan></text>
<text x="441.3" y="855.2" font-size="8.4" text-anchor="end" fill="#111" transform="rotate(-90 441.3 855.2)"><tspan font-style="italic">Wt</tspan><tspan dx="0.8"> DMSO</tspan></text>
<text x="457.55" y="855.2" font-size="8.4" text-anchor="end" fill="#111" transform="rotate(-90 457.55 855.2)"><tspan font-style="italic">Wt</tspan><tspan dx="0.8"> IsoalloLCA</tspan></text>
<text x="473.8" y="855.2" font-size="8.4" text-anchor="end" fill="#111" transform="rotate(-90 473.8 855.2)"><tspan font-style="italic">Il10</tspan><tspan dx="0.3" dy="-3" font-size="5.8">-/-</tspan><tspan dy="3">DMSO</tspan></text>
<text x="490.05" y="855.2" font-size="8.4" text-anchor="end" fill="#111" transform="rotate(-90 490.05 855.2)"><tspan font-style="italic">Il10</tspan><tspan dx="0.3" dy="-3" font-size="5.8">-/-</tspan><tspan dy="3">IsoalloLCA</tspan></text>
<text x="148" y="715.8" font-size="9.3" text-anchor="middle">ETS2</text>
<line x1="113.8" y1="721.8" x2="170.8" y2="721.8" stroke="#222" stroke-width="1.1"/>
<text x="212.5" y="715.8" font-size="9.3" text-anchor="middle">HIF1&#945;</text>
<line x1="180.8" y1="721.8" x2="237.1" y2="721.8" stroke="#222" stroke-width="1.1"/>
<text x="277.9" y="715.8" font-size="9.3" text-anchor="middle">PFKFB3</text>
<line x1="246.3" y1="721.8" x2="303.3" y2="721.8" stroke="#222" stroke-width="1.1"/>
<text x="342.8" y="715.8" font-size="9.3" text-anchor="middle">ETS2</text>
<line x1="308.3" y1="721.8" x2="365.8" y2="721.8" stroke="#222" stroke-width="1.1"/>
<text x="407.6" y="715.8" font-size="9.3" text-anchor="middle">HIF1&#945;</text>
<line x1="375.5" y1="721.8" x2="432.5" y2="721.8" stroke="#222" stroke-width="1.1"/>
<text x="472.5" y="715.8" font-size="9.3" text-anchor="middle">PFKFB3</text>
<line x1="440.5" y1="721.8" x2="498" y2="721.8" stroke="#222" stroke-width="1.1"/>
<polyline points="113,743 113,740.8 168,740.8 168,743" fill="none" stroke="#222" stroke-width="1.1"/>
<text x="143.05" y="742" font-size="12.5" text-anchor="middle" letter-spacing="0.55">****</text>
<polyline points="175.8,743 175.8,740.8 231.2,740.8 231.2,743" fill="none" stroke="#222" stroke-width="1.1"/>
<text x="206.3" y="742" font-size="12.5" text-anchor="middle" letter-spacing="0.55">****</text>
<polyline points="242,743 242,740.8 297,740.8 297,743" fill="none" stroke="#222" stroke-width="1.1"/>
<text x="264.5" y="739.3" font-size="8.8" text-anchor="middle">ns</text>
<polyline points="313,743 313,740.8 368,740.8 368,743" fill="none" stroke="#222" stroke-width="1.1"/>
<text x="336.55" y="742" font-size="12.5" text-anchor="middle" letter-spacing="0.55">**</text>
<polyline points="375.5,743 375.5,740.8 430.8,740.8 430.8,743" fill="none" stroke="#222" stroke-width="1.1"/>
<text x="402.3" y="742" font-size="12.5" text-anchor="middle" letter-spacing="0.55">***</text>
<polyline points="438.8,743 438.8,740.8 494.3,740.8 494.3,743" fill="none" stroke="#222" stroke-width="1.1"/>
<text x="467" y="739.3" font-size="8.8" text-anchor="middle">ns</text>
<polyline points="110.8,774 110.8,771.8 132.5,771.8 132.5,774" fill="none" stroke="#222" stroke-width="1.1"/>
<text x="121.65" y="769.6" font-size="8.8" text-anchor="middle">ns</text>
<polyline points="146.3,766.4 146.3,764.2 168,764.2 168,766.4" fill="none" stroke="#222" stroke-width="1.1"/>
<text x="157.45" y="767.9" font-size="12.5" text-anchor="middle" letter-spacing="0.55">*</text>
<polyline points="173.8,774 173.8,771.8 196.3,771.8 196.3,774" fill="none" stroke="#222" stroke-width="1.1"/>
<text x="185.05" y="769.6" font-size="8.8" text-anchor="middle">ns</text>
<polyline points="209.3,766.4 209.3,764.2 231.3,764.2 231.3,766.4" fill="none" stroke="#222" stroke-width="1.1"/>
<text x="220.6" y="767.9" font-size="12.5" text-anchor="middle" letter-spacing="0.55">*</text>
<polyline points="239.5,774.6 239.5,772.4 261.8,772.4 261.8,774.6" fill="none" stroke="#222" stroke-width="1.1"/>
<text x="250.65" y="770.2" font-size="8.8" text-anchor="middle">ns</text>
<polyline points="275,766.6 275,764.4 297,764.4 297,766.6" fill="none" stroke="#222" stroke-width="1.1"/>
<text x="286" y="762.2" font-size="8.8" text-anchor="middle">ns</text>
<polyline points="310.8,774.6 310.8,772.4 332.5,772.4 332.5,774.6" fill="none" stroke="#222" stroke-width="1.1"/>
<text x="321.65" y="770.2" font-size="8.8" text-anchor="middle">ns</text>
<polyline points="346.3,766.4 346.3,764.2 368,764.2 368,766.4" fill="none" stroke="#222" stroke-width="1.1"/>
<text x="357.45" y="767.9" font-size="12.5" text-anchor="middle" letter-spacing="0.55">*</text>
<polyline points="373.3,774.2 373.3,772 395.5,772 395.5,774.2" fill="none" stroke="#222" stroke-width="1.1"/>
<text x="384.4" y="769.8" font-size="8.8" text-anchor="middle">ns</text>
<polyline points="408.3,766.4 408.3,764.2 430.8,764.2 430.8,766.4" fill="none" stroke="#222" stroke-width="1.1"/>
<text x="419.85" y="767.9" font-size="12.5" text-anchor="middle" letter-spacing="0.55">*</text>
<polyline points="436.8,774.2 436.8,772 458.8,772 458.8,774.2" fill="none" stroke="#222" stroke-width="1.1"/>
<text x="447.8" y="769.8" font-size="8.8" text-anchor="middle">ns</text>
<polyline points="471.8,766.4 471.8,764.2 494.3,764.2 494.3,766.4" fill="none" stroke="#222" stroke-width="1.1"/>
<text x="483.35" y="767.9" font-size="12.5" text-anchor="middle" letter-spacing="0.55">*</text>
<line x1="108.1" y1="819.25" x2="118.5" y2="819.25" stroke="#2323ff" stroke-width="1.2"/>
<circle cx="111.25" cy="816.25" r="3.1" fill="none" stroke="#2323ff" stroke-width="1.15"/>
<circle cx="113.25" cy="818" r="3.1" fill="none" stroke="#2323ff" stroke-width="1.15"/>
<circle cx="115.5" cy="823.75" r="3.1" fill="none" stroke="#2323ff" stroke-width="1.15"/>
<line x1="124.35" y1="825.5" x2="134.75" y2="825.5" stroke="#f52a2a" stroke-width="1.2"/>
<circle cx="128" cy="822.5" r="3.1" fill="none" stroke="#f52a2a" stroke-width="1.15"/>
<circle cx="130.5" cy="822.5" r="3.1" fill="none" stroke="#f52a2a" stroke-width="1.15"/>
<circle cx="131.75" cy="830.5" r="3.1" fill="none" stroke="#f52a2a" stroke-width="1.15"/>
<line x1="140.6" y1="787.5" x2="151" y2="787.5" stroke="#2fcf2f" stroke-width="1.2"/>
<circle cx="146.25" cy="782.5" r="3.1" fill="none" stroke="#2fcf2f" stroke-width="1.15"/>
<circle cx="143.75" cy="789.25" r="3.1" fill="none" stroke="#2fcf2f" stroke-width="1.15"/>
<circle cx="148" cy="791.25" r="3.1" fill="none" stroke="#2fcf2f" stroke-width="1.15"/>
<line x1="156.85" y1="797.5" x2="167.25" y2="797.5" stroke="#c236f5" stroke-width="1.2"/>
<circle cx="160.5" cy="795" r="3.1" fill="none" stroke="#c236f5" stroke-width="1.15"/>
<circle cx="162.5" cy="798.75" r="3.1" fill="none" stroke="#c236f5" stroke-width="1.15"/>
<circle cx="164.5" cy="800" r="3.1" fill="none" stroke="#c236f5" stroke-width="1.15"/>
<line x1="173.1" y1="844" x2="183.5" y2="844" stroke="#ff8a1c" stroke-width="1.2"/>
<circle cx="176.25" cy="842" r="3.1" fill="none" stroke="#ff8a1c" stroke-width="1.15"/>
<circle cx="178.75" cy="843.25" r="3.1" fill="none" stroke="#ff8a1c" stroke-width="1.15"/>
<circle cx="180.75" cy="846.25" r="3.1" fill="none" stroke="#ff8a1c" stroke-width="1.15"/>
<line x1="189.35" y1="843" x2="199.75" y2="843" stroke="#111111" stroke-width="1.2"/>
<circle cx="193" cy="841.25" r="3.1" fill="none" stroke="#111111" stroke-width="1.15"/>
<circle cx="195" cy="843.25" r="3.1" fill="none" stroke="#111111" stroke-width="1.15"/>
<circle cx="197" cy="843.75" r="3.1" fill="none" stroke="#111111" stroke-width="1.15"/>
<line x1="205.6" y1="791.25" x2="216" y2="791.25" stroke="#a06a26" stroke-width="1.2"/>
<circle cx="209.25" cy="786.25" r="3.1" fill="none" stroke="#a06a26" stroke-width="1.15"/>
<circle cx="213" cy="789.5" r="3.1" fill="none" stroke="#a06a26" stroke-width="1.15"/>
<circle cx="211.25" cy="798.75" r="3.1" fill="none" stroke="#a06a26" stroke-width="1.15"/>
<line x1="221.85" y1="803.5" x2="232.25" y2="803.5" stroke="#1c1ca6" stroke-width="1.2"/>
<circle cx="225.75" cy="798.75" r="3.1" fill="none" stroke="#1c1ca6" stroke-width="1.15"/>
<circle cx="228" cy="804.5" r="3.1" fill="none" stroke="#1c1ca6" stroke-width="1.15"/>
<circle cx="230" cy="805.5" r="3.1" fill="none" stroke="#1c1ca6" stroke-width="1.15"/>
<line x1="238.1" y1="817.5" x2="248.5" y2="817.5" stroke="#7e2386" stroke-width="1.2"/>
<circle cx="243.25" cy="789.25" r="3.1" fill="none" stroke="#7e2386" stroke-width="1.15"/>
<circle cx="242" cy="831.75" r="3.1" fill="none" stroke="#7e2386" stroke-width="1.15"/>
<circle cx="245.25" cy="831.75" r="3.1" fill="none" stroke="#7e2386" stroke-width="1.15"/>
<line x1="254.35" y1="813.25" x2="264.75" y2="813.25" stroke="#b8262a" stroke-width="1.2"/>
<circle cx="259.5" cy="807" r="3.1" fill="none" stroke="#b8262a" stroke-width="1.15"/>
<circle cx="257.5" cy="813.75" r="3.1" fill="none" stroke="#b8262a" stroke-width="1.15"/>
<circle cx="261.25" cy="818.75" r="3.1" fill="none" stroke="#b8262a" stroke-width="1.15"/>
<line x1="270.6" y1="798.75" x2="281" y2="798.75" stroke="#2e8a4e" stroke-width="1.2"/>
<circle cx="276.25" cy="788.75" r="3.1" fill="none" stroke="#2e8a4e" stroke-width="1.15"/>
<circle cx="274.25" cy="801.25" r="3.1" fill="none" stroke="#2e8a4e" stroke-width="1.15"/>
<circle cx="278" cy="806.25" r="3.1" fill="none" stroke="#2e8a4e" stroke-width="1.15"/>
<line x1="286.85" y1="815.5" x2="297.25" y2="815.5" stroke="#f2a466" stroke-width="1.2"/>
<circle cx="292.5" cy="809.25" r="3.1" fill="none" stroke="#f2a466" stroke-width="1.15"/>
<circle cx="290" cy="816.25" r="3.1" fill="none" stroke="#f2a466" stroke-width="1.15"/>
<circle cx="294.25" cy="820" r="3.1" fill="none" stroke="#f2a466" stroke-width="1.15"/>
<line x1="303.1" y1="817" x2="313.5" y2="817" stroke="#e4e416" stroke-width="1.2"/>
<circle cx="307" cy="809.25" r="3.1" fill="none" stroke="#e4e416" stroke-width="1.15"/>
<circle cx="310.5" cy="813" r="3.1" fill="none" stroke="#e4e416" stroke-width="1.15"/>
<circle cx="308.25" cy="828" r="3.1" fill="none" stroke="#e4e416" stroke-width="1.15"/>
<line x1="319.35" y1="827" x2="329.75" y2="827" stroke="#c9661a" stroke-width="1.2"/>
<circle cx="323" cy="825.5" r="3.1" fill="none" stroke="#c9661a" stroke-width="1.15"/>
<circle cx="325" cy="828" r="3.1" fill="none" stroke="#c9661a" stroke-width="1.15"/>
<circle cx="327" cy="828" r="3.1" fill="none" stroke="#c9661a" stroke-width="1.15"/>
<line x1="335.6" y1="782.5" x2="346" y2="782.5" stroke="#d2d2d2" stroke-width="1.2"/>
<circle cx="341.25" cy="773.75" r="3.1" fill="none" stroke="#d2d2d2" stroke-width="1.15"/>
<circle cx="339.5" cy="783" r="3.1" fill="none" stroke="#d2d2d2" stroke-width="1.15"/>
<circle cx="342.5" cy="791.25" r="3.1" fill="none" stroke="#d2d2d2" stroke-width="1.15"/>
<line x1="351.85" y1="805" x2="362.25" y2="805" stroke="#b4c81a" stroke-width="1.2"/>
<circle cx="355.5" cy="803.75" r="3.1" fill="none" stroke="#b4c81a" stroke-width="1.15"/>
<circle cx="357.5" cy="805" r="3.1" fill="none" stroke="#b4c81a" stroke-width="1.15"/>
<circle cx="359.25" cy="807" r="3.1" fill="none" stroke="#b4c81a" stroke-width="1.15"/>
<line x1="368.1" y1="832.7" x2="378.5" y2="832.7" stroke="#2323ff" stroke-width="1.2"/>
<circle cx="373" cy="827.7" r="3.1" fill="none" stroke="#2323ff" stroke-width="1.15"/>
<circle cx="370.5" cy="836.7" r="3.1" fill="none" stroke="#2323ff" stroke-width="1.15"/>
<circle cx="376" cy="836.7" r="3.1" fill="none" stroke="#2323ff" stroke-width="1.15"/>
<line x1="384.35" y1="826.5" x2="394.75" y2="826.5" stroke="#f52a2a" stroke-width="1.2"/>
<circle cx="389.5" cy="822.7" r="3.1" fill="none" stroke="#f52a2a" stroke-width="1.15"/>
<circle cx="387" cy="826" r="3.1" fill="none" stroke="#f52a2a" stroke-width="1.15"/>
<circle cx="391.5" cy="833.7" r="3.1" fill="none" stroke="#f52a2a" stroke-width="1.15"/>
<line x1="400.6" y1="799" x2="411" y2="799" stroke="#2fcf2f" stroke-width="1.2"/>
<circle cx="403.5" cy="791.5" r="3.1" fill="none" stroke="#2fcf2f" stroke-width="1.15"/>
<circle cx="407" cy="797.5" r="3.1" fill="none" stroke="#2fcf2f" stroke-width="1.15"/>
<circle cx="405.5" cy="810" r="3.1" fill="none" stroke="#2fcf2f" stroke-width="1.15"/>
<line x1="416.85" y1="820.5" x2="427.25" y2="820.5" stroke="#c236f5" stroke-width="1.2"/>
<circle cx="419.5" cy="818" r="3.1" fill="none" stroke="#c236f5" stroke-width="1.15"/>
<circle cx="422" cy="821.5" r="3.1" fill="none" stroke="#c236f5" stroke-width="1.15"/>
<circle cx="424.5" cy="822.5" r="3.1" fill="none" stroke="#c236f5" stroke-width="1.15"/>
<line x1="433.1" y1="822.5" x2="443.5" y2="822.5" stroke="#ff8a1c" stroke-width="1.2"/>
<circle cx="438" cy="808.5" r="3.1" fill="none" stroke="#ff8a1c" stroke-width="1.15"/>
<circle cx="435.5" cy="824" r="3.1" fill="none" stroke="#ff8a1c" stroke-width="1.15"/>
<circle cx="440" cy="833.5" r="3.1" fill="none" stroke="#ff8a1c" stroke-width="1.15"/>
<line x1="449.35" y1="832.5" x2="459.75" y2="832.5" stroke="#111111" stroke-width="1.2"/>
<circle cx="453" cy="831" r="3.1" fill="none" stroke="#111111" stroke-width="1.15"/>
<circle cx="455.5" cy="832.5" r="3.1" fill="none" stroke="#111111" stroke-width="1.15"/>
<circle cx="458" cy="834" r="3.1" fill="none" stroke="#111111" stroke-width="1.15"/>
<line x1="465.6" y1="819" x2="476" y2="819" stroke="#a06a26" stroke-width="1.2"/>
<circle cx="468.5" cy="815" r="3.1" fill="none" stroke="#a06a26" stroke-width="1.15"/>
<circle cx="472" cy="818.5" r="3.1" fill="none" stroke="#a06a26" stroke-width="1.15"/>
<circle cx="473" cy="823" r="3.1" fill="none" stroke="#a06a26" stroke-width="1.15"/>
<line x1="481.85" y1="837.7" x2="492.25" y2="837.7" stroke="#1c1ca6" stroke-width="1.2"/>
<circle cx="484.5" cy="837.5" r="3.1" fill="none" stroke="#1c1ca6" stroke-width="1.15"/>
<circle cx="487" cy="837.5" r="3.1" fill="none" stroke="#1c1ca6" stroke-width="1.15"/>
<circle cx="489.5" cy="838" r="3.1" fill="none" stroke="#1c1ca6" stroke-width="1.15"/>
</svg></body></html>
